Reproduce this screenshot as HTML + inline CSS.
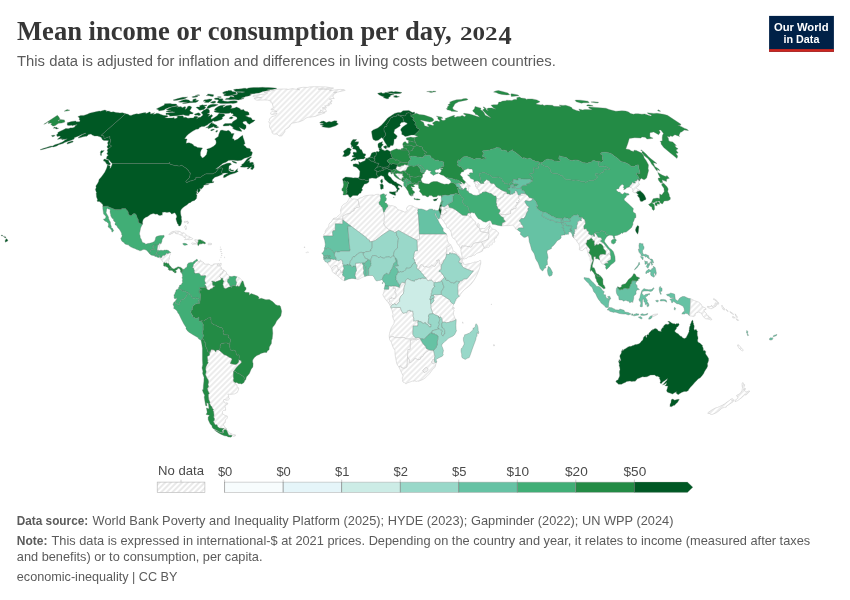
<!DOCTYPE html>
<html><head><meta charset="utf-8"><title>Mean income or consumption per day, 2024</title>
<style>
html,body{margin:0;padding:0;background:#fff}
body{width:850px;height:600px;position:relative;overflow:hidden;font-family:"Liberation Sans",sans-serif;color:#5b5b5b}
</style></head><body>
<svg id="map" width="850" height="600" viewBox="0 0 850 600" style="position:absolute;left:0;top:0"><defs><pattern id="hatch" patternUnits="userSpaceOnUse" width="4" height="4" patternTransform="rotate(-45)"><rect width="4" height="4" fill="#fff"/><rect y="1.4" width="4" height="1.2" fill="#e0e0e0"/></pattern></defs><path d="M157.7,245.1L157.7,244.7L158.4,245.0L159.4,243.3L159.9,243.3L160.3,243.7L160.2,244.4L159.6,245.6L159.8,246.0L159.4,246.9L159.5,247.2L159.1,248.5L158.6,249.2L158.2,249.3L157.6,250.2L156.9,250.2L157.4,247.2L157.7,245.1Z" fill="url(#hatch)" fill-rule="evenodd" stroke="#c4c4c4" stroke-width="0.5"/>
<path d="M160.6,257.8L161.3,257.7L161.6,257.1L162.0,257.1L162.0,255.8L162.6,255.7L163.1,255.8L163.6,255.1L164.3,255.6L164.5,255.3L165.0,255.0L165.8,254.2L165.9,253.7L166.2,253.7L166.5,253.1L166.8,253.0L167.1,253.4L167.6,253.5L168.1,253.2L168.7,253.2L169.5,252.8L169.9,252.5L170.7,252.5L170.5,252.8L170.3,253.4L170.4,254.3L169.8,255.2L169.5,256.3L169.3,257.5L169.4,258.1L169.3,259.3L168.9,259.6L168.6,260.7L168.8,261.4L168.2,262.1L168.3,262.8L168.6,263.2L168.0,263.8L167.3,263.6L167.0,263.1L166.3,262.8L165.7,263.2L164.3,262.5L163.9,262.8L163.1,262.0L162.1,260.9L161.7,260.1L160.8,259.2L159.7,258.0L160.0,257.6L160.4,258.0L160.6,257.8Z" fill="url(#hatch)" fill-rule="evenodd" stroke="#c4c4c4" stroke-width="0.5"/>
<path d="M206.6,288.7L206.0,286.1L205.4,285.2L204.5,284.6L205.8,283.3L205.7,282.7L205.0,281.9L204.6,280.2L204.9,278.3L205.4,277.4L205.9,275.9L205.0,275.5L203.7,275.8L202.0,275.7L201.1,275.9L199.5,273.7L198.2,273.3L195.2,273.6L194.7,272.7L194.1,272.5L194.1,271.9L194.4,270.9L194.2,269.9L193.8,269.3L193.5,268.1L192.3,267.9L193.0,266.4L193.4,264.5L194.2,263.5L195.1,262.8L195.8,261.5L197.3,261.0L199.9,262.1L199.7,260.8L200.6,260.0L201.3,261.8L202.9,261.9L204.3,263.3L204.4,264.2L206.4,264.2L208.9,264.0L210.2,265.2L212.0,265.5L213.3,264.7L213.4,264.0L216.2,263.8L219.0,263.8L217.0,264.6L217.7,265.8L219.6,266.0L221.3,267.3L221.6,269.4L222.8,269.4L223.7,270.0L222.3,273.5L221.7,273.9L220.3,274.4L220.3,275.6L219.6,276.3L221.2,278.3L221.4,279.1L220.6,280.1L217.9,281.1L216.3,281.4L215.6,282.1L213.7,281.4L212.0,281.1L211.6,281.3L212.6,282.0L212.5,283.8L212.8,285.4L214.7,285.7L214.9,286.2L213.2,286.9L212.9,288.1L211.9,288.5L210.2,289.1L209.7,289.9L207.9,290.1L206.6,288.7Z" fill="url(#hatch)" fill-rule="evenodd" stroke="#c4c4c4" stroke-width="0.5"/>
<path d="M209.6,351.8L210.0,352.5L211.3,349.4L214.3,350.1L215.8,352.0L216.5,349.9L219.1,350.0L219.5,350.5L224.2,354.8L226.1,355.2L229.1,357.2L231.5,358.2L232.0,359.4L230.2,363.4L232.6,364.1L235.2,364.5L236.9,364.1L238.7,362.0L238.8,359.7L241.2,360.7L241.4,362.8L239.7,364.3L238.3,365.4L236.1,367.9L233.6,371.5L233.4,373.6L233.3,376.3L233.8,378.9L233.4,379.5L233.5,381.2L233.7,382.6L236.9,384.9L237.0,386.7L238.6,387.8L238.7,389.1L237.3,392.4L234.5,393.9L230.3,394.4L227.8,394.1L228.6,395.7L228.7,397.7L229.5,399.0L228.4,399.9L226.3,400.3L224.0,399.3L223.4,400.0L224.4,402.6L226.1,403.4L227.0,402.5L228.0,403.9L226.3,404.7L225.1,406.3L225.6,408.9L225.6,410.3L223.6,410.3L222.4,411.6L222.4,413.6L225.1,415.5L227.3,416.0L227.3,418.3L225.4,419.7L225.2,422.7L223.7,423.7L223.4,424.9L225.1,427.5L227.0,429.0L226.1,428.9L224.1,428.5L219.2,428.1L217.7,426.7L216.9,424.8L215.7,424.9L214.6,424.0L213.3,421.3L214.4,420.2L214.4,418.6L213.7,417.3L214.0,415.1L213.6,411.7L212.8,410.1L213.5,409.6L213.0,408.7L211.8,408.2L212.2,407.1L210.9,406.1L209.4,403.1L210.1,402.6L208.7,399.4L208.4,396.7L208.3,394.4L209.3,393.4L208.0,390.9L207.3,388.5L208.6,386.7L208.0,384.5L208.6,382.0L208.1,379.5L207.4,379.1L205.4,374.5L206.2,371.8L205.6,369.3L205.9,366.9L207.0,364.4L208.3,362.8L207.5,361.8L207.8,360.9L207.2,356.5L209.5,355.2L209.6,351.8Z" fill="url(#hatch)" fill-rule="evenodd" stroke="#c4c4c4" stroke-width="0.5"/>
<path d="M221.2,278.3L219.6,276.3L220.3,275.6L220.3,274.4L221.7,273.9L222.3,273.5L223.7,270.0L225.2,270.9L226.6,272.7L226.6,274.0L227.4,274.1L228.7,275.4L229.5,276.3L229.1,278.7L227.7,279.3L227.8,279.9L227.3,281.3L228.3,283.2L229.1,283.2L229.4,284.7L230.7,287.0L230.2,287.1L228.9,286.9L228.1,287.6L227.1,288.0L226.3,288.2L226.1,288.7L224.9,288.5L223.5,287.3L223.4,286.1L222.8,284.7L223.2,282.5L223.9,281.6L223.3,280.4L222.6,280.0L222.9,278.8L222.4,278.2L221.2,278.3Z" fill="url(#hatch)" fill-rule="evenodd" stroke="#c4c4c4" stroke-width="0.5"/>
<path d="M235.5,285.9L236.1,284.8L236.3,283.6L236.7,282.5L235.8,280.9L235.7,279.1L236.9,276.8L237.7,277.1L239.4,277.8L241.8,280.0L242.2,281.1L240.8,283.5L240.0,285.4L239.1,286.4L238.0,286.6L237.7,285.9L237.2,285.7L236.5,286.4L235.5,285.9Z" fill="url(#hatch)" fill-rule="evenodd" stroke="#c4c4c4" stroke-width="0.5"/>
<path d="M102.8,206.4L108.3,205.9L107.9,206.4L115.2,209.6L121.4,209.5L121.8,208.5L125.6,208.5L126.2,209.4L127.0,210.2L128.0,211.4L128.4,212.7L128.5,214.2L129.5,215.0L131.1,215.8L133.1,213.7L134.9,213.6L136.2,214.7L136.9,216.5L137.3,218.0L138.3,219.5L138.4,221.4L138.7,222.6L140.3,223.4L141.8,224.0L142.7,223.9L141.4,226.2L140.6,228.1L139.9,231.7L139.5,233.0L139.6,234.4L140.1,235.7L140.3,237.7L141.5,239.7L141.9,241.2L142.6,242.5L144.9,243.2L145.7,244.3L147.8,243.5L149.6,243.3L151.4,242.8L152.9,242.3L154.5,241.3L155.2,239.7L155.7,237.5L156.2,236.7L157.9,236.1L160.4,235.5L162.4,235.5L163.8,235.3L164.3,235.9L164.0,237.1L162.6,238.7L161.8,240.3L162.2,240.8L161.7,241.9L160.9,244.0L160.4,243.3L159.9,243.3L159.4,243.3L158.4,245.0L157.7,244.7L157.7,245.1L155.6,245.1L153.5,245.1L153.3,246.6L152.2,246.6L153.0,247.5L153.7,248.1L153.9,248.7L154.3,248.8L154.1,249.7L151.2,249.7L149.8,251.9L150.1,252.4L149.8,253.0L149.6,253.7L147.3,250.9L146.2,250.1L144.4,249.4L143.1,249.6L141.2,250.6L139.9,250.8L138.4,250.1L136.8,249.6L134.7,248.4L133.1,248.0L130.6,246.8L128.9,245.6L128.4,244.8L127.2,244.7L124.9,243.9L124.2,242.7L121.9,241.2L121.1,239.5L120.7,238.2L121.5,238.0L121.4,237.2L122.0,236.5L122.2,235.6L121.6,234.5L121.6,233.4L121.0,232.1L119.5,229.5L117.6,227.4L116.8,225.8L115.1,224.7L114.9,224.1L115.6,222.4L114.6,221.8L113.5,220.5L113.4,218.7L112.3,218.5L111.4,217.1L110.7,215.8L110.8,215.0L110.2,213.0L110.0,211.0L110.4,210.0L109.1,208.9L108.3,209.1L107.3,208.3L106.6,209.4L106.5,210.7L106.1,212.6L106.6,213.7L107.7,215.5L107.9,216.1L108.2,216.4L108.2,217.2L108.6,217.2L108.6,218.9L109.1,219.6L109.4,220.5L110.4,221.9L110.6,224.3L111.0,225.5L111.4,226.7L111.2,228.1L112.3,228.1L113.0,229.3L113.6,230.5L113.5,231.0L112.3,232.0L111.9,232.0L111.6,230.3L110.4,228.8L109.0,227.6L108.0,226.9L108.5,225.0L108.5,223.6L107.6,222.7L106.4,221.6L106.0,221.9L105.6,221.2L104.3,220.6L103.4,219.1L103.6,218.9L104.5,219.0L105.6,218.0L106.0,216.8L104.8,215.0L103.7,214.2L103.4,212.6L103.2,210.9L102.8,208.7L102.8,206.4Z" fill="#41ae76" fill-rule="evenodd" stroke="#66756c" stroke-width="0.32"/>
<path d="M142.7,223.9L141.8,224.0L140.3,223.4L138.7,222.6L138.4,221.4L138.3,219.5L137.3,218.0L136.9,216.5L136.2,214.7L134.9,213.6L133.1,213.7L131.1,215.8L129.5,215.0L128.5,214.2L128.4,212.7L128.0,211.4L127.0,210.2L126.2,209.4L125.6,208.5L121.8,208.5L121.4,209.5L115.2,209.6L107.9,206.4L108.3,205.9L102.8,206.4L102.9,205.0L102.0,203.5L101.1,203.2L101.2,202.5L100.0,202.3L99.5,201.6L97.5,201.4L97.1,200.9L97.5,199.5L96.5,196.9L96.2,193.2L96.6,192.6L96.1,191.7L95.4,189.5L96.2,187.4L95.8,186.0L97.4,183.8L98.6,181.6L99.0,179.6L101.3,177.1L104.6,172.4L106.3,169.0L107.1,166.8L107.2,165.6L107.8,165.1L110.2,166.0L109.8,168.4L110.7,167.7L111.7,165.6L112.4,163.5L168.7,163.5L169.2,162.5L169.9,162.5L169.6,163.9L171.3,164.5L173.2,164.9L174.8,165.7L176.6,165.4L178.8,166.0L179.5,166.0L181.7,165.3L187.3,168.9L187.2,169.6L187.6,169.8L188.4,169.9L188.5,170.9L189.0,170.9L189.2,171.2L188.8,171.7L190.4,172.9L190.0,175.2L189.5,177.5L188.3,179.0L186.7,180.5L185.9,181.4L185.8,181.6L185.9,182.0L186.5,182.4L187.0,182.4L190.0,181.0L192.3,180.6L195.5,179.3L195.7,179.0L195.8,178.3L195.6,177.7L196.7,177.3L200.7,177.3L201.8,176.3L202.1,176.1L205.0,174.2L206.1,173.8L213.2,173.8L213.6,173.1L214.3,173.0L215.3,172.6L216.4,171.4L217.8,169.4L220.0,167.5L220.5,168.2L222.0,167.7L222.7,168.4L221.5,172.0L222.4,173.4L222.5,174.3L219.8,175.5L217.4,176.4L214.9,177.2L213.3,178.7L212.7,179.3L212.2,180.7L212.5,182.1L213.4,182.1L213.4,181.2L213.9,181.8L213.5,182.5L211.9,182.9L210.9,182.9L209.2,183.3L208.2,183.5L207.0,183.6L204.9,184.4L208.2,183.9L208.7,184.4L205.5,185.1L204.1,185.1L203.4,185.6L204.0,185.7L202.9,187.5L200.8,189.6L200.8,188.9L200.4,188.8L199.9,188.1L199.9,189.5L200.3,190.0L200.0,191.0L199.0,192.0L197.2,194.1L197.1,194.0L198.2,192.2L197.4,191.2L197.8,189.0L197.1,190.1L197.0,191.8L195.7,191.4L197.0,192.2L196.3,194.7L196.9,194.9L196.9,195.8L196.5,198.5L194.6,200.4L192.1,201.2L190.3,202.7L189.1,202.9L187.8,203.9L187.2,204.7L184.4,206.5L182.8,207.7L181.4,209.3L180.6,211.1L180.6,213.0L180.9,215.2L181.5,217.1L181.3,218.2L181.8,221.3L181.4,223.1L181.2,224.1L180.3,225.7L179.6,226.0L178.5,225.7L178.4,224.5L177.6,223.9L176.8,221.7L176.1,219.6L176.0,218.6L176.8,216.9L176.5,215.4L175.2,213.2L174.4,212.8L171.9,214.0L171.5,213.9L170.7,212.7L169.5,212.0L166.9,212.4L164.9,212.1L163.2,212.2L162.2,212.6L162.4,213.4L162.1,214.4L162.5,214.9L162.0,215.3L161.2,214.9L160.3,215.4L158.7,215.3L157.3,213.9L155.3,214.2L153.8,213.6L152.4,213.8L150.3,214.4L147.8,216.4L145.3,217.5L143.8,218.8L143.0,220.0L142.6,221.8L142.5,223.0L142.7,223.9Z" fill="#005824" fill-rule="evenodd" stroke="#66756c" stroke-width="0.32"/>
<path d="M149.6,253.7L149.8,253.0L150.1,252.4L149.8,251.9L151.2,249.7L154.1,249.7L154.3,248.8L153.9,248.7L153.7,248.1L153.0,247.5L152.2,246.6L153.3,246.6L153.5,245.1L155.6,245.1L157.7,245.1L157.4,247.2L156.9,250.2L157.6,250.2L158.3,250.7L158.5,250.3L159.2,250.6L158.0,251.6L156.9,252.3L156.6,252.9L156.7,253.4L156.2,254.1L155.6,254.2L155.8,254.5L155.3,254.8L154.4,255.5L154.3,255.8L153.2,255.4L151.7,255.3L150.7,254.8L149.6,253.7Z" fill="#41ae76" fill-rule="evenodd" stroke="#66756c" stroke-width="0.32"/>
<path d="M156.2,254.1L156.7,253.4L156.6,252.9L156.9,252.3L158.0,251.6L159.2,250.6L159.4,250.7L160.0,250.3L160.6,250.2L160.8,250.4L161.2,250.3L162.2,250.5L163.3,250.5L164.1,250.2L164.4,249.9L165.1,250.0L165.6,250.2L166.2,250.1L166.7,249.9L167.7,250.3L168.1,250.3L168.7,250.8L169.3,251.4L170.1,251.8L170.7,252.5L169.9,252.5L169.5,252.8L168.7,253.2L168.1,253.2L167.6,253.5L167.1,253.4L166.8,253.0L166.5,253.1L166.2,253.7L165.9,253.7L165.8,254.2L165.0,255.0L164.5,255.3L164.3,255.6L163.6,255.1L163.1,255.8L162.6,255.7L162.0,255.8L162.0,257.1L161.6,257.1L161.3,257.7L160.6,257.8L160.2,257.0L159.6,256.8L159.8,255.7L159.5,255.5L159.1,255.3L158.0,255.6L158.0,255.2L157.3,254.8L156.9,254.3L156.2,254.1Z" fill="#41ae76" fill-rule="evenodd" stroke="#66756c" stroke-width="0.32"/>
<path d="M154.3,255.8L154.4,255.5L155.3,254.8L155.8,254.5L155.6,254.2L156.2,254.1L156.9,254.3L157.3,254.8L158.0,255.2L158.0,255.6L159.1,255.3L159.5,255.5L159.8,255.7L159.6,256.8L159.3,257.4L157.9,257.4L157.1,257.1L156.2,256.6L154.9,256.4L154.3,255.8Z" fill="#41ae76" fill-rule="evenodd" stroke="#66756c" stroke-width="0.32"/>
<path d="M163.9,262.8L164.3,262.5L165.7,263.2L166.3,262.8L167.0,263.1L167.3,263.6L168.0,263.8L168.6,263.2L169.1,264.6L169.9,265.7L170.9,266.8L170.0,267.1L170.0,268.1L170.5,268.5L170.1,268.8L170.2,269.3L169.9,269.8L169.8,270.3L168.6,269.8L168.1,269.2L168.4,268.8L168.4,268.2L167.7,267.6L166.9,267.0L166.1,266.7L166.0,265.9L165.4,265.5L165.5,266.2L165.0,266.8L164.5,266.1L163.8,265.9L163.5,265.3L163.6,264.5L163.9,263.7L163.3,263.3L163.9,262.8Z" fill="#238b45" fill-rule="evenodd" stroke="#66756c" stroke-width="0.32"/>
<path d="M169.8,270.3L169.9,269.8L170.2,269.3L170.1,268.8L170.5,268.5L170.0,268.1L170.0,267.1L170.9,266.8L171.7,267.8L171.6,268.3L172.6,268.5L172.8,268.2L173.4,268.9L174.6,268.7L175.6,268.0L177.0,267.5L177.9,266.7L179.1,266.9L179.0,267.1L180.3,267.2L181.3,267.7L182.0,268.5L182.9,269.2L182.6,269.6L183.0,271.1L182.6,271.9L181.8,271.7L181.5,273.0L180.7,272.2L180.3,270.8L180.9,270.1L180.3,269.9L179.9,269.1L178.8,268.3L177.8,268.5L177.3,269.4L176.3,270.1L175.8,270.2L175.5,270.7L176.6,272.1L175.9,272.5L175.6,272.9L174.5,273.0L174.2,271.4L173.8,271.9L173.1,271.7L172.7,270.7L171.7,270.5L171.1,270.2L170.1,270.2L170.0,270.8L169.8,270.3Z" fill="#238b45" fill-rule="evenodd" stroke="#66756c" stroke-width="0.32"/>
<path d="M181.5,273.0L181.8,271.7L182.6,271.9L183.0,271.1L182.6,269.6L182.9,269.2L184.1,269.3L185.9,267.4L186.9,267.2L187.0,266.3L187.5,264.1L188.9,262.8L190.4,262.8L190.6,262.2L192.4,262.5L194.3,261.1L195.2,260.5L196.4,259.3L197.2,259.4L197.8,260.1L197.3,261.0L195.8,261.5L195.1,262.8L194.2,263.5L193.4,264.5L193.0,266.4L192.3,267.9L193.5,268.1L193.8,269.3L194.2,269.9L194.4,270.9L194.1,271.9L194.1,272.5L194.7,272.7L195.2,273.6L198.2,273.3L199.5,273.7L201.1,275.9L202.0,275.7L203.7,275.8L205.0,275.5L205.9,275.9L205.4,277.4L204.9,278.3L204.6,280.2L205.0,281.9L205.7,282.7L205.8,283.3L204.5,284.6L205.4,285.2L206.0,286.1L206.6,288.7L206.2,289.0L205.8,287.5L205.1,286.6L204.4,287.6L199.8,287.5L199.8,289.1L201.2,289.4L201.1,290.4L200.6,290.1L199.3,290.6L199.3,292.5L200.3,293.4L200.7,294.9L200.7,296.1L199.8,303.3L198.6,301.9L197.9,301.8L199.3,299.2L197.5,297.9L196.1,298.2L195.3,297.7L194.0,298.4L192.3,298.1L190.9,295.3L189.8,294.6L189.0,293.4L187.5,292.2L186.9,292.4L185.9,291.8L184.7,290.9L184.0,291.3L182.1,290.9L181.5,289.8L181.1,289.9L178.7,288.4L178.5,287.6L179.3,287.3L179.3,286.0L179.8,285.1L181.0,284.9L182.0,283.2L182.9,281.9L182.1,281.2L182.6,279.7L182.1,277.3L182.6,276.6L182.3,274.4L181.5,273.0Z" fill="#41ae76" fill-rule="evenodd" stroke="#66756c" stroke-width="0.32"/>
<path d="M199.8,303.3L200.7,296.1L200.7,294.9L200.3,293.4L199.3,292.5L199.3,290.6L200.6,290.1L201.1,290.4L201.2,289.4L199.8,289.1L199.8,287.5L204.4,287.6L205.1,286.6L205.8,287.5L206.2,289.0L206.6,288.7L207.9,290.1L209.7,289.9L210.2,289.1L211.9,288.5L212.9,288.1L213.2,286.9L214.9,286.2L214.7,285.7L212.8,285.4L212.5,283.8L212.6,282.0L211.6,281.3L212.0,281.1L213.7,281.4L215.6,282.1L216.3,281.4L217.9,281.1L220.6,280.1L221.4,279.1L221.2,278.3L222.4,278.2L222.9,278.8L222.6,280.0L223.3,280.4L223.9,281.6L223.2,282.5L222.8,284.7L223.4,286.1L223.5,287.3L224.9,288.5L226.1,288.7L226.3,288.2L227.1,288.0L228.1,287.6L228.9,286.9L230.2,287.1L230.7,287.0L232.0,287.2L232.2,286.7L231.8,286.2L232.1,285.4L233.0,285.6L234.1,285.4L235.5,285.9L236.5,286.4L237.2,285.7L237.7,285.9L238.0,286.6L239.1,286.4L240.0,285.4L240.8,283.5L242.2,281.1L243.0,280.9L243.5,282.4L244.8,287.0L246.0,287.4L246.1,289.2L244.3,291.4L245.0,292.2L249.2,292.6L249.3,295.3L251.0,293.5L253.9,294.5L257.8,296.1L259.0,297.6L258.6,299.1L261.3,298.3L265.9,299.7L269.3,299.6L272.8,301.7L275.8,304.7L277.6,305.4L279.6,305.6L280.5,306.4L281.3,309.7L281.7,311.3L280.9,315.7L279.7,317.4L276.6,321.0L275.2,324.0L273.6,326.3L273.0,326.4L272.4,328.3L272.8,333.2L272.4,337.3L272.2,339.0L271.6,340.0L271.4,343.6L269.3,347.0L269.1,349.7L267.3,350.9L266.8,352.4L264.4,352.4L260.9,353.4L259.4,354.6L256.9,355.4L254.4,357.5L252.7,360.1L252.6,362.0L253.1,363.5L253.0,366.2L252.6,367.4L251.3,368.9L249.4,373.5L247.8,375.6L246.4,376.9L245.8,379.4L244.6,380.9L243.8,379.4L244.5,378.1L243.0,376.3L241.0,374.9L238.4,373.2L237.6,373.3L235.0,371.2L233.6,371.5L236.1,367.9L238.3,365.4L239.7,364.3L241.4,362.8L241.2,360.7L238.8,359.7L239.1,358.2L239.2,356.7L239.1,355.2L238.2,354.7L237.4,355.2L236.6,355.0L236.2,354.0L235.8,351.6L235.3,350.8L233.7,350.1L232.8,350.6L230.3,350.1L229.4,345.1L230.0,344.5L229.7,343.0L230.2,341.9L230.4,339.8L229.8,338.2L228.5,337.4L228.1,336.4L228.4,334.9L223.9,334.8L222.8,331.7L223.5,331.7L223.4,330.5L222.9,329.8L222.7,328.3L221.3,327.5L219.8,327.5L218.8,326.7L217.2,326.2L216.3,325.2L213.6,324.8L211.0,322.4L211.1,320.7L210.8,319.7L210.9,317.7L207.9,318.1L206.7,319.1L204.7,320.2L204.3,321.0L203.1,321.0L201.3,320.8L200.1,321.3L199.0,321.0L198.9,317.0L197.1,318.5L195.1,318.4L194.1,317.0L192.5,316.9L193.0,315.8L191.6,314.2L190.5,311.8L191.2,311.3L191.1,310.2L192.5,309.4L192.2,308.0L192.8,307.1L192.9,305.9L195.5,304.1L197.7,303.2L199.8,303.3Z" fill="#238b45" fill-rule="evenodd" stroke="#66756c" stroke-width="0.32"/>
<path d="M186.9,292.4L187.5,292.2L189.0,293.4L189.8,294.6L190.9,295.3L192.3,298.1L194.0,298.4L195.3,297.7L196.1,298.2L197.5,297.9L199.3,299.2L197.9,301.8L198.6,301.9L199.8,303.3L197.7,303.2L195.5,304.1L192.9,305.9L192.8,307.1L192.2,308.0L192.5,309.4L191.1,310.2L191.2,311.3L190.5,311.8L191.6,314.2L193.0,315.8L192.5,316.9L194.1,317.0L195.1,318.4L197.1,318.5L198.9,317.0L199.0,321.0L200.1,321.3L201.3,320.8L203.6,325.0L203.2,325.9L203.2,327.8L203.3,330.0L202.5,331.3L203.0,332.3L202.5,333.2L203.7,335.4L202.6,338.3L202.1,339.6L201.0,340.3L198.5,338.8L198.2,337.7L193.4,335.0L189.0,332.2L187.1,330.5L185.9,328.4L186.2,327.6L184.0,324.2L181.4,319.3L178.9,314.1L177.9,312.9L177.1,310.9L175.2,309.2L173.5,308.2L174.2,307.0L173.0,304.5L173.7,302.6L175.5,300.9L175.8,302.1L175.2,302.7L175.3,303.7L176.2,303.4L177.2,303.7L178.2,305.1L179.5,304.0L179.8,302.2L181.2,299.9L184.0,298.9L186.5,296.1L187.2,294.4L186.9,292.4Z" fill="#41ae76" fill-rule="evenodd" stroke="#66756c" stroke-width="0.32"/>
<path d="M178.7,288.4L181.1,289.9L181.5,289.8L182.1,290.9L184.0,291.3L184.7,290.9L185.9,291.8L186.9,292.4L187.2,294.4L186.5,296.1L184.0,298.9L181.2,299.9L179.8,302.2L179.5,304.0L178.2,305.1L177.2,303.7L176.2,303.4L175.3,303.7L175.2,302.7L175.8,302.1L175.5,300.9L176.7,299.0L176.2,297.8L175.3,299.1L173.9,297.9L174.3,297.2L173.9,294.8L174.7,294.4L175.1,292.7L176.0,291.1L175.9,290.0L177.2,289.4L178.7,288.4Z" fill="#41ae76" fill-rule="evenodd" stroke="#66756c" stroke-width="0.32"/>
<path d="M202.6,338.3L203.7,335.4L202.5,333.2L203.0,332.3L202.5,331.3L203.3,330.0L203.2,327.8L203.2,325.9L203.6,325.0L201.3,320.8L203.1,321.0L204.3,321.0L204.7,320.2L206.7,319.1L207.9,318.1L210.9,317.7L210.8,319.7L211.1,320.7L211.0,322.4L213.6,324.8L216.3,325.2L217.2,326.2L218.8,326.7L219.8,327.5L221.3,327.5L222.7,328.3L222.9,329.8L223.4,330.5L223.5,331.7L222.8,331.7L223.9,334.8L228.4,334.9L228.1,336.4L228.5,337.4L229.8,338.2L230.4,339.8L230.2,341.9L229.7,343.0L230.0,344.5L229.4,345.1L229.3,344.3L227.0,342.9L224.9,342.9L221.0,343.7L220.1,346.0L220.2,347.4L219.5,350.5L219.1,350.0L216.5,349.9L215.8,352.0L214.3,350.1L211.3,349.4L210.0,352.5L209.6,351.8L208.0,352.2L206.7,348.5L205.2,345.6L205.7,343.1L204.3,341.9L203.9,340.0L202.6,338.3Z" fill="#238b45" fill-rule="evenodd" stroke="#66756c" stroke-width="0.32"/>
<path d="M201.0,340.3L202.1,339.6L202.6,338.3L203.9,340.0L204.3,341.9L205.7,343.1L205.2,345.6L206.7,348.5L208.0,352.2L209.6,351.8L209.5,355.2L207.2,356.5L207.8,360.9L207.5,361.8L208.3,362.8L207.0,364.4L205.9,366.9L205.6,369.3L206.2,371.8L205.4,374.5L207.4,379.1L208.1,379.5L208.6,382.0L208.0,384.5L208.6,386.7L207.3,388.5L208.0,390.9L209.3,393.4L208.3,394.4L208.4,396.7L208.7,399.4L210.1,402.6L209.4,403.1L210.9,406.1L212.2,407.1L211.8,408.2L213.0,408.7L213.5,409.6L212.8,410.1L213.6,411.7L214.0,415.1L213.7,417.3L214.4,418.6L214.4,420.2L213.3,421.3L214.6,424.0L215.7,424.9L216.9,424.8L217.7,426.7L219.2,428.1L224.1,428.5L222.2,430.4L223.0,432.7L222.2,432.8L219.6,432.0L216.5,430.2L213.4,428.8L212.1,427.2L212.0,425.7L210.2,424.0L208.2,419.7L208.1,417.2L209.5,415.2L206.1,414.5L207.2,412.2L206.4,407.9L209.0,408.8L208.3,403.4L206.6,402.7L207.1,406.0L205.6,405.6L205.0,401.9L204.2,397.1L204.7,395.3L203.3,392.7L202.3,389.8L203.2,389.7L203.4,385.4L203.9,381.2L204.0,377.3L202.6,373.4L202.9,371.2L202.0,367.9L202.7,364.7L202.4,359.7L202.4,354.2L202.4,348.3L201.8,344.0L201.0,340.3Z" fill="#238b45" fill-rule="evenodd" stroke="#66756c" stroke-width="0.32"/>
<path d="M219.5,350.5L220.2,347.4L220.1,346.0L221.0,343.7L224.9,342.9L227.0,342.9L229.3,344.3L229.4,345.1L230.3,350.1L232.8,350.6L233.7,350.1L235.3,350.8L235.8,351.6L236.2,354.0L236.6,355.0L237.4,355.2L238.2,354.7L239.1,355.2L239.2,356.7L239.1,358.2L238.8,359.7L238.7,362.0L236.9,364.1L235.2,364.5L232.6,364.1L230.2,363.4L232.0,359.4L231.5,358.2L229.1,357.2L226.1,355.2L224.2,354.8L219.5,350.5Z" fill="#238b45" fill-rule="evenodd" stroke="#66756c" stroke-width="0.32"/>
<path d="M233.6,371.5L235.0,371.2L237.6,373.3L238.4,373.2L241.0,374.9L243.0,376.3L244.5,378.1L243.8,379.4L244.6,380.9L244.0,382.5L241.7,384.0L240.0,383.4L238.9,383.7L236.7,382.6L235.2,382.7L233.5,381.2L233.4,379.5L233.8,378.9L233.3,376.3L233.4,373.6L233.6,371.5Z" fill="#238b45" fill-rule="evenodd" stroke="#66756c" stroke-width="0.32"/>
<path d="M230.7,287.0L229.4,284.7L229.1,283.2L228.3,283.2L227.3,281.3L227.8,279.9L227.7,279.3L229.1,278.7L229.5,276.3L232.3,276.8L232.6,276.3L234.5,276.1L236.9,276.8L235.7,279.1L235.8,280.9L236.7,282.5L236.3,283.6L236.1,284.8L235.5,285.9L234.1,285.4L233.0,285.6L232.1,285.4L231.8,286.2L232.2,286.7L232.0,287.2L230.7,287.0Z" fill="#41ae76" fill-rule="evenodd" stroke="#66756c" stroke-width="0.32"/>
<path d="M222.4,173.4L221.5,172.0L222.7,168.4L222.0,167.7L220.5,168.2L220.0,167.5L217.8,169.4L216.4,171.4L215.3,172.6L214.3,173.0L213.6,173.1L213.2,173.8L206.1,173.8L205.0,174.2L202.1,176.1L201.8,176.3L200.7,177.3L196.7,177.3L195.6,177.7L195.8,178.3L195.7,179.0L195.5,179.3L192.3,180.6L190.0,181.0L187.0,182.4L186.5,182.4L185.9,182.0L185.8,181.6L185.9,181.4L186.7,180.5L188.3,179.0L189.5,177.5L190.0,175.2L190.4,172.9L188.8,171.7L189.2,171.2L189.0,170.9L188.5,170.9L188.4,169.9L187.6,169.8L187.2,169.6L187.3,168.9L181.7,165.3L179.5,166.0L178.8,166.0L176.6,165.4L174.8,165.7L173.2,164.9L171.3,164.5L169.6,163.9L169.9,162.5L169.2,162.5L168.7,163.5L112.4,163.5L112.1,163.5L109.9,161.0L109.2,159.9L106.3,158.8L106.9,156.6L108.4,155.0L106.7,154.0L107.9,152.0L107.1,150.1L108.1,148.9L111.5,146.1L109.6,144.5L110.7,140.0L110.0,138.9L109.7,137.9L109.9,136.6L107.3,137.4L104.1,138.8L103.8,136.1L102.7,135.4L100.9,135.4L125.6,113.7L128.1,114.2L129.5,115.2L131.0,115.4L133.5,114.6L136.5,113.8L138.6,114.1L142.3,113.1L145.7,112.6L145.8,113.5L147.5,113.0L149.3,111.9L150.2,112.1L150.6,114.1L154.6,112.7L152.9,114.3L155.3,114.0L156.7,113.3L158.6,113.4L160.3,114.3L163.2,115.2L165.2,115.6L167.1,115.4L168.2,116.6L164.7,117.7L167.3,118.1L172.2,117.9L174.1,117.5L174.6,118.8L177.5,117.7L176.7,116.8L178.4,116.0L180.6,115.9L182.2,115.7L183.2,116.2L183.7,117.5L185.8,117.2L187.9,118.2L190.9,117.9L193.5,117.9L194.3,116.6L196.1,116.2L198.2,116.9L196.5,119.0L199.0,117.2L200.3,117.3L203.0,115.1L202.3,113.7L201.1,112.8L203.4,110.4L206.8,108.8L208.6,109.2L209.4,110.2L209.6,112.6L207.2,113.7L209.9,114.1L208.1,116.4L211.8,114.6L212.7,116.1L210.9,117.7L211.4,119.3L214.4,117.6L217.1,115.7L219.1,113.3L221.3,113.4L223.6,113.8L225.0,114.9L224.4,116.0L222.2,117.2L222.6,118.4L221.6,119.5L217.2,121.1L214.5,121.4L213.1,120.7L211.8,121.9L208.7,123.8L207.6,124.8L204.3,126.4L201.7,126.6L199.6,127.6L198.4,129.1L196.1,129.3L192.5,131.3L188.6,134.0L186.5,135.9L184.6,138.7L187.1,139.1L186.4,141.3L186.1,143.2L189.0,142.7L191.9,143.8L193.3,144.7L194.0,145.9L196.0,146.6L197.5,147.6L200.6,147.8L202.6,148.0L201.1,150.2L200.4,152.7L200.5,155.5L202.3,157.9L204.2,157.1L206.5,154.5L207.4,150.5L206.7,149.2L210.4,148.0L213.5,146.3L215.5,144.6L216.2,142.9L216.0,140.8L214.7,139.0L218.3,136.5L218.8,134.3L220.4,130.6L222.0,130.0L224.7,130.7L226.4,130.9L228.3,130.3L229.5,131.1L231.0,132.5L231.1,133.4L234.2,133.6L233.2,135.6L232.3,138.6L233.8,139.0L234.5,140.5L237.8,139.1L240.9,136.4L242.7,135.3L243.1,137.5L244.2,140.6L245.0,143.5L243.6,145.0L245.6,146.4L246.7,147.9L249.6,148.5L250.6,149.3L250.6,151.4L252.0,151.7L252.4,152.7L251.6,155.5L249.8,156.5L248.1,157.3L244.5,158.3L241.3,160.3L237.7,160.7L233.6,160.2L230.6,160.2L228.4,160.4L226.0,162.2L223.0,163.3L218.8,166.7L215.6,169.1L217.5,168.6L222.0,165.3L227.1,163.2L230.2,162.9L231.6,164.2L229.0,165.9L228.8,168.6L228.8,170.6L231.1,171.9L234.7,171.5L237.6,168.6L237.2,170.5L238.3,171.4L235.2,173.1L230.1,174.6L227.7,175.7L224.8,177.5L223.3,177.4L223.9,175.2L228.1,173.0L224.8,173.1L222.4,173.4Z" fill="#005824" fill-rule="evenodd" stroke="#66756c" stroke-width="0.32"/>
<path d="M125.6,113.7L100.9,135.4L102.7,135.4L103.8,136.1L104.1,138.8L107.3,137.4L109.9,136.6L109.7,137.9L110.0,138.9L110.7,140.0L109.6,144.5L111.5,146.1L108.1,148.9L107.8,147.9L106.8,147.1L108.2,145.0L107.5,143.0L108.6,140.7L107.0,140.5L104.0,140.5L102.5,139.7L101.1,137.2L99.8,136.8L97.4,135.9L94.6,136.1L92.1,135.0L91.1,134.0L88.5,134.5L87.0,136.2L85.8,136.3L83.1,136.8L80.6,137.6L78.0,138.1L79.2,136.7L82.7,134.4L85.5,133.6L85.7,133.0L81.8,134.4L78.8,136.0L74.2,137.7L74.2,138.9L70.6,140.6L67.4,141.6L64.7,142.4L63.0,143.5L58.7,144.7L56.8,145.9L53.5,146.9L52.3,146.8L49.8,147.5L46.9,148.3L44.4,149.1L40.3,149.9L40.5,149.4L43.8,148.3L46.6,147.5L50.1,146.2L52.8,145.9L54.8,144.8L59.1,143.4L60.0,142.9L62.4,142.0L64.8,140.2L67.3,138.7L64.4,139.5L64.2,139.0L62.2,139.9L62.3,138.7L60.8,139.6L61.5,138.4L58.5,139.3L57.4,139.3L58.9,137.9L60.3,137.0L60.1,136.1L57.1,136.6L56.9,135.5L56.3,134.9L58.0,133.6L57.8,132.5L60.2,131.2L63.4,129.8L65.6,128.6L67.3,128.4L68.0,128.8L70.9,127.7L72.0,127.9L74.3,127.2L75.3,126.1L74.8,125.7L77.3,124.8L76.2,124.8L73.6,125.3L72.4,125.8L71.7,125.3L68.8,125.6L67.0,125.0L67.4,124.1L67.1,122.8L71.5,121.5L75.9,120.9L76.1,121.8L79.6,121.8L80.0,120.4L79.2,119.5L79.5,118.4L79.1,117.5L77.8,116.7L80.6,115.4L83.7,115.4L87.3,114.3L89.4,113.2L92.4,112.4L94.6,112.0L99.2,111.0L100.3,111.3L104.6,110.1L106.4,110.5L106.3,111.5L107.6,111.0L110.2,111.2L109.3,111.7L111.5,112.1L113.4,111.8L116.0,112.6L118.8,112.8L119.9,113.0L122.5,112.7L124.1,113.3L125.6,113.7Z" fill="#005824" fill-rule="evenodd" stroke="#66756c" stroke-width="0.32"/>
<path d="M357.6,199.5L358.5,201.1L358.6,202.7L359.3,205.5L359.9,206.1L359.5,207.1L356.6,207.6L355.6,208.5L354.3,208.7L354.2,210.7L351.6,211.7L350.7,213.1L348.8,213.8L346.6,214.2L342.9,216.1L342.9,219.2L332.9,219.2L334.0,218.2L336.1,217.9L337.9,216.1L339.1,215.4L341.0,213.2L340.5,210.0L341.5,207.7L341.8,206.3L343.3,204.5L345.5,203.3L347.2,202.2L348.7,199.5L349.4,197.9L351.0,197.9L352.3,199.0L354.4,198.9L356.7,199.4L357.6,199.5Z" fill="url(#hatch)" fill-rule="evenodd" stroke="#c4c4c4" stroke-width="0.5"/>
<path d="M342.9,219.2L342.9,216.1L346.6,214.2L348.8,213.8L350.7,213.1L351.6,211.7L354.2,210.7L354.3,208.7L355.6,208.5L356.6,207.6L359.5,207.1L359.9,206.1L359.3,205.5L358.6,202.7L358.5,201.1L357.6,199.5L359.8,198.0L362.1,197.6L363.5,196.5L365.6,195.7L369.3,195.2L372.9,195.0L374.0,195.4L376.0,194.4L378.3,194.3L379.3,194.9L380.6,194.8L380.3,196.1L380.8,198.6L380.3,200.8L379.0,202.3L379.2,204.3L381.1,205.8L381.1,206.5L382.5,207.5L383.6,212.2L384.4,214.6L384.5,215.8L384.2,218.0L384.4,219.1L384.1,220.6L384.3,222.2L383.5,223.3L384.8,225.2L385.0,226.4L389.7,230.2L382.0,235.2L375.4,240.4L372.2,241.6L369.6,241.8L369.6,240.2L368.5,239.7L367.1,239.0L366.6,237.8L358.9,232.0L351.2,226.3L342.8,219.9L342.9,219.2Z" fill="url(#hatch)" fill-rule="evenodd" stroke="#c4c4c4" stroke-width="0.5"/>
<path d="M342.9,219.2L342.8,219.9L342.7,223.9L335.3,223.8L335.2,230.5L333.1,230.7L332.5,232.1L332.9,235.9L323.9,235.9L323.5,236.4L323.6,235.6L323.7,234.4L324.6,233.7L325.4,232.3L325.2,231.4L326.1,229.6L327.4,227.9L328.2,227.5L328.8,226.0L328.9,224.5L329.8,222.9L331.3,222.0L332.8,219.3L332.9,219.2L342.9,219.2Z" fill="url(#hatch)" fill-rule="evenodd" stroke="#c4c4c4" stroke-width="0.5"/>
<path d="M389.7,230.2L385.0,226.4L384.8,225.2L383.5,223.3L384.3,222.2L384.1,220.6L384.4,219.1L384.2,218.0L384.5,215.8L384.4,214.6L383.6,212.2L384.7,211.6L384.8,210.5L386.1,208.4L386.7,207.6L387.8,206.8L387.8,204.8L390.4,205.7L391.4,205.5L393.2,205.9L396.2,207.1L397.4,209.4L399.4,210.0L402.6,211.1L405.0,212.4L406.1,211.7L407.1,210.5L406.5,208.5L407.1,207.2L408.6,205.9L410.1,205.6L413.1,206.1L414.0,207.3L414.8,207.3L415.5,207.7L417.8,208.1L418.3,208.8L417.7,210.2L418.1,211.3L417.6,213.0L418.4,215.1L419.0,224.4L419.4,234.1L419.6,239.4L416.9,239.4L417.0,240.5L407.7,235.4L398.5,230.4L396.2,231.8L394.6,232.8L393.3,231.4L389.7,230.2Z" fill="url(#hatch)" fill-rule="evenodd" stroke="#c4c4c4" stroke-width="0.5"/>
<path d="M417.0,240.5L416.9,239.4L419.6,239.4L419.4,234.1L446.5,234.1L447.3,236.7L446.9,237.2L447.3,239.9L448.3,243.0L449.3,243.7L450.6,244.7L449.5,246.1L447.8,246.6L447.1,247.4L447.0,249.1L446.2,253.0L446.5,254.1L446.2,256.3L445.3,258.9L444.0,260.2L443.1,262.2L442.9,263.3L441.8,264.0L441.2,266.8L441.2,269.2L441.2,267.1L440.8,267.1L440.9,265.7L440.6,264.8L439.3,263.8L439.0,261.9L439.2,260.0L438.1,259.8L438.0,260.4L436.6,260.5L437.2,261.3L437.4,262.8L436.2,264.3L435.1,266.2L433.9,266.5L431.9,264.9L431.1,265.5L430.9,266.2L429.7,266.7L429.6,267.3L427.3,267.3L426.9,266.7L425.3,266.6L424.4,267.1L423.8,266.9L422.2,264.6L420.5,265.0L419.3,268.6L417.7,269.2L416.8,268.5L416.7,267.6L417.0,266.5L417.0,265.5L415.6,263.8L415.3,262.7L415.4,262.1L414.5,261.3L414.5,259.7L413.9,258.7L413.1,258.9L413.3,257.9L413.9,256.8L413.6,255.7L414.4,254.9L413.9,254.3L414.4,252.7L415.4,250.7L417.4,250.9L417.0,240.5Z" fill="url(#hatch)" fill-rule="evenodd" stroke="#c4c4c4" stroke-width="0.5"/>
<path d="M330.7,258.9L331.8,258.9L333.5,259.6L334.0,259.5L334.2,259.2L335.4,259.4L335.9,260.2L336.3,260.2L336.9,259.9L337.3,260.0L337.9,260.6L338.9,260.8L339.5,260.3L340.3,259.9L340.8,259.6L341.3,259.6L341.8,260.2L342.1,260.9L343.0,262.0L342.5,262.7L342.4,263.6L342.9,263.3L343.2,263.6L343.1,264.4L343.8,265.1L343.3,265.3L343.1,266.2L343.7,267.3L344.2,269.4L343.4,269.7L343.1,270.1L343.3,270.6L343.2,271.8L342.8,271.8L342.1,271.7L341.7,272.8L341.0,272.8L340.6,272.2L340.7,271.1L339.7,269.5L339.1,269.8L338.7,269.9L338.0,270.0L338.1,269.1L337.7,268.4L337.8,267.6L337.3,266.5L336.6,265.6L334.8,265.6L334.2,266.1L333.6,266.1L333.2,266.7L332.9,267.4L331.5,268.4L330.6,267.0L329.2,265.6L328.4,264.0L327.4,263.0L328.4,261.7L329.1,261.7L329.7,261.3L330.2,261.3L330.6,260.9L330.4,260.1L330.7,259.8L330.7,258.9Z" fill="url(#hatch)" fill-rule="evenodd" stroke="#c4c4c4" stroke-width="0.5"/>
<path d="M342.8,271.8L342.7,272.5L342.9,273.8L342.4,275.0L343.1,275.7L343.8,275.9L344.8,277.0L344.9,278.0L344.6,278.3L344.5,280.5L344.5,280.6L343.9,280.5L341.5,279.3L339.4,277.3L337.4,275.8L335.8,274.1L336.4,273.3L336.5,272.5L337.6,271.1L338.7,269.9L339.1,269.8L339.7,269.5L340.7,271.1L340.6,272.2L341.0,272.8L341.7,272.8L342.1,271.7L342.8,271.8Z" fill="url(#hatch)" fill-rule="evenodd" stroke="#c4c4c4" stroke-width="0.5"/>
<path d="M331.5,268.4L332.9,267.4L333.2,266.7L333.6,266.1L334.2,266.1L334.8,265.6L336.6,265.6L337.3,266.5L337.8,267.6L337.7,268.4L338.1,269.1L338.0,270.0L338.7,269.9L337.6,271.1L336.5,272.5L336.4,273.3L335.8,274.1L335.2,273.9L333.5,272.9L332.3,271.5L331.7,268.6L331.5,268.4Z" fill="url(#hatch)" fill-rule="evenodd" stroke="#c4c4c4" stroke-width="0.5"/>
<path d="M355.8,278.9L355.9,277.8L354.9,275.6L355.5,272.6L356.5,270.4L355.8,266.6L355.5,264.6L355.6,263.2L359.6,263.0L360.6,263.2L361.4,262.8L362.4,263.0L362.3,263.8L363.3,265.2L363.3,267.1L363.5,269.2L364.0,270.1L363.5,272.5L363.7,273.8L364.4,275.5L364.7,276.5L363.1,277.0L361.2,277.9L359.9,278.8L357.8,279.6L355.8,278.9Z" fill="url(#hatch)" fill-rule="evenodd" stroke="#c4c4c4" stroke-width="0.5"/>
<path d="M392.9,286.0L395.8,286.1L397.7,286.8L399.5,287.4L399.7,286.0L400.9,283.6L402.3,282.2L403.8,282.6L405.3,282.8L405.2,284.4L404.5,285.8L404.1,287.4L403.8,289.7L403.9,291.2L403.5,292.2L403.5,293.1L403.2,293.9L401.7,295.2L400.6,296.6L399.6,299.1L399.7,301.3L399.1,302.2L397.7,303.4L396.3,305.1L395.5,304.6L395.3,303.9L394.0,303.8L393.2,304.8L392.6,304.6L391.8,303.7L391.1,304.1L390.1,305.3L388.2,302.5L390.0,301.0L389.1,299.3L389.9,298.6L391.5,298.3L391.7,297.1L392.9,298.4L395.0,298.5L395.7,297.3L396.0,295.5L395.8,293.4L394.6,291.9L395.7,288.8L395.1,288.3L393.3,288.6L392.9,286.0Z" fill="url(#hatch)" fill-rule="evenodd" stroke="#c4c4c4" stroke-width="0.5"/>
<path d="M388.7,286.1L389.8,285.9L391.2,286.2L392.6,285.9L392.9,286.0L393.3,288.6L395.1,288.3L395.7,288.8L394.6,291.9L395.8,293.4L396.0,295.5L395.7,297.3L395.0,298.5L392.9,298.4L391.7,297.1L391.5,298.3L389.9,298.6L389.1,299.3L390.0,301.0L388.2,302.5L385.8,299.8L384.3,297.6L382.9,294.9L383.0,294.1L383.5,293.2L384.0,291.3L384.5,289.3L384.4,289.3L385.3,289.2L388.7,289.2L388.7,286.1Z" fill="url(#hatch)" fill-rule="evenodd" stroke="#c4c4c4" stroke-width="0.5"/>
<path d="M426.1,278.2L425.7,277.4L423.9,276.3L423.3,274.8L422.3,273.6L420.7,272.3L420.7,271.4L419.4,270.3L417.7,269.2L419.3,268.6L420.5,265.0L422.2,264.6L423.8,266.9L424.4,267.1L425.3,266.6L426.9,266.7L427.3,267.3L429.6,267.3L429.7,266.7L430.9,266.2L431.1,265.5L431.9,264.9L433.9,266.5L435.1,266.2L436.2,264.3L437.4,262.8L437.2,261.3L436.6,260.5L438.0,260.4L438.1,259.8L439.2,260.0L439.0,261.9L439.3,263.8L440.6,264.8L440.9,265.7L440.8,267.1L441.2,267.1L441.2,269.2L440.9,269.9L439.7,270.0L438.9,271.5L440.4,271.7L441.6,273.0L442.0,274.0L443.1,274.7L444.5,277.5L442.9,279.2L441.5,280.8L440.1,282.0L438.5,282.0L436.6,282.6L435.1,282.1L434.2,282.8L432.1,281.0L431.5,279.9L430.2,280.4L429.2,280.3L428.5,280.7L427.5,280.4L426.1,278.2Z" fill="url(#hatch)" fill-rule="evenodd" stroke="#c4c4c4" stroke-width="0.5"/>
<path d="M390.1,305.3L391.1,304.1L391.8,303.7L392.6,304.6L391.8,305.2L390.7,307.2L390.1,305.3Z" fill="url(#hatch)" fill-rule="evenodd" stroke="#c4c4c4" stroke-width="0.5"/>
<path d="M391.0,308.1L392.0,307.7L392.7,307.7L393.5,307.4L400.4,307.5L400.9,309.4L401.6,311.0L402.1,311.9L403.0,313.2L404.5,313.0L405.3,312.7L406.6,313.0L406.9,312.4L407.5,310.8L409.0,310.7L409.1,310.3L410.3,310.3L410.0,311.2L412.9,311.2L412.9,312.8L413.4,313.9L413.0,315.4L413.1,317.0L413.9,318.0L413.7,321.2L414.3,320.9L415.3,321.0L416.7,320.6L417.8,320.8L418.0,321.6L417.7,322.8L418.1,324.1L417.7,325.1L417.9,326.0L413.1,325.9L412.8,334.3L414.3,336.5L415.7,338.1L411.5,339.2L405.9,338.8L404.4,337.5L395.1,337.7L394.7,337.8L393.3,336.7L391.9,336.6L390.5,337.0L389.4,337.5L389.2,335.9L389.5,333.5L390.5,330.0L391.3,327.7L393.2,324.8L393.9,323.7L394.2,321.7L394.1,320.2L393.4,319.3L392.4,315.6L393.1,314.5L392.0,310.2L391.0,308.1Z" fill="url(#hatch)" fill-rule="evenodd" stroke="#c4c4c4" stroke-width="0.5"/>
<path d="M432.9,313.7L430.8,307.6L431.0,306.3L430.7,303.8L431.6,303.7L432.5,302.8L433.4,301.4L434.0,300.8L434.0,300.0L433.5,299.4L433.3,298.3L434.0,298.0L434.2,296.5L433.2,295.0L434.1,294.7L436.6,294.7L441.4,294.5L441.7,294.8L450.2,300.2L450.3,301.7L453.6,304.3L452.5,307.6L452.6,309.1L454.0,310.0L454.1,310.7L453.4,312.3L453.5,313.1L453.4,314.3L454.1,316.0L455.0,318.6L455.9,319.2L456.1,319.5L453.9,320.7L451.4,321.7L450.0,321.7L449.1,322.4L447.5,322.5L446.9,322.8L444.2,322.1L442.4,322.3L441.9,318.7L441.1,317.5L440.7,316.8L439.5,317.5L438.4,316.3L437.1,315.5L435.6,315.1L434.7,314.6L433.8,313.9L432.9,313.7Z" fill="url(#hatch)" fill-rule="evenodd" stroke="#c4c4c4" stroke-width="0.5"/>
<path d="M459.3,296.4L457.9,294.3L457.8,284.7L459.8,281.7L460.4,280.9L461.9,280.8L463.9,278.9L467.0,278.8L473.4,270.9L471.4,270.9L463.7,267.8L462.8,266.9L461.9,265.6L461.0,264.2L461.5,263.2L462.3,261.8L463.1,262.3L463.6,263.4L464.6,264.5L465.8,264.5L468.0,263.8L470.5,263.5L472.5,262.7L473.6,262.6L474.4,262.1L475.7,262.0L476.5,261.9L478.7,261.3L479.8,260.4L480.7,260.4L480.8,262.6L480.7,264.0L480.2,265.0L479.7,267.8L478.7,270.7L477.3,274.1L475.4,277.9L473.5,280.9L470.8,284.5L468.5,286.6L465.0,289.2L462.9,291.2L460.3,294.4L459.8,295.8L459.3,296.4Z" fill="url(#hatch)" fill-rule="evenodd" stroke="#c4c4c4" stroke-width="0.5"/>
<path d="M460.3,259.0L459.5,258.1L458.5,256.6L457.4,255.8L456.8,254.8L454.8,253.8L453.2,253.8L452.6,253.2L451.3,253.8L449.8,252.6L449.2,254.6L446.5,254.1L446.2,253.0L447.0,249.1L447.1,247.4L447.8,246.6L449.5,246.1L450.6,244.7L452.3,247.7L452.8,250.1L454.1,251.4L454.7,251.7L457.4,253.9L458.8,255.4L460.8,257.8L462.0,258.6L461.3,259.2L460.3,259.0Z" fill="url(#hatch)" fill-rule="evenodd" stroke="#c4c4c4" stroke-width="0.5"/>
<path d="M461.5,263.2L460.9,262.8L460.4,263.0L459.1,262.9L459.1,262.1L458.8,261.4L459.6,260.2L460.3,259.0L461.3,259.2L462.0,258.6L462.6,259.4L462.6,260.5L461.3,261.1L462.3,261.8L461.5,263.2Z" fill="url(#hatch)" fill-rule="evenodd" stroke="#c4c4c4" stroke-width="0.5"/>
<path d="M420.0,338.5L420.4,338.7L421.2,340.8L421.7,341.2L422.3,342.8L424.8,345.7L425.8,345.9L425.7,346.9L426.3,348.5L429.5,350.1L426.2,352.1L424.0,354.0L423.2,355.8L422.5,356.8L421.2,357.0L420.8,358.2L420.5,359.1L419.0,359.7L417.2,359.5L416.1,358.8L415.2,358.5L414.1,359.1L413.5,360.4L412.4,361.2L411.2,362.3L409.5,362.6L409.1,361.7L409.4,360.1L408.1,357.6L407.5,357.2L407.8,349.5L410.0,349.4L410.4,340.0L412.1,339.9L415.7,339.0L416.5,340.1L418.0,339.1L418.7,339.1L420.0,338.5Z" fill="url(#hatch)" fill-rule="evenodd" stroke="#c4c4c4" stroke-width="0.5"/>
<path d="M415.7,338.1L417.6,337.5L419.1,337.7L420.0,338.3L420.0,338.5L418.7,339.1L418.0,339.1L416.5,340.1L415.7,339.0L412.1,339.9L410.4,340.0L410.0,349.4L407.8,349.5L407.5,357.2L407.1,366.9L405.0,368.2L403.8,368.4L402.4,367.9L401.4,367.7L401.1,366.6L400.2,365.9L399.1,367.2L397.5,365.2L396.7,363.3L395.8,358.8L395.1,354.8L394.9,350.2L394.0,349.1L392.9,346.9L391.3,342.1L389.5,339.5L389.4,337.5L390.5,337.0L391.9,336.6L393.3,336.7L394.7,337.8L395.1,337.7L404.4,337.5L405.9,338.8L411.5,339.2L415.7,338.1Z" fill="url(#hatch)" fill-rule="evenodd" stroke="#c4c4c4" stroke-width="0.5"/>
<path d="M429.5,350.1L430.4,350.2L432.3,350.3L433.5,350.5L434.4,354.3L434.9,356.1L434.3,359.0L434.4,360.0L433.3,359.5L432.6,359.7L432.4,360.5L431.7,361.5L431.7,362.4L432.9,363.8L434.2,363.5L434.8,362.3L436.5,362.4L435.8,364.3L435.3,366.5L434.7,367.6L433.0,369.0L432.6,369.4L430.8,372.0L429.4,373.9L426.6,376.7L424.9,378.2L423.1,379.4L420.7,380.4L419.6,380.6L419.2,381.3L417.9,380.9L416.8,381.4L414.4,380.9L413.1,381.3L412.2,381.1L409.8,382.1L407.9,382.6L406.5,383.6L405.5,383.6L404.6,382.7L403.9,382.6L402.9,381.8L402.6,381.1L402.7,379.6L402.1,377.8L402.9,377.3L402.9,375.3L401.6,372.9L400.6,370.6L399.1,367.2L400.2,365.9L401.1,366.6L401.4,367.7L402.4,367.9L403.8,368.4L405.0,368.2L407.1,366.9L407.5,357.2L408.1,357.6L409.4,360.1L409.1,361.7L409.5,362.6L411.2,362.3L412.4,361.2L413.5,360.4L414.1,359.1L415.2,358.5L416.1,358.8L417.2,359.5L419.0,359.7L420.5,359.1L420.8,358.2L421.2,357.0L422.5,356.8L423.2,355.8L424.0,354.0L426.2,352.1L429.5,350.1ZM427.4,368.2L426.5,367.4L425.4,367.9L424.1,368.9L422.8,370.6L424.3,372.6L425.1,372.4L425.6,371.5L426.9,371.1L427.3,370.3L428.1,369.0L427.4,368.2Z" fill="url(#hatch)" fill-rule="evenodd" stroke="#c4c4c4" stroke-width="0.5"/>
<path d="M434.4,360.0L434.8,362.3L434.2,363.5L432.9,363.8L431.7,362.4L431.7,361.5L432.4,360.5L432.6,359.7L433.3,359.5L434.4,360.0Z" fill="url(#hatch)" fill-rule="evenodd" stroke="#c4c4c4" stroke-width="0.5"/>
<path d="M427.4,368.2L428.1,369.0L427.3,370.3L426.9,371.1L425.6,371.5L425.1,372.4L424.3,372.6L422.8,370.6L424.1,368.9L425.4,367.9L426.5,367.4L427.4,368.2Z" fill="url(#hatch)" fill-rule="evenodd" stroke="#c4c4c4" stroke-width="0.5"/>
<path d="M407.5,165.0L408.7,165.7L409.0,166.4L407.8,166.9L407.0,168.6L405.9,170.4L404.3,170.9L403.0,170.8L401.5,171.4L400.8,171.8L399.0,171.3L397.3,170.2L396.7,169.9L396.2,169.0L395.8,169.0L396.4,167.3L395.9,166.8L397.1,166.8L397.2,165.7L398.3,166.4L399.1,166.7L400.7,166.4L400.9,165.8L401.6,165.8L402.6,165.4L402.9,165.5L403.8,165.2L404.2,164.6L404.8,164.5L407.1,165.2L407.5,165.0Z" fill="url(#hatch)" fill-rule="evenodd" stroke="#c4c4c4" stroke-width="0.5"/>
<path d="M402.1,174.1L402.9,174.1L402.4,175.3L403.5,176.3L403.3,177.5L402.9,177.6L402.5,177.9L401.9,178.4L401.7,179.9L399.7,178.9L398.8,177.8L398.0,177.2L397.0,176.3L396.4,175.5L395.3,174.2L395.7,173.2L396.5,173.8L396.9,173.2L397.8,173.2L399.7,173.6L401.1,173.6L402.1,174.1Z" fill="url(#hatch)" fill-rule="evenodd" stroke="#c4c4c4" stroke-width="0.5"/>
<path d="M441.5,205.9L444.1,207.0L448.1,204.2L449.4,207.4L449.0,207.8L444.7,209.1L447.2,211.7L446.5,212.2L446.2,213.1L444.6,213.4L444.1,214.4L443.3,215.2L440.7,214.7L440.6,214.4L441.3,210.2L441.2,209.1L441.4,208.4L441.2,206.8L441.5,205.9Z" fill="url(#hatch)" fill-rule="evenodd" stroke="#c4c4c4" stroke-width="0.5"/>
<path d="M441.2,206.8L441.4,208.4L441.2,209.1L440.2,209.5L440.2,208.8L440.7,208.5L440.1,208.1L440.4,206.4L441.2,206.8Z" fill="url(#hatch)" fill-rule="evenodd" stroke="#c4c4c4" stroke-width="0.5"/>
<path d="M440.7,214.7L443.3,215.2L444.1,214.4L444.6,213.4L446.2,213.1L446.5,212.2L447.2,211.7L444.7,209.1L449.0,207.8L449.4,207.4L452.2,208.1L455.7,209.9L462.6,215.2L466.8,215.4L468.8,215.7L469.6,216.9L471.1,216.9L472.3,219.1L473.5,219.7L473.9,220.7L475.6,221.8L475.8,222.8L475.7,223.7L476.1,224.6L477.2,226.2L477.6,226.9L478.3,227.4L479.0,227.2L479.5,228.2L479.6,228.8L480.7,231.5L487.7,232.8L488.1,232.2L489.3,234.1L488.2,239.4L481.6,242.0L475.0,243.0L473.0,244.2L471.5,247.0L470.5,247.4L469.8,246.5L469.0,246.7L466.7,246.4L466.3,246.1L463.6,246.2L463.0,246.4L462.0,245.7L461.5,247.0L461.8,248.1L460.5,247.9L459.8,247.1L459.5,246.0L458.3,245.1L456.9,242.9L456.1,240.7L454.5,238.9L453.4,238.5L451.7,236.0L451.3,232.6L449.9,229.7L448.7,228.6L447.5,228.1L446.8,227.8L446.6,226.6L446.0,224.6L445.3,224.0L444.2,222.1L442.7,220.0L441.4,218.2L440.3,218.2L440.5,216.7L440.5,215.8L440.7,214.9L440.7,214.7Z" fill="url(#hatch)" fill-rule="evenodd" stroke="#c4c4c4" stroke-width="0.5"/>
<path d="M466.8,215.4L468.1,212.9L469.7,213.1L470.2,214.9L471.1,216.9L469.6,216.9L468.8,215.7L466.8,215.4Z" fill="url(#hatch)" fill-rule="evenodd" stroke="#c4c4c4" stroke-width="0.5"/>
<path d="M460.5,247.9L461.8,248.1L461.5,247.0L462.0,245.7L463.0,246.4L463.6,246.2L466.3,246.1L466.7,246.4L469.0,246.7L469.8,246.5L470.5,247.4L471.5,247.0L473.0,244.2L475.0,243.0L481.6,242.0L483.7,246.3L484.6,248.2L483.0,248.9L482.6,250.1L482.6,251.0L480.4,252.1L476.7,253.3L474.8,255.2L473.8,255.3L473.1,255.1L471.8,256.2L470.3,256.7L468.4,256.9L467.8,257.0L467.4,257.7L466.7,257.9L466.4,258.6L465.3,258.5L464.6,258.9L462.9,258.7L462.4,258.7L462.4,258.4L462.3,257.2L461.3,253.1L461.1,251.8L460.8,250.6L461.0,250.1L460.9,249.0L460.5,247.9Z" fill="url(#hatch)" fill-rule="evenodd" stroke="#c4c4c4" stroke-width="0.5"/>
<path d="M484.6,248.2L483.7,246.3L481.6,242.0L488.2,239.4L489.3,234.1L488.1,232.2L488.1,231.2L488.6,230.1L488.5,229.0L489.5,228.5L489.1,228.1L489.1,226.4L490.2,226.4L491.5,228.2L492.8,229.2L494.5,229.5L495.9,230.0L497.1,231.5L497.8,232.4L498.6,232.7L498.7,233.3L498.0,234.9L497.7,235.6L496.8,236.5L496.1,238.2L495.0,238.1L494.6,238.7L494.4,240.1L494.8,241.8L494.6,242.2L493.6,242.1L492.2,243.1L492.1,244.4L491.6,245.0L490.2,245.0L489.3,245.6L489.4,246.7L488.4,247.4L487.1,247.1L485.6,248.0L484.6,248.2Z" fill="url(#hatch)" fill-rule="evenodd" stroke="#c4c4c4" stroke-width="0.5"/>
<path d="M488.1,232.2L487.7,232.8L480.7,231.5L479.6,228.8L479.5,228.2L480.0,228.8L481.8,228.4L483.6,228.5L485.0,228.5L486.4,226.7L487.9,225.1L489.2,223.4L489.7,222.5L490.0,222.8L489.7,224.3L490.2,226.4L489.1,226.4L489.1,228.1L489.5,228.5L488.5,229.0L488.6,230.1L488.1,231.2L488.1,232.2Z" fill="url(#hatch)" fill-rule="evenodd" stroke="#c4c4c4" stroke-width="0.5"/>
<path d="M479.0,227.2L478.3,227.4L477.6,226.9L477.3,225.0L477.7,223.6L478.3,223.3L479.1,224.1L479.3,225.6L479.0,227.2Z" fill="url(#hatch)" fill-rule="evenodd" stroke="#c4c4c4" stroke-width="0.5"/>
<path d="M458.3,183.5L458.8,183.1L460.5,183.9L461.7,184.0L461.9,183.7L460.6,182.3L461.0,181.9L461.7,182.0L463.4,183.6L464.4,183.8L464.7,183.1L465.7,182.1L467.1,183.4L468.6,185.3L469.6,185.4L470.4,186.1L468.7,186.3L468.8,188.4L468.5,189.3L467.9,189.9L468.2,191.2L467.7,191.3L466.1,190.0L466.6,188.6L465.8,187.9L465.0,188.1L462.8,190.0L462.4,188.2L461.4,187.8L460.4,187.1L460.8,186.2L459.5,185.3L459.8,184.7L458.9,184.2L458.3,183.5Z" fill="url(#hatch)" fill-rule="evenodd" stroke="#c4c4c4" stroke-width="0.5"/>
<path d="M458.7,187.5L459.1,187.5L459.9,188.2L460.8,188.2L460.9,188.6L460.5,189.4L459.2,188.5L458.7,187.5Z" fill="url(#hatch)" fill-rule="evenodd" stroke="#c4c4c4" stroke-width="0.5"/>
<path d="M496.4,198.2L495.8,196.0L494.1,195.9L491.1,193.6L489.3,193.3L486.6,191.9L485.0,191.7L484.2,192.2L482.7,192.1L481.5,193.6L479.7,194.1L478.9,192.3L478.7,189.5L476.8,188.6L477.0,186.8L475.5,186.7L475.5,184.5L477.6,185.1L479.3,184.3L477.4,182.7L476.4,181.3L474.9,181.9L475.1,183.8L474.0,182.1L474.8,181.3L477.1,180.7L478.7,181.5L480.7,183.5L481.7,183.4L484.1,183.3L483.4,182.0L485.0,181.1L486.4,179.6L489.6,181.0L490.4,183.1L491.4,183.6L493.6,183.5L494.5,184.0L496.2,186.7L499.2,188.5L500.9,189.7L503.5,191.0L506.7,192.1L507.0,193.7L506.3,193.6L505.1,192.9L505.0,193.8L503.3,194.4L503.4,196.5L502.3,197.3L500.7,197.6L500.5,198.9L498.9,199.2L496.4,198.2Z" fill="url(#hatch)" fill-rule="evenodd" stroke="#c4c4c4" stroke-width="0.5"/>
<path d="M498.6,213.5L500.2,211.1L499.7,209.4L498.0,209.0L497.5,207.3L496.4,205.2L497.0,203.8L496.0,203.4L496.2,201.5L496.4,198.2L498.9,199.2L500.5,198.9L500.7,197.6L502.3,197.3L503.4,196.5L503.3,194.4L505.0,193.8L505.1,192.9L506.3,193.6L507.0,193.7L508.2,193.7L510.0,194.3L510.7,194.6L512.1,193.8L513.0,194.3L513.3,193.1L514.7,193.1L514.9,192.7L514.8,191.7L515.5,190.7L516.9,191.3L516.8,192.2L517.5,192.3L517.9,194.5L519.0,195.3L519.6,194.8L520.5,194.5L521.5,193.3L523.1,193.5L525.3,193.5L525.9,194.3L524.8,194.6L523.8,195.1L521.4,195.4L519.2,195.9L518.2,197.1L519.0,198.2L519.5,199.5L518.7,200.6L519.1,201.6L518.7,202.6L516.5,202.5L517.8,204.2L516.6,204.9L515.9,206.5L516.4,208.1L515.7,208.8L514.8,208.6L513.2,208.9L513.1,209.6L511.4,209.6L510.5,211.1L510.8,213.4L508.1,214.5L506.5,214.2L506.1,214.8L504.7,214.5L502.6,214.9L498.6,213.5Z" fill="url(#hatch)" fill-rule="evenodd" stroke="#c4c4c4" stroke-width="0.5"/>
<path d="M501.7,226.0L502.2,223.0L505.3,221.6L504.9,220.4L503.8,220.0L503.4,217.6L501.1,216.5L499.9,214.9L498.6,213.5L502.6,214.9L504.7,214.5L506.1,214.8L506.5,214.2L508.1,214.5L510.8,213.4L510.5,211.1L511.4,209.6L513.1,209.6L513.2,208.9L514.8,208.6L515.7,208.8L516.4,208.1L515.9,206.5L516.6,204.9L517.8,204.2L516.5,202.5L518.7,202.6L519.1,201.6L518.7,200.6L519.5,199.5L519.0,198.2L518.2,197.1L519.2,195.9L521.4,195.4L523.8,195.1L524.8,194.6L525.9,194.3L527.9,195.5L529.1,197.5L533.0,198.6L531.4,200.8L529.1,201.2L525.6,200.6L524.8,201.7L526.1,204.0L527.3,205.8L529.4,207.1L527.8,208.6L528.3,210.5L526.6,213.1L525.7,215.8L523.9,218.6L521.2,218.4L519.2,221.1L520.9,222.3L521.4,224.3L522.9,225.6L523.6,227.9L518.6,227.9L517.3,229.7L515.6,229.0L514.7,227.1L512.7,225.1L508.6,225.6L504.9,225.6L501.7,226.0Z" fill="url(#hatch)" fill-rule="evenodd" stroke="#c4c4c4" stroke-width="0.5"/>
<path d="M573.7,234.0L574.7,233.4L574.3,232.3L574.7,231.4L574.3,228.6L576.2,229.2L576.8,227.1L576.7,225.8L577.5,223.6L577.2,222.1L579.7,220.3L581.4,220.7L580.9,219.1L581.5,218.6L581.2,217.6L582.4,217.4L583.5,219.0L584.7,219.6L585.2,221.6L585.5,223.8L583.8,226.0L584.1,229.1L586.4,228.7L587.4,231.1L588.9,231.6L588.6,233.8L590.4,234.8L591.5,235.3L593.1,234.5L593.3,235.6L591.6,237.3L591.3,238.3L590.0,238.9L588.9,240.0L587.3,240.1L586.7,243.0L585.8,243.5L587.2,245.8L588.9,247.7L590.1,249.4L589.5,251.7L588.8,252.2L589.5,253.5L591.3,255.6L591.7,257.1L591.8,258.3L592.9,260.7L591.8,263.2L590.9,265.9L591.1,261.9L590.2,260.3L590.1,257.5L589.0,256.1L587.9,253.0L587.1,249.6L585.8,247.5L584.5,248.8L582.1,250.7L580.8,250.4L579.3,249.8L579.6,246.5L578.8,244.1L576.6,241.0L576.8,240.1L575.4,239.7L573.5,237.6L573.0,235.5L573.9,235.9L573.7,234.0Z" fill="url(#hatch)" fill-rule="evenodd" stroke="#c4c4c4" stroke-width="0.5"/>
<path d="M591.3,238.3L591.6,237.3L593.3,235.6L593.6,236.2L594.8,236.3L594.0,233.3L595.1,232.9L596.8,235.0L598.2,237.3L601.0,237.4L602.2,239.7L600.9,240.4L600.4,241.3L603.4,242.9L605.8,246.0L607.5,248.3L609.5,250.1L610.4,252.0L610.3,254.6L608.1,253.7L607.3,255.5L605.3,254.5L605.8,253.3L605.7,251.0L603.5,248.7L603.0,246.1L600.9,244.0L599.2,243.8L598.8,244.7L597.5,244.8L596.7,244.3L594.6,245.9L594.2,243.6L594.3,240.8L592.8,240.7L592.4,239.1L591.3,238.3Z" fill="url(#hatch)" fill-rule="evenodd" stroke="#c4c4c4" stroke-width="0.5"/>
<path d="M605.3,254.5L607.3,255.5L608.1,253.7L610.3,254.6L611.0,256.4L611.0,259.5L607.4,261.6L608.5,263.2L606.1,263.3L604.2,264.4L602.2,264.0L601.2,262.7L599.7,259.9L598.9,256.8L600.1,254.6L603.0,254.1L605.3,254.5Z" fill="url(#hatch)" fill-rule="evenodd" stroke="#c4c4c4" stroke-width="0.5"/>
<path d="M629.2,187.0L630.1,185.3L631.7,183.9L632.1,182.0L633.6,182.9L635.5,183.0L634.4,181.6L637.0,180.5L637.0,179.0L639.3,180.5L639.8,181.0L638.9,180.8L638.4,182.6L639.6,184.5L638.8,185.1L638.2,186.3L637.1,186.7L636.4,187.4L636.9,188.9L638.0,189.3L639.8,190.4L639.8,191.1L639.0,191.2L637.5,191.3L637.2,192.6L636.2,192.4L636.2,192.7L634.3,192.9L634.0,192.4L632.6,191.7L632.9,190.3L632.5,189.8L632.4,188.4L632.0,188.0L629.2,187.0Z" fill="url(#hatch)" fill-rule="evenodd" stroke="#c4c4c4" stroke-width="0.5"/>
<path d="M323.5,236.4L323.9,235.9L332.9,235.9L332.5,232.1L333.1,230.7L335.2,230.5L335.3,223.8L342.7,223.9L342.8,219.9L351.2,226.3L347.8,226.3L348.8,237.7L349.8,249.0L350.2,249.4L349.6,251.2L340.4,251.2L340.0,251.8L339.1,251.7L337.8,252.2L336.2,251.5L335.5,251.5L335.1,253.1L334.3,253.5L332.8,251.7L331.5,249.8L329.9,249.1L328.9,248.3L327.6,248.3L326.5,248.9L325.3,248.7L324.5,249.2L324.3,248.1L325.0,246.8L325.3,244.3L324.7,240.5L323.4,236.7L323.5,236.4Z" fill="#66c2a4" fill-rule="evenodd" stroke="#66756c" stroke-width="0.32"/>
<path d="M351.2,226.3L358.9,232.0L366.6,237.8L367.1,239.0L368.5,239.7L369.6,240.2L369.6,241.8L372.2,241.6L372.2,247.7L371.0,249.4L370.8,251.0L368.7,251.5L365.6,251.7L364.8,252.6L363.3,252.7L361.8,252.7L361.2,252.2L359.9,252.6L357.8,253.7L357.3,254.5L355.5,255.7L355.2,256.4L354.3,256.9L353.1,256.6L352.5,257.2L352.2,259.0L350.3,261.2L350.4,262.1L349.7,263.2L349.9,264.7L348.9,265.1L348.4,265.4L348.0,264.3L347.4,264.6L346.9,264.6L346.5,265.3L344.7,265.3L344.1,264.9L343.8,265.1L343.1,264.4L343.2,263.6L342.9,263.3L342.4,263.6L342.5,262.7L343.0,262.0L342.1,260.9L341.8,260.2L341.3,259.6L340.8,259.6L340.3,259.9L339.5,260.3L338.9,260.8L337.9,260.6L337.3,260.0L336.9,259.9L336.3,260.2L335.9,260.2L335.4,259.4L335.8,259.3L335.9,258.5L335.7,257.4L334.8,256.7L334.4,255.2L334.3,253.5L335.1,253.1L335.5,251.5L336.2,251.5L337.8,252.2L339.1,251.7L340.0,251.8L340.4,251.2L349.6,251.2L350.2,249.4L349.8,249.0L348.8,237.7L347.8,226.3L351.2,226.3Z" fill="#99d8c9" fill-rule="evenodd" stroke="#66756c" stroke-width="0.32"/>
<path d="M372.2,241.6L375.4,240.4L382.0,235.2L389.7,230.2L393.3,231.4L394.6,232.8L396.2,231.8L396.9,235.9L397.7,236.6L397.8,237.5L398.7,238.3L398.3,239.5L397.5,244.8L397.5,248.2L394.6,250.7L393.6,254.2L393.8,256.0L392.6,256.2L390.8,257.7L389.0,256.9L387.8,256.8L387.1,257.1L385.8,257.1L384.4,258.2L383.2,258.2L380.4,256.9L379.3,257.5L378.2,257.5L377.3,256.5L375.0,255.5L372.5,255.8L371.9,256.4L371.6,257.9L370.9,259.0L370.8,261.3L369.0,259.8L368.2,259.8L367.4,260.6L367.4,258.8L364.8,258.2L364.7,256.9L363.4,255.2L363.1,254.0L363.3,252.7L364.8,252.6L365.6,251.7L368.7,251.5L370.8,251.0L371.0,249.4L372.2,247.7L372.2,241.6Z" fill="#99d8c9" fill-rule="evenodd" stroke="#66756c" stroke-width="0.32"/>
<path d="M383.6,212.2L382.5,207.5L381.1,206.5L381.1,205.8L379.2,204.3L379.0,202.3L380.3,200.8L380.8,198.6L380.3,196.1L380.6,194.8L380.7,194.8L383.1,193.7L384.6,194.0L384.6,195.4L386.4,194.4L386.6,194.9L385.5,196.2L385.6,197.4L386.4,198.1L386.2,200.4L384.7,201.7L385.2,203.1L386.4,203.1L387.0,204.4L387.8,204.8L387.8,206.8L386.7,207.6L386.1,208.4L384.8,210.5L384.7,211.6L383.6,212.2Z" fill="#41ae76" fill-rule="evenodd" stroke="#66756c" stroke-width="0.32"/>
<path d="M396.2,231.8L398.5,230.4L407.7,235.4L417.0,240.5L417.4,250.9L415.4,250.7L414.4,252.7L413.9,254.3L414.4,254.9L413.6,255.7L413.9,256.8L413.3,257.9L413.1,258.9L413.9,258.7L414.5,259.7L414.5,261.3L415.4,262.1L415.3,262.7L413.9,263.1L412.7,264.2L411.1,267.1L408.9,268.3L406.7,268.1L406.0,268.4L406.3,269.3L405.1,270.2L404.1,271.2L401.2,272.2L400.6,271.7L400.2,271.6L399.8,272.3L397.9,272.5L398.3,271.8L397.5,269.9L397.2,268.8L396.1,268.4L394.8,266.9L395.3,265.6L396.3,265.9L397.0,265.7L398.3,265.7L397.0,263.3L397.0,261.6L396.8,259.8L395.9,258.2L395.3,258.3L393.8,256.0L393.6,254.2L394.6,250.7L397.5,248.2L397.5,244.8L398.3,239.5L398.7,238.3L397.8,237.5L397.7,236.6L396.9,235.9L396.2,231.8Z" fill="#99d8c9" fill-rule="evenodd" stroke="#66756c" stroke-width="0.32"/>
<path d="M419.4,234.1L419.0,224.4L418.4,215.1L417.6,213.0L418.1,211.3L417.7,210.2L418.3,208.8L418.4,208.9L421.3,208.9L423.5,209.6L425.8,210.4L426.9,210.8L429.4,209.2L431.3,209.0L432.9,209.3L433.6,210.6L434.1,209.7L435.9,210.4L437.7,210.5L438.7,209.9L440.6,214.4L440.1,215.4L439.8,217.4L439.2,218.8L438.8,219.2L436.9,217.2L435.3,213.3L434.7,213.7L435.9,216.5L437.5,219.1L439.5,223.2L440.4,224.6L441.2,226.1L443.5,229.0L443.0,229.5L443.2,231.2L446.5,234.1L419.4,234.1Z" fill="#66c2a4" fill-rule="evenodd" stroke="#66756c" stroke-width="0.32"/>
<path d="M324.5,249.2L325.3,248.7L326.5,248.9L327.6,248.3L328.9,248.3L329.9,249.1L331.5,249.8L332.8,251.7L334.3,253.5L334.4,255.2L334.8,256.7L335.7,257.4L335.9,258.5L335.8,259.3L335.4,259.4L334.2,259.2L334.0,259.5L333.5,259.6L331.8,258.9L330.7,258.9L326.4,258.8L325.8,259.1L325.1,259.0L323.8,259.3L323.5,257.4L325.6,257.5L326.1,257.1L326.6,257.1L327.4,256.5L328.4,257.0L329.4,257.1L330.4,256.5L330.0,255.7L329.2,256.1L328.5,256.1L327.6,255.5L326.8,255.5L326.3,256.2L323.8,256.2L322.9,254.2L321.7,253.2L322.8,252.7L323.9,250.9L324.5,249.5L324.5,249.2Z" fill="#66c2a4" fill-rule="evenodd" stroke="#66756c" stroke-width="0.32"/>
<path d="M323.8,259.3L325.1,259.0L325.8,259.1L326.4,258.8L330.7,258.9L330.7,259.8L330.4,260.1L330.6,260.9L330.2,261.3L329.7,261.3L329.1,261.7L328.4,261.7L327.4,263.0L326.1,261.8L325.1,261.7L324.7,260.5L324.0,260.0L323.8,259.4L323.8,259.3Z" fill="#99d8c9" fill-rule="evenodd" stroke="#66756c" stroke-width="0.32"/>
<path d="M323.8,256.2L326.3,256.2L326.8,255.5L327.6,255.5L328.5,256.1L329.2,256.1L330.0,255.7L330.4,256.5L329.4,257.1L328.4,257.0L327.4,256.5L326.6,257.1L326.1,257.1L325.6,257.5L323.5,257.4L323.8,256.2Z" fill="#66c2a4" fill-rule="evenodd" stroke="#66756c" stroke-width="0.32"/>
<path d="M342.8,271.8L343.2,271.8L343.3,270.6L343.1,270.1L343.4,269.7L344.2,269.4L343.7,267.3L343.1,266.2L343.3,265.3L343.8,265.1L344.1,264.9L344.7,265.3L346.5,265.3L346.9,264.6L347.4,264.6L348.0,264.3L348.4,265.4L348.9,265.1L349.9,264.7L350.9,265.3L351.3,266.2L352.4,266.7L353.2,266.1L354.3,266.0L355.8,266.6L356.5,270.4L355.5,272.6L354.9,275.6L355.9,277.8L355.8,278.9L355.7,278.9L353.1,278.4L351.6,278.4L348.8,278.9L347.2,279.6L344.9,280.6L344.5,280.6L344.5,280.5L344.6,278.3L344.9,278.0L344.8,277.0L343.8,275.9L343.1,275.7L342.4,275.0L342.9,273.8L342.7,272.5L342.8,271.8Z" fill="#66c2a4" fill-rule="evenodd" stroke="#66756c" stroke-width="0.32"/>
<path d="M349.9,264.7L349.7,263.2L350.4,262.1L350.3,261.2L352.2,259.0L352.5,257.2L353.1,256.6L354.3,256.9L355.2,256.4L355.5,255.7L357.3,254.5L357.8,253.7L359.9,252.6L361.2,252.2L361.8,252.7L363.3,252.7L363.1,254.0L363.4,255.2L364.7,256.9L364.8,258.2L367.4,258.8L367.4,260.6L366.9,261.4L365.8,261.6L365.3,262.8L364.5,263.1L362.4,263.0L361.4,262.8L360.6,263.2L359.6,263.0L355.6,263.2L355.5,264.6L355.8,266.6L354.3,266.0L353.2,266.1L352.4,266.7L351.3,266.2L350.9,265.3L349.9,264.7Z" fill="#99d8c9" fill-rule="evenodd" stroke="#66756c" stroke-width="0.32"/>
<path d="M364.7,276.5L364.4,275.5L363.7,273.8L363.5,272.5L364.0,270.1L363.5,269.2L363.3,267.1L363.3,265.2L362.3,263.8L362.4,263.0L364.5,263.1L364.2,264.5L364.9,265.2L365.7,266.1L365.8,267.5L366.3,268.0L366.2,274.0L366.6,275.9L364.9,276.4L364.7,276.5Z" fill="#66c2a4" fill-rule="evenodd" stroke="#66756c" stroke-width="0.32"/>
<path d="M366.6,275.9L366.2,274.0L366.3,268.0L365.8,267.5L365.7,266.1L364.9,265.2L364.2,264.5L364.5,263.1L365.3,262.8L365.8,261.6L366.9,261.4L367.4,260.6L368.2,259.8L369.0,259.8L370.8,261.3L370.7,262.2L371.2,263.8L370.7,264.8L371.0,265.5L369.9,267.2L369.2,268.0L368.7,269.6L368.8,271.3L368.7,275.5L366.7,275.8L366.6,275.9Z" fill="#66c2a4" fill-rule="evenodd" stroke="#66756c" stroke-width="0.32"/>
<path d="M368.7,275.5L368.8,271.3L368.7,269.6L369.2,268.0L369.9,267.2L371.0,265.5L370.7,264.8L371.2,263.8L370.7,262.2L370.8,261.3L370.9,259.0L371.6,257.9L371.9,256.4L372.5,255.8L375.0,255.5L377.3,256.5L378.2,257.5L379.3,257.5L380.4,256.9L383.2,258.2L384.4,258.2L385.8,257.1L387.1,257.1L387.8,256.8L389.0,256.9L390.8,257.7L392.6,256.2L393.8,256.0L395.3,258.3L395.2,259.2L396.1,260.2L395.9,260.7L395.8,261.6L393.8,263.6L393.3,265.3L392.9,266.6L392.5,267.2L392.0,269.1L390.8,270.1L390.4,271.5L389.9,272.5L389.7,273.6L388.1,274.5L386.8,273.4L385.9,273.5L384.5,275.0L383.9,275.1L382.8,277.6L382.2,279.6L382.2,279.4L379.8,280.4L378.9,280.3L378.0,280.8L376.1,280.8L374.9,279.1L374.1,277.2L372.5,275.5L368.7,275.5Z" fill="#99d8c9" fill-rule="evenodd" stroke="#66756c" stroke-width="0.32"/>
<path d="M382.2,279.6L382.8,277.6L383.9,275.1L384.5,275.0L385.9,273.5L386.8,273.4L388.1,274.5L389.7,273.6L389.9,272.5L390.4,271.5L390.8,270.1L392.0,269.1L392.5,267.2L392.9,266.6L393.3,265.3L393.8,263.6L395.8,261.6L395.9,260.7L396.1,260.2L395.2,259.2L395.3,258.3L395.9,258.2L396.8,259.8L397.0,261.6L397.0,263.3L398.3,265.7L397.0,265.7L396.3,265.9L395.3,265.6L394.8,266.9L396.1,268.4L397.2,268.8L397.5,269.9L398.3,271.8L397.9,272.5L396.8,275.1L396.2,275.6L396.0,277.7L396.3,278.8L396.1,279.6L397.2,280.9L397.4,281.9L398.3,283.2L399.3,284.1L399.4,285.3L399.7,286.0L399.5,287.4L397.7,286.8L395.8,286.1L392.9,286.0L392.6,285.9L391.2,286.2L389.8,285.9L388.7,286.1L384.9,286.0L385.2,283.9L384.3,282.2L383.2,281.7L382.7,280.6L382.2,279.6Z" fill="#66c2a4" fill-rule="evenodd" stroke="#66756c" stroke-width="0.32"/>
<path d="M399.7,286.0L399.4,285.3L399.3,284.1L398.3,283.2L397.4,281.9L397.2,280.9L396.1,279.6L396.3,278.8L396.0,277.7L396.2,275.6L396.8,275.1L397.9,272.5L399.8,272.3L400.2,271.6L400.6,271.7L401.2,272.2L404.1,271.2L405.1,270.2L406.3,269.3L406.0,268.4L406.7,268.1L408.9,268.3L411.1,267.1L412.7,264.2L413.9,263.1L415.3,262.7L415.6,263.8L417.0,265.5L417.0,266.5L416.7,267.6L416.8,268.5L417.7,269.2L419.4,270.3L420.7,271.4L420.7,272.3L422.3,273.6L423.3,274.8L423.9,276.3L425.7,277.4L426.1,278.2L425.3,278.5L423.8,278.4L422.1,278.2L421.2,278.4L420.9,279.0L420.1,279.1L419.2,278.6L416.6,279.9L415.5,279.6L415.2,279.8L414.5,281.4L412.8,280.9L411.1,280.6L409.6,279.7L407.7,278.8L406.4,279.6L405.5,280.9L405.3,282.8L403.8,282.6L402.3,282.2L400.9,283.6L399.7,286.0Z" fill="#99d8c9" fill-rule="evenodd" stroke="#66756c" stroke-width="0.32"/>
<path d="M384.9,286.0L388.7,286.1L388.7,289.2L385.3,289.2L384.4,289.3L384.1,288.9L384.9,286.0Z" fill="#66c2a4" fill-rule="evenodd" stroke="#66756c" stroke-width="0.32"/>
<path d="M405.3,282.8L405.5,280.9L406.4,279.6L407.7,278.8L409.6,279.7L411.1,280.6L412.8,280.9L414.5,281.4L415.2,279.8L415.5,279.6L416.6,279.9L419.2,278.6L420.1,279.1L420.9,279.0L421.2,278.4L422.1,278.2L423.8,278.4L425.3,278.5L426.1,278.2L427.5,280.4L428.5,280.7L429.2,280.3L430.2,280.4L431.5,279.9L432.1,281.0L434.2,282.8L434.0,285.8L435.0,286.2L434.2,287.1L433.4,287.8L432.5,289.2L432.0,290.4L431.9,292.6L431.3,293.6L431.3,295.5L430.6,296.3L430.5,297.8L430.2,298.0L430.0,299.5L430.6,300.7L430.7,303.8L431.0,306.3L430.8,307.6L432.9,313.7L429.7,314.1L429.1,314.4L428.4,316.1L428.9,317.3L428.4,320.4L428.1,323.0L428.7,323.5L430.3,324.5L430.9,324.0L431.0,326.9L429.3,326.9L428.3,325.4L427.5,324.3L425.8,323.9L425.3,322.5L423.8,323.4L422.0,323.0L421.3,321.8L419.8,321.6L418.7,321.6L418.6,320.8L417.8,320.8L416.7,320.6L415.3,321.0L414.3,320.9L413.7,321.2L413.9,318.0L413.1,317.0L413.0,315.4L413.4,313.9L412.9,312.8L412.9,311.2L410.0,311.2L410.3,310.3L409.1,310.3L409.0,310.7L407.5,310.8L406.9,312.4L406.6,313.0L405.3,312.7L404.5,313.0L403.0,313.2L402.1,311.9L401.6,311.0L400.9,309.4L400.4,307.5L393.5,307.4L392.7,307.7L392.0,307.7L391.0,308.1L390.7,307.2L391.8,305.2L392.6,304.6L393.2,304.8L394.0,303.8L395.3,303.9L395.5,304.6L396.3,305.1L397.7,303.4L399.1,302.2L399.7,301.3L399.6,299.1L400.6,296.6L401.7,295.2L403.2,293.9L403.5,293.1L403.5,292.2L403.9,291.2L403.8,289.7L404.1,287.4L404.5,285.8L405.2,284.4L405.3,282.8Z" fill="#ccece6" fill-rule="evenodd" stroke="#66756c" stroke-width="0.32"/>
<path d="M415.7,338.1L414.3,336.5L412.8,334.3L413.1,325.9L417.9,326.0L417.7,325.1L418.1,324.1L417.7,322.8L418.0,321.6L417.8,320.8L418.6,320.8L418.7,321.6L419.8,321.6L421.3,321.8L422.0,323.0L423.8,323.4L425.3,322.5L425.8,323.9L427.5,324.3L428.3,325.4L429.3,326.9L431.0,326.9L430.9,324.0L430.3,324.5L428.7,323.5L428.1,323.0L428.4,320.4L428.9,317.3L428.4,316.1L429.1,314.4L429.7,314.1L432.9,313.7L433.8,313.9L434.7,314.6L435.6,315.1L437.1,315.5L438.4,316.3L440.0,319.7L439.6,320.4L439.0,322.5L439.4,324.7L438.7,325.6L437.9,328.1L439.1,328.8L432.0,330.9L432.1,332.8L430.4,333.2L429.1,334.2L428.7,335.1L427.9,335.3L425.8,337.5L424.5,339.2L423.7,339.3L423.0,339.0L420.4,338.7L420.0,338.5L420.0,338.3L419.1,337.7L417.6,337.5L415.7,338.1Z" fill="#99d8c9" fill-rule="evenodd" stroke="#66756c" stroke-width="0.32"/>
<path d="M430.7,303.8L430.6,300.7L430.0,299.5L431.4,299.7L432.1,298.2L433.3,298.3L433.5,299.4L434.0,300.0L434.0,300.8L433.4,301.4L432.5,302.8L431.6,303.7L430.7,303.8Z" fill="#99d8c9" fill-rule="evenodd" stroke="#66756c" stroke-width="0.32"/>
<path d="M430.0,299.5L430.2,298.0L430.5,297.8L430.6,296.3L431.3,295.5L431.8,295.8L433.2,295.0L434.2,296.5L434.0,298.0L433.3,298.3L432.1,298.2L431.4,299.7L430.0,299.5Z" fill="#99d8c9" fill-rule="evenodd" stroke="#66756c" stroke-width="0.32"/>
<path d="M431.3,295.5L431.3,293.6L431.9,292.6L432.0,290.4L432.5,289.2L433.4,287.8L434.2,287.1L435.0,286.2L434.0,285.8L434.2,282.8L435.1,282.1L436.6,282.6L438.5,282.0L440.1,282.0L441.5,280.8L442.6,282.6L442.9,284.0L444.0,287.0L443.1,288.9L442.0,290.6L441.3,291.7L441.4,294.5L436.6,294.7L434.1,294.7L433.2,295.0L431.8,295.8L431.3,295.5Z" fill="#99d8c9" fill-rule="evenodd" stroke="#66756c" stroke-width="0.32"/>
<path d="M441.5,280.8L442.9,279.2L444.5,277.5L445.7,277.9L445.7,279.4L446.5,280.3L448.2,280.3L451.1,282.5L451.9,282.6L452.4,282.5L452.9,282.8L454.5,283.0L455.1,281.9L457.3,280.8L458.2,281.7L459.8,281.7L457.8,284.7L457.9,294.3L459.3,296.4L457.6,297.5L457.0,298.6L456.1,298.8L455.8,300.6L455.0,301.7L454.5,303.4L453.6,304.3L450.3,301.7L450.2,300.2L441.7,294.8L441.4,294.5L441.3,291.7L442.0,290.6L443.1,288.9L444.0,287.0L442.9,284.0L442.6,282.6L441.5,280.8Z" fill="#99d8c9" fill-rule="evenodd" stroke="#66756c" stroke-width="0.32"/>
<path d="M459.8,281.7L458.2,281.7L457.3,280.8L455.1,281.9L454.5,283.0L452.9,282.8L452.4,282.5L451.9,282.6L451.1,282.5L448.2,280.3L446.5,280.3L445.7,279.4L445.7,277.9L444.5,277.5L443.1,274.7L442.0,274.0L441.6,273.0L440.4,271.7L438.9,271.5L439.7,270.0L440.9,269.9L441.2,269.2L441.2,266.8L441.8,264.0L442.9,263.3L443.1,262.2L444.0,260.2L445.3,258.9L446.2,256.3L446.5,254.1L449.2,254.6L449.8,252.6L451.3,253.8L452.6,253.2L453.2,253.8L454.8,253.8L456.8,254.8L457.4,255.8L458.5,256.6L459.5,258.1L460.3,259.0L459.6,260.2L458.8,261.4L459.1,262.1L459.1,262.9L460.4,263.0L460.9,262.8L461.5,263.2L461.0,264.2L461.9,265.6L462.8,266.9L463.7,267.8L471.4,270.9L473.4,270.9L467.0,278.8L463.9,278.9L461.9,280.8L460.4,280.9L459.8,281.7Z" fill="#99d8c9" fill-rule="evenodd" stroke="#66756c" stroke-width="0.32"/>
<path d="M438.4,316.3L439.5,317.5L440.7,316.8L441.1,317.5L441.9,318.7L442.4,322.3L441.7,324.3L442.2,327.7L443.0,327.7L443.8,328.5L444.7,330.4L444.8,333.8L443.8,334.4L443.0,336.2L441.5,334.6L441.5,332.7L442.0,331.5L441.9,330.4L441.0,329.8L440.4,330.0L439.1,328.8L437.9,328.1L438.7,325.6L439.4,324.7L439.0,322.5L439.6,320.4L440.0,319.7L438.4,316.3Z" fill="#99d8c9" fill-rule="evenodd" stroke="#66756c" stroke-width="0.32"/>
<path d="M442.4,322.3L444.2,322.1L446.9,322.8L447.5,322.5L449.1,322.4L450.0,321.7L451.4,321.7L453.9,320.7L456.1,319.5L456.2,320.3L455.9,325.3L456.1,329.4L456.5,330.7L454.7,334.4L453.1,336.0L451.0,337.0L448.3,338.3L445.6,341.1L444.7,341.6L443.0,343.4L442.0,344.0L441.7,345.9L442.7,347.9L443.1,349.5L443.5,350.1L442.8,353.9L443.3,354.4L442.9,355.5L441.9,356.4L440.0,357.3L437.1,358.7L436.1,359.7L436.2,360.8L436.8,361.0L436.5,362.4L434.8,362.3L434.4,360.0L434.3,359.0L434.9,356.1L434.4,354.3L433.5,350.5L436.0,347.6L436.7,345.7L437.1,345.4L437.4,343.9L437.1,343.1L437.3,341.1L437.8,339.3L438.0,336.0L436.8,335.1L435.7,334.9L435.2,334.3L434.2,333.7L432.3,333.8L432.1,332.8L432.0,330.9L439.1,328.8L440.4,330.0L441.0,329.8L441.9,330.4L442.0,331.5L441.5,332.7L441.5,334.6L443.0,336.2L443.8,334.4L444.8,333.8L444.7,330.4L443.8,328.5L443.0,327.7L442.2,327.7L441.7,324.3L442.4,322.3Z" fill="#99d8c9" fill-rule="evenodd" stroke="#66756c" stroke-width="0.32"/>
<path d="M420.4,338.7L423.0,339.0L423.7,339.3L424.5,339.2L425.8,337.5L427.9,335.3L428.7,335.1L429.1,334.2L430.4,333.2L432.1,332.8L432.3,333.8L434.2,333.7L435.2,334.3L435.7,334.9L436.8,335.1L438.0,336.0L437.8,339.3L437.3,341.1L437.1,343.1L437.4,343.9L437.1,345.4L436.7,345.7L436.0,347.6L433.5,350.5L432.3,350.3L430.4,350.2L429.5,350.1L426.3,348.5L425.7,346.9L425.8,345.9L424.8,345.7L422.3,342.8L421.7,341.2L421.2,340.8L420.4,338.7Z" fill="#66c2a4" fill-rule="evenodd" stroke="#66756c" stroke-width="0.32"/>
<path d="M414.7,114.0L412.1,114.9L410.8,115.1L411.1,113.5L408.7,112.7L406.3,113.4L405.9,115.0L404.5,116.0L402.5,115.5L400.3,115.6L398.2,114.4L397.3,115.0L396.3,115.1L396.3,116.5L393.0,116.2L392.8,117.4L391.1,117.4L390.2,119.0L388.8,121.6L386.4,124.8L387.2,125.6L386.7,126.5L384.9,126.5L383.9,128.7L384.3,131.8L385.6,133.0L385.3,135.8L383.8,137.5L383.1,138.9L381.8,137.4L378.2,140.2L375.7,140.8L373.1,139.5L372.3,136.9L371.5,131.4L373.1,129.9L377.8,127.9L381.1,125.5L384.1,122.3L387.7,117.9L390.4,116.2L394.6,113.4L398.1,112.4L400.8,112.6L403.0,110.8L408.9,110.4L412.5,112.6L414.5,112.0L414.7,114.0Z" fill="#005824" fill-rule="evenodd" stroke="#66756c" stroke-width="0.32"/>
<path d="M410.8,115.1L412.1,114.9L414.7,114.0L416.2,113.2L419.4,114.6L424.2,115.1L431.5,117.6L433.2,118.7L433.8,120.2L432.3,121.4L429.6,122.0L421.3,120.3L420.1,120.6L423.4,122.2L423.8,123.3L424.6,125.7L427.1,126.4L428.7,127.0L428.6,125.9L427.2,124.9L428.1,124.0L432.8,125.4L434.1,124.9L432.4,123.1L435.7,120.9L437.4,121.0L439.3,121.8L439.7,120.3L437.8,118.9L438.1,117.6L436.4,116.2L441.4,116.9L442.9,118.2L440.8,118.4L441.3,119.7L443.0,120.5L445.5,120.0L445.3,118.5L453.5,115.5L454.9,115.6L453.8,117.0L456.0,117.2L456.9,116.5L460.1,116.4L462.1,115.5L464.8,116.8L465.9,115.3L463.5,114.1L463.9,113.3L469.3,114.0L472.0,114.7L479.6,117.2L477.6,114.9L475.2,114.2L475.1,113.2L473.1,111.5L472.6,110.8L474.4,108.8L475.1,106.4L481.0,108.2L480.6,109.9L482.1,110.6L483.7,112.2L485.3,115.2L488.0,116.5L491.1,118.0L487.4,115.1L486.1,113.8L482.6,109.9L484.5,108.4L483.0,106.9L483.8,106.9L485.5,108.0L486.4,110.1L488.4,110.5L486.5,108.9L488.6,108.1L491.9,108.0L495.9,109.2L493.0,107.4L491.0,105.2L493.5,104.7L497.4,104.8L498.3,103.5L498.8,102.1L500.6,102.1L502.6,101.1L506.4,100.8L506.3,100.2L511.9,100.5L514.1,99.4L517.0,99.5L516.7,97.8L519.3,96.9L521.3,98.1L525.1,98.4L526.8,99.4L527.6,98.9L532.1,98.9L536.9,99.9L540.1,101.7L539.2,102.3L536.4,103.4L535.9,104.1L538.2,104.4L541.2,104.9L542.2,104.5L544.6,105.8L544.7,105.3L546.8,105.0L552.4,105.3L553.9,106.3L561.1,106.6L559.1,105.0L563.0,105.4L565.5,105.3L569.6,106.4L572.0,107.8L572.2,108.7L576.4,110.4L580.0,111.3L578.8,109.0L582.7,110.0L584.7,109.4L592.3,109.8L588.4,107.8L589.3,106.9L605.9,108.2L609.1,109.5L615.8,111.2L621.9,110.8L625.7,111.1L628.5,112.0L630.6,113.6L633.6,114.2L635.2,113.8L638.1,113.7L641.9,114.2L644.7,113.9L650.6,115.9L651.7,115.2L648.1,113.8L647.3,112.8L653.7,113.4L656.9,113.3L663.5,114.3L667.4,115.3L681.0,124.3L680.2,125.4L677.6,125.2L681.0,126.4L684.7,128.4L686.5,129.0L688.0,130.0L688.4,130.6L684.3,130.1L681.6,131.9L680.4,132.2L679.7,133.8L678.9,135.3L679.6,136.4L674.9,134.7L672.3,136.6L670.4,135.7L669.9,136.8L667.0,136.4L668.3,138.0L668.7,140.4L669.9,141.4L672.7,141.9L676.4,145.5L674.7,145.6L676.1,147.6L678.1,148.7L676.0,150.0L678.2,152.9L675.8,153.5L677.7,156.0L677.0,158.4L674.7,156.6L670.3,153.0L663.7,147.4L661.1,144.0L661.1,142.5L660.0,141.4L662.3,140.8L662.2,137.8L662.5,135.3L663.5,133.4L660.8,130.0L658.9,130.2L660.2,132.2L658.7,134.8L653.7,131.9L649.9,132.7L649.9,136.7L653.1,138.2L649.6,138.8L647.0,139.1L645.2,137.3L641.9,136.9L640.9,138.1L634.7,137.7L629.3,138.4L627.9,143.2L625.8,149.0L629.1,149.4L631.5,150.9L633.8,151.5L634.0,150.2L636.3,150.4L641.6,153.1L643.5,155.3L644.1,157.8L646.3,160.8L648.5,164.9L648.1,168.6L648.6,170.4L647.8,173.4L647.0,176.4L646.6,177.9L644.7,179.5L643.4,179.5L641.3,178.2L639.7,180.1L639.8,181.0L639.3,180.5L638.4,179.2L639.5,179.2L637.9,176.1L636.0,173.9L637.2,173.0L640.0,173.4L639.7,170.9L638.6,168.1L638.7,167.1L638.2,164.8L635.3,165.6L634.3,166.6L631.2,166.6L628.7,164.2L625.0,162.4L620.9,161.6L618.4,159.1L616.5,157.5L614.9,156.4L611.8,153.9L609.3,153.0L605.8,152.2L603.2,152.3L601.1,152.7L600.4,154.0L601.9,154.6L603.0,156.0L602.4,156.8L602.5,159.5L603.3,160.6L601.5,162.2L598.4,161.2L596.2,161.4L594.6,160.6L593.2,160.3L591.4,162.1L588.9,162.5L587.4,163.2L584.6,162.8L582.8,162.8L580.8,161.5L578.1,160.3L575.8,159.9L573.5,160.2L571.9,160.7L568.4,159.6L566.9,157.7L564.1,157.1L562.1,156.8L559.3,155.8L558.7,158.4L560.4,159.9L559.4,161.6L556.1,161.0L554.1,160.9L552.1,159.7L549.9,159.7L547.8,158.9L545.3,160.1L542.6,162.3L540.6,162.7L540.0,163.0L538.1,161.4L535.7,161.7L534.3,160.6L532.7,160.2L531.0,158.7L529.7,158.2L527.1,158.9L523.6,157.4L523.2,158.8L515.7,152.4L512.2,150.4L512.6,149.6L508.8,152.0L507.0,152.1L506.5,150.8L503.6,149.9L501.8,150.5L500.0,147.9L496.3,147.4L495.0,148.4L490.5,149.4L489.8,150.0L482.9,150.8L482.3,151.7L484.4,153.4L482.7,154.1L483.4,154.7L481.9,156.0L485.8,157.7L485.7,158.9L482.8,158.8L482.5,159.5L479.5,158.3L476.3,158.3L474.5,159.4L471.8,158.3L466.9,156.6L463.8,156.7L460.4,159.4L460.7,161.3L458.2,159.8L457.3,162.6L458.1,163.1L457.4,165.1L459.5,166.8L461.0,166.7L462.7,168.4L462.9,169.8L464.0,170.2L463.5,171.7L461.5,172.1L460.1,174.8L462.5,177.3L462.7,179.0L465.7,182.1L464.7,183.1L464.4,183.8L463.4,183.6L461.7,182.0L461.0,181.9L459.6,181.3L458.7,180.3L456.6,179.7L455.4,180.1L455.0,179.6L451.8,178.4L448.6,178.0L446.8,177.5L446.6,177.9L443.5,175.6L440.9,174.7L439.3,173.8L438.9,173.2L440.3,172.7L441.6,170.6L440.3,169.6L443.1,168.5L442.9,168.0L441.2,168.4L441.0,167.2L441.9,166.5L443.9,166.3L444.0,165.5L443.3,164.1L443.8,162.7L443.6,162.0L440.4,161.1L439.3,161.1L437.8,160.0L436.3,160.4L433.6,159.5L433.5,159.0L432.6,157.9L430.9,157.7L430.6,157.0L431.0,156.5L429.5,155.0L427.5,155.3L426.8,155.1L426.4,155.7L425.7,155.6L424.9,154.0L424.3,153.2L424.6,152.9L426.2,153.0L426.8,152.5L426.1,151.8L424.7,151.4L424.8,150.9L423.9,150.5L422.3,148.8L422.6,148.2L422.2,147.0L420.2,146.4L419.2,146.7L418.8,146.1L416.7,145.5L415.4,142.2L415.0,141.5L414.0,139.2L414.7,137.4L418.2,136.3L416.5,136.0L414.4,134.9L417.6,131.9L419.0,130.5L419.4,129.3L416.4,127.7L416.7,126.2L414.7,124.4L415.4,122.4L412.7,119.8L413.9,118.1L410.9,116.6L410.8,115.1Z" fill="#238b45" fill-rule="evenodd" stroke="#66756c" stroke-width="0.32"/>
<path d="M397.3,115.0L398.2,114.4L400.3,115.6L402.5,115.5L404.5,116.0L405.9,115.0L406.3,113.4L408.7,112.7L411.1,113.5L410.8,115.1L410.9,116.6L413.9,118.1L412.7,119.8L415.4,122.4L414.7,124.4L416.7,126.2L416.4,127.7L419.4,129.3L419.0,130.5L417.6,131.9L414.4,134.9L411.1,135.1L407.9,136.0L405.0,136.5L403.7,135.2L401.8,134.4L401.8,132.0L400.6,129.9L401.2,128.5L402.6,127.0L406.2,124.5L407.3,124.0L406.9,123.1L404.2,122.0L403.5,121.1L402.8,117.6L399.8,116.1L397.3,115.0Z" fill="#005824" fill-rule="evenodd" stroke="#66756c" stroke-width="0.32"/>
<path d="M383.1,138.9L383.8,137.5L385.3,135.8L385.6,133.0L384.3,131.8L383.9,128.7L384.9,126.5L386.7,126.5L387.2,125.6L386.4,124.8L388.8,121.6L390.2,119.0L391.1,117.4L392.8,117.4L393.0,116.2L396.3,116.5L396.3,115.1L397.3,115.0L399.8,116.1L402.8,117.6L403.5,121.1L404.2,122.0L401.3,122.6L399.9,124.2L400.4,125.7L397.9,127.5L394.7,129.6L393.8,132.9L397.3,135.9L396.0,138.7L394.1,139.2L393.8,143.3L393.0,145.6L390.6,145.4L389.7,147.3L387.5,147.5L386.7,145.1L384.9,142.3L384.1,140.7L383.1,138.9Z" fill="#005824" fill-rule="evenodd" stroke="#66756c" stroke-width="0.32"/>
<path d="M414.7,137.4L414.0,139.2L415.0,141.5L414.4,142.3L411.0,141.3L410.1,141.0L408.5,141.5L408.5,140.0L407.9,140.3L406.4,139.5L406.3,138.0L408.4,137.4L410.7,137.1L412.8,137.4L414.7,137.4Z" fill="#238b45" fill-rule="evenodd" stroke="#66756c" stroke-width="0.32"/>
<path d="M408.5,141.5L410.1,141.0L411.0,141.3L414.4,142.3L415.0,141.5L415.4,142.2L416.7,145.5L414.8,146.4L413.7,146.8L411.6,145.6L410.5,145.5L410.2,145.0L408.3,145.2L405.1,145.0L403.0,145.8L402.7,144.0L403.5,142.4L405.2,141.6L407.0,143.4L408.5,143.3L408.5,141.5Z" fill="#238b45" fill-rule="evenodd" stroke="#66756c" stroke-width="0.32"/>
<path d="M413.7,146.8L414.8,146.4L416.7,145.5L418.8,146.1L419.2,146.7L420.2,146.4L422.2,147.0L422.6,148.2L422.3,148.8L423.9,150.5L424.8,150.9L424.7,151.4L426.1,151.8L426.8,152.5L426.2,153.0L424.6,152.9L424.3,153.2L424.9,154.0L425.7,155.6L424.0,155.8L423.5,156.3L423.6,157.6L422.7,157.3L420.9,157.5L420.3,156.9L419.7,157.3L418.8,157.0L417.2,156.9L414.9,156.3L412.9,156.1L411.3,156.2L410.4,156.8L409.4,156.9L409.2,155.8L408.4,154.6L409.6,154.1L409.4,153.1L408.7,152.2L408.5,151.1L410.4,151.1L412.4,150.2L412.6,148.7L414.0,147.9L413.7,146.8Z" fill="#238b45" fill-rule="evenodd" stroke="#66756c" stroke-width="0.32"/>
<path d="M403.0,145.8L405.1,145.0L408.3,145.2L410.2,145.0L410.5,145.5L411.6,145.6L413.7,146.8L414.0,147.9L412.6,148.7L412.4,150.2L410.4,151.1L408.5,151.1L407.9,150.3L406.9,150.0L406.6,149.4L406.7,148.7L405.8,148.3L403.7,147.9L403.0,145.8Z" fill="#238b45" fill-rule="evenodd" stroke="#66756c" stroke-width="0.32"/>
<path d="M406.9,150.0L407.9,150.3L408.5,151.1L408.7,152.2L409.4,153.1L409.6,154.1L408.4,154.6L409.2,155.8L409.4,156.9L410.7,159.1L410.6,159.9L409.7,160.2L408.1,162.3L408.8,163.4L408.3,163.3L406.2,162.3L404.8,162.7L403.8,162.4L402.7,162.9L401.6,162.0L400.8,162.4L400.6,162.2L399.6,161.0L398.1,160.8L397.8,160.0L396.4,159.8L396.1,160.4L395.0,159.9L395.1,159.2L393.5,159.0L392.5,158.1L391.6,156.5L391.6,155.7L391.0,154.3L390.2,153.4L390.7,152.7L390.1,151.5L391.4,150.7L394.3,149.6L396.7,148.7L398.9,149.8L398.7,149.2L400.8,149.8L403.3,150.1L406.9,150.0Z" fill="#238b45" fill-rule="evenodd" stroke="#66756c" stroke-width="0.32"/>
<path d="M403.7,147.9L405.8,148.3L406.7,148.7L406.6,149.4L406.9,150.0L403.3,150.1L400.8,149.8L401.1,148.7L403.7,147.9Z" fill="#238b45" fill-rule="evenodd" stroke="#66756c" stroke-width="0.32"/>
<path d="M409.4,156.9L410.4,156.8L411.3,156.2L412.9,156.1L414.9,156.3L417.2,156.9L418.8,157.0L419.7,157.3L420.3,156.9L420.9,157.5L422.7,157.3L423.6,157.6L423.5,156.3L424.0,155.8L425.7,155.6L426.4,155.7L426.8,155.1L427.5,155.3L429.5,155.0L431.0,156.5L430.6,157.0L430.9,157.7L432.6,157.9L433.5,159.0L433.6,159.5L436.3,160.4L437.8,160.0L439.3,161.1L440.4,161.1L443.6,162.0L443.8,162.7L443.3,164.1L444.0,165.5L443.9,166.3L441.9,166.5L441.0,167.2L441.2,168.4L439.6,168.6L438.3,169.4L436.4,169.5L434.8,170.5L435.2,172.1L436.3,172.7L438.4,172.6L438.2,173.5L436.0,173.9L433.4,175.4L432.6,174.8L430.1,172.9L431.4,170.9L428.7,170.7L428.0,169.7L426.0,169.7L425.5,171.2L424.1,173.0L423.1,172.6L422.2,173.0L421.2,172.5L421.7,172.2L421.9,171.4L422.4,171.2L422.1,170.1L422.5,169.9L422.8,170.2L424.0,170.3L424.5,170.1L424.1,169.8L424.2,169.5L423.4,168.8L422.9,167.7L422.1,167.3L422.1,166.4L421.1,165.7L420.2,165.6L418.6,164.8L417.3,165.1L416.9,165.5L416.0,165.5L415.6,166.1L414.1,166.3L413.4,166.7L412.4,166.1L411.1,166.1L409.8,165.8L409.0,166.4L408.7,165.7L407.5,165.0L407.8,163.9L408.3,163.3L408.8,163.4L408.1,162.3L409.7,160.2L410.6,159.9L410.7,159.1L409.4,156.9Z" fill="#41ae76" fill-rule="evenodd" stroke="#66756c" stroke-width="0.32"/>
<path d="M408.3,163.3L407.8,163.9L407.5,165.0L407.1,165.2L404.8,164.5L404.2,164.6L403.8,165.2L402.9,165.5L402.6,165.4L401.6,165.8L400.9,165.8L400.7,166.4L399.1,166.7L398.3,166.4L397.2,165.7L396.9,164.8L397.0,164.5L397.2,164.0L398.2,164.0L398.8,163.7L398.9,163.5L399.2,163.4L399.3,162.8L399.8,162.7L400.0,162.2L400.6,162.2L400.8,162.4L401.6,162.0L402.7,162.9L403.8,162.4L404.8,162.7L406.2,162.3L408.3,163.3Z" fill="#238b45" fill-rule="evenodd" stroke="#66756c" stroke-width="0.32"/>
<path d="M409.0,166.4L409.8,165.8L411.1,166.1L412.4,166.1L413.4,166.7L414.1,166.3L415.6,166.1L416.0,165.5L416.9,165.5L417.5,165.7L418.3,166.5L419.1,167.6L420.5,169.1L420.7,170.2L420.6,171.4L421.2,172.5L422.2,173.0L423.1,172.6L424.1,173.0L424.2,173.7L422.6,174.0L422.5,177.1L421.2,176.9L419.5,175.9L417.2,176.5L416.2,177.2L413.1,177.0L411.4,176.6L410.6,176.8L409.9,175.8L409.5,175.3L409.9,174.9L409.4,174.6L408.8,175.1L407.5,174.4L407.2,173.3L405.9,172.7L405.5,171.9L404.3,170.9L405.9,170.4L407.0,168.6L407.8,166.9L409.0,166.4Z" fill="#238b45" fill-rule="evenodd" stroke="#66756c" stroke-width="0.32"/>
<path d="M416.9,165.5L417.3,165.1L418.6,164.8L420.2,165.6L421.1,165.7L422.1,166.4L422.1,167.3L422.9,167.7L423.4,168.8L424.2,169.5L424.1,169.8L424.5,170.1L424.0,170.3L422.8,170.2L422.5,169.9L422.1,170.1L422.4,171.2L421.9,171.4L421.7,172.2L421.2,172.5L420.6,171.4L420.7,170.2L420.5,169.1L419.1,167.6L418.3,166.5L417.5,165.7L416.9,165.5Z" fill="#41ae76" fill-rule="evenodd" stroke="#66756c" stroke-width="0.32"/>
<path d="M390.1,151.5L390.7,152.7L390.2,153.4L391.0,154.3L391.6,155.7L391.6,156.5L392.5,158.1L391.6,158.4L391.1,158.1L390.6,158.6L389.2,159.1L388.5,159.7L387.1,160.3L387.5,161.0L387.8,162.1L388.9,162.7L390.1,163.8L389.5,165.0L388.7,165.3L389.2,167.0L389.0,167.4L388.3,166.9L387.3,166.8L385.9,167.3L384.1,167.2L383.8,167.9L382.7,167.1L382.1,167.3L379.9,166.5L379.5,167.1L377.7,167.0L377.9,165.2L378.9,163.4L375.9,163.0L375.0,162.3L375.0,161.2L374.6,160.6L374.8,158.9L374.3,156.3L375.5,156.3L376.0,155.3L376.4,153.0L376.0,152.2L376.4,151.6L378.0,151.5L378.4,152.0L379.7,150.8L379.1,149.9L379.0,148.5L381.7,148.4L381.8,149.4L383.8,150.0L383.8,150.8L385.8,150.4L386.9,149.7L389.1,150.7L390.1,151.5Z" fill="#005824" fill-rule="evenodd" stroke="#66756c" stroke-width="0.32"/>
<path d="M391.6,158.4L392.5,158.1L393.5,159.0L395.1,159.2L395.0,159.9L396.1,160.4L396.4,159.8L397.8,160.0L398.1,160.8L399.6,161.0L400.6,162.2L400.0,162.2L399.8,162.7L399.3,162.8L399.2,163.4L398.9,163.5L398.8,163.7L398.2,164.0L397.2,164.0L397.0,164.5L396.0,164.0L395.1,164.2L393.4,163.4L392.7,163.6L391.7,164.6L390.1,163.8L388.9,162.7L387.8,162.1L387.5,161.0L387.1,160.3L388.5,159.7L389.2,159.1L390.6,158.6L391.1,158.1L391.6,158.4Z" fill="#238b45" fill-rule="evenodd" stroke="#66756c" stroke-width="0.32"/>
<path d="M389.5,165.0L390.1,163.8L391.7,164.6L392.7,163.6L393.4,163.4L395.1,164.2L396.0,164.0L397.0,164.5L396.9,164.8L397.2,165.7L397.1,166.8L395.9,166.8L396.4,167.3L395.8,169.0L395.5,169.4L393.7,169.5L392.7,170.1L391.0,169.9L388.0,169.2L387.4,168.3L385.4,168.8L385.2,169.3L383.9,168.9L382.9,168.8L381.9,168.4L382.2,167.7L382.1,167.3L382.7,167.1L383.8,167.9L384.1,167.2L385.9,167.3L387.3,166.8L388.3,166.9L389.0,167.4L389.2,167.0L388.7,165.3L389.5,165.0Z" fill="#005824" fill-rule="evenodd" stroke="#66756c" stroke-width="0.32"/>
<path d="M395.8,169.0L396.2,169.0L396.7,169.9L395.1,170.6L394.9,171.6L394.2,171.9L394.3,172.6L393.5,172.6L392.8,172.2L392.4,172.6L391.0,172.5L391.4,172.3L390.8,171.1L391.0,169.9L392.7,170.1L393.7,169.5L395.5,169.4L395.8,169.0Z" fill="#238b45" fill-rule="evenodd" stroke="#66756c" stroke-width="0.32"/>
<path d="M396.7,169.9L397.3,170.2L399.0,171.3L400.8,171.8L401.5,171.4L402.1,172.4L402.8,173.2L402.1,174.1L401.1,173.6L399.7,173.6L397.8,173.2L396.9,173.2L396.5,173.8L395.7,173.2L395.3,174.2L396.4,175.5L397.0,176.3L398.0,177.2L398.8,177.8L399.7,178.9L401.7,179.9L401.9,178.4L402.5,177.9L402.9,177.6L403.5,178.1L403.8,178.4L404.5,178.7L405.4,179.2L405.2,179.5L404.9,180.0L404.2,179.8L403.3,181.1L403.6,181.9L403.1,181.7L401.5,180.3L399.4,179.4L396.1,177.6L394.2,175.8L393.5,173.6L392.1,173.2L391.6,174.3L390.9,173.4L391.0,172.5L392.4,172.6L392.8,172.2L393.5,172.6L394.3,172.6L394.2,171.9L394.9,171.6L395.1,170.6L396.7,169.9Z" fill="#238b45" fill-rule="evenodd" stroke="#66756c" stroke-width="0.32"/>
<path d="M401.5,171.4L403.0,170.8L404.3,170.9L405.5,171.9L405.9,172.7L407.2,173.3L407.5,174.4L408.8,175.1L409.4,174.6L409.9,174.9L409.5,175.3L409.9,175.8L409.5,176.3L409.7,177.3L410.9,178.4L410.2,179.2L409.9,180.1L410.2,180.4L409.8,180.7L408.9,180.8L408.2,180.9L408.1,180.7L408.3,180.4L408.5,179.8L408.2,179.8L407.7,179.3L407.3,179.2L407.0,178.8L406.6,178.6L406.3,178.3L405.9,178.4L405.7,179.3L405.2,179.5L405.4,179.2L404.5,178.7L403.8,178.4L403.5,178.1L402.9,177.6L403.3,177.5L403.5,176.3L402.4,175.3L402.9,174.1L402.1,174.1L402.8,173.2L402.1,172.4L401.5,171.4Z" fill="#238b45" fill-rule="evenodd" stroke="#66756c" stroke-width="0.32"/>
<path d="M409.9,175.8L410.6,176.8L411.4,176.6L413.1,177.0L416.2,177.2L417.2,176.5L419.5,175.9L421.2,176.9L422.5,177.1L421.4,178.2L421.0,180.0L421.9,181.5L420.0,181.2L417.9,182.0L418.1,183.3L416.1,183.6L414.5,182.7L412.9,183.4L411.3,183.3L411.0,181.6L409.8,180.7L410.2,180.4L409.9,180.1L410.2,179.2L410.9,178.4L409.7,177.3L409.5,176.3L409.9,175.8Z" fill="#238b45" fill-rule="evenodd" stroke="#66756c" stroke-width="0.32"/>
<path d="M409.8,180.7L411.0,181.6L411.3,183.3L410.9,183.4L410.6,183.8L409.5,183.8L408.7,184.4L407.3,184.6L406.4,183.9L406.0,182.8L406.2,181.9L405.9,181.0L406.5,181.4L407.7,181.0L408.2,180.9L408.9,180.8L409.8,180.7Z" fill="#41ae76" fill-rule="evenodd" stroke="#66756c" stroke-width="0.32"/>
<path d="M411.3,183.3L412.9,183.4L414.5,182.7L416.1,183.6L418.1,183.3L417.9,182.0L419.0,182.7L418.6,184.3L418.1,184.6L416.8,184.6L415.7,184.3L413.1,185.0L414.8,186.5L413.7,186.9L412.5,186.9L410.9,186.1L411.5,187.7L412.7,188.9L412.0,189.5L413.3,190.7L414.4,191.5L414.6,192.9L413.3,193.6L412.9,196.2L411.9,193.8L411.5,196.2L409.6,195.1L408.6,193.0L408.1,191.2L407.2,190.0L405.7,187.8L406.6,186.5L406.7,185.6L407.3,185.3L407.3,184.6L408.7,184.4L409.5,183.8L410.6,183.8L410.9,183.4L411.3,183.3Z" fill="#238b45" fill-rule="evenodd" stroke="#66756c" stroke-width="0.32"/>
<path d="M417.9,182.0L420.0,181.2L421.9,181.5L421.9,181.6L422.2,182.6L424.8,183.6L426.4,183.8L428.9,183.9L431.2,182.2L433.6,181.5L437.1,181.5L441.1,183.3L444.3,184.3L446.7,183.9L448.6,184.2L450.9,182.8L453.1,182.7L455.4,183.9L456.0,184.9L456.0,186.1L457.7,186.8L458.7,187.5L457.4,188.3L458.5,191.3L458.3,192.1L459.8,194.2L458.8,194.7L458.0,194.0L455.4,193.6L454.5,194.0L452.1,194.5L450.9,194.4L448.5,195.4L446.8,195.4L445.5,194.9L443.2,195.6L442.5,195.1L442.5,196.6L442.0,197.2L441.5,197.8L441.2,195.6L439.9,195.8L438.0,195.2L436.7,196.7L433.5,197.0L431.5,195.6L429.2,195.5L428.8,196.6L427.3,196.9L425.0,195.5L422.7,195.5L421.1,192.9L419.4,191.5L420.2,189.4L418.7,188.2L418.6,186.0L418.1,184.6L418.6,184.3L419.0,182.7L417.9,182.0Z" fill="#238b45" fill-rule="evenodd" stroke="#66756c" stroke-width="0.32"/>
<path d="M407.3,184.6L407.3,185.3L406.7,185.6L406.6,186.5L405.7,187.8L405.3,187.0L404.0,186.1L403.7,184.9L403.7,183.1L404.0,182.3L403.6,181.9L403.3,181.1L404.2,179.8L404.9,180.0L405.9,181.0L406.2,181.9L406.0,182.8L406.4,183.9L407.3,184.6Z" fill="#41ae76" fill-rule="evenodd" stroke="#66756c" stroke-width="0.32"/>
<path d="M404.9,180.0L405.2,179.5L405.7,179.3L405.9,178.4L406.3,178.3L406.6,178.6L407.0,178.8L407.3,179.2L407.7,179.3L408.2,179.8L408.5,179.8L408.3,180.4L408.1,180.7L408.2,180.9L407.7,181.0L406.5,181.4L405.9,181.0L404.9,180.0Z" fill="#41ae76" fill-rule="evenodd" stroke="#66756c" stroke-width="0.32"/>
<path d="M381.7,148.4L379.0,148.5L378.1,147.1L377.9,144.6L378.2,143.9L378.7,143.1L381.0,142.3L382.5,141.6L382.0,143.7L383.4,144.7L382.4,145.4L381.1,147.2L381.7,148.4Z" fill="#005824" fill-rule="evenodd" stroke="#66756c" stroke-width="0.32"/>
<path d="M376.0,152.2L376.4,153.0L376.0,155.3L375.5,156.3L374.3,156.3L374.8,158.9L373.7,158.3L372.3,157.2L370.5,157.7L369.0,157.5L370.1,156.8L371.7,153.1L374.3,152.1L376.0,152.2Z" fill="#005824" fill-rule="evenodd" stroke="#66756c" stroke-width="0.32"/>
<path d="M369.0,157.5L370.5,157.7L372.3,157.2L373.7,158.3L374.8,158.9L374.6,160.6L374.1,160.7L373.9,162.1L372.1,161.0L371.1,161.2L369.6,160.0L368.7,159.0L367.7,158.9L367.4,158.0L369.0,157.5Z" fill="#005824" fill-rule="evenodd" stroke="#66756c" stroke-width="0.32"/>
<path d="M374.6,160.6L375.0,161.2L375.0,162.3L374.4,162.4L373.9,162.1L374.1,160.7L374.6,160.6Z" fill="#005824" fill-rule="evenodd" stroke="#66756c" stroke-width="0.32"/>
<path d="M367.4,158.0L367.7,158.9L368.7,159.0L369.6,160.0L371.1,161.2L372.1,161.0L373.9,162.1L374.4,162.4L375.0,162.3L375.9,163.0L378.9,163.4L377.9,165.2L377.7,167.0L377.2,167.5L376.3,167.2L376.3,167.9L374.9,169.3L374.9,170.5L375.9,170.1L376.6,171.2L376.5,171.9L377.2,172.9L376.5,173.7L377.1,175.7L378.2,176.0L378.1,177.2L376.2,178.6L372.0,177.9L368.9,178.8L369.0,180.4L368.7,180.3L366.3,180.7L363.9,179.5L363.1,180.1L359.2,178.9L358.4,177.9L359.5,176.3L359.9,171.2L357.8,168.5L356.3,167.2L353.2,166.2L353.0,164.3L355.7,163.7L359.1,164.4L358.5,161.5L360.4,162.6L365.1,160.6L365.7,158.5L367.4,158.0Z" fill="#005824" fill-rule="evenodd" stroke="#66756c" stroke-width="0.32"/>
<path d="M376.6,171.2L375.9,170.1L374.9,170.5L374.9,169.3L376.3,167.9L376.3,167.2L377.2,167.5L377.7,167.0L379.5,167.1L379.9,166.5L382.1,167.3L382.2,167.7L381.9,168.4L382.9,168.8L383.9,168.9L383.8,170.0L382.9,170.4L381.4,170.1L381.0,171.1L380.0,171.2L379.6,170.8L378.5,171.7L377.5,171.8L376.6,171.2Z" fill="#005824" fill-rule="evenodd" stroke="#66756c" stroke-width="0.32"/>
<path d="M378.1,177.2L378.2,176.0L377.1,175.7L376.5,173.7L377.2,172.9L376.5,171.9L376.6,171.2L377.5,171.8L378.5,171.7L379.6,170.8L380.0,171.2L381.0,171.1L381.4,170.1L382.9,170.4L383.8,170.0L383.9,168.9L385.2,169.3L385.4,168.8L387.4,168.3L388.0,169.2L391.0,169.9L390.8,171.1L391.4,172.3L391.0,172.5L389.7,171.9L388.2,172.8L388.1,174.8L388.8,176.1L390.9,177.4L392.1,179.6L394.6,181.7L396.8,182.2L396.2,182.8L398.2,183.7L399.8,184.5L401.8,185.9L402.0,186.3L401.7,187.3L400.4,186.1L398.5,185.6L397.7,187.3L399.4,188.3L399.2,189.7L398.3,189.8L397.3,192.1L396.4,192.3L396.7,190.1L397.2,189.5L396.2,188.0L395.5,186.7L393.9,185.2L392.5,184.7L391.5,183.7L389.9,183.5L388.2,182.4L386.1,180.6L384.6,179.2L383.8,176.6L381.0,175.4L378.9,177.0L378.1,177.2Z" fill="#005824" fill-rule="evenodd" stroke="#66756c" stroke-width="0.32"/>
<path d="M358.4,177.9L359.2,178.9L363.1,180.1L363.9,179.5L366.3,180.7L368.7,180.3L369.0,180.4L369.0,180.5L368.9,181.9L366.9,183.6L364.1,184.2L363.9,185.0L361.8,188.6L362.6,190.1L361.4,191.3L360.9,193.0L359.3,193.5L357.7,195.5L354.9,195.5L352.9,195.5L350.6,197.4L349.6,197.2L348.8,196.3L348.2,194.8L346.2,194.4L346.0,193.5L346.8,192.6L347.2,191.8L346.5,191.1L347.1,189.3L346.3,187.8L347.2,187.5L347.3,186.3L347.7,185.9L347.8,183.9L348.8,183.2L348.2,181.9L347.0,181.8L346.6,182.1L345.4,182.1L344.9,180.8L344.0,181.2L343.1,181.7L342.6,178.9L345.6,177.0L351.0,177.5L353.2,177.9L355.0,177.8L358.4,177.9Z" fill="#005824" fill-rule="evenodd" stroke="#66756c" stroke-width="0.32"/>
<path d="M343.1,181.7L344.0,181.2L344.9,180.8L345.4,182.1L346.6,182.1L347.0,181.8L348.2,181.9L348.8,183.2L347.8,183.9L347.7,185.9L347.3,186.3L347.2,187.5L346.3,187.8L347.1,189.3L346.5,191.1L347.2,191.8L346.8,192.6L346.0,193.5L346.2,194.4L345.3,195.1L343.0,195.0L343.4,192.9L343.3,191.3L342.3,191.1L341.8,190.1L342.1,188.4L343.0,187.4L343.6,184.8L343.3,182.8L343.1,181.7Z" fill="#238b45" fill-rule="evenodd" stroke="#66756c" stroke-width="0.32"/>
<path d="M455.4,183.9L453.1,182.7L450.9,182.8L451.0,181.7L450.1,179.9L446.6,177.9L446.8,177.5L448.6,178.0L451.8,178.4L455.0,179.6L455.4,180.1L456.6,179.7L458.7,180.3L459.6,181.3L461.0,181.9L460.6,182.3L461.9,183.7L461.7,184.0L460.5,183.9L458.8,183.1L458.3,183.5L455.4,183.9Z" fill="#41ae76" fill-rule="evenodd" stroke="#66756c" stroke-width="0.32"/>
<path d="M458.7,187.5L457.7,186.8L456.0,186.1L456.0,184.9L455.4,183.9L458.3,183.5L458.9,184.2L459.8,184.7L459.5,185.3L460.8,186.2L460.4,187.1L461.4,187.8L462.4,188.2L462.8,190.0L462.1,190.1L460.9,188.6L460.8,188.2L459.9,188.2L459.1,187.5L458.7,187.5Z" fill="#66c2a4" fill-rule="evenodd" stroke="#66756c" stroke-width="0.32"/>
<path d="M459.8,194.2L458.3,192.1L458.5,191.3L457.4,188.3L458.7,187.5L459.2,188.5L460.5,189.4L460.9,188.6L462.1,190.1L462.8,190.0L465.0,188.1L465.8,187.9L466.6,188.6L466.1,190.0L467.7,191.3L468.2,191.2L469.2,193.1L471.4,193.7L473.1,195.0L476.3,195.4L479.6,194.7L479.7,194.1L481.5,193.6L482.7,192.1L484.2,192.2L485.0,191.7L486.6,191.9L489.3,193.3L491.1,193.6L494.1,195.9L495.8,196.0L496.4,198.2L496.2,201.5L496.0,203.4L497.0,203.8L496.4,205.2L497.5,207.3L498.0,209.0L499.7,209.4L500.2,211.1L498.6,213.5L499.9,214.9L501.1,216.5L503.4,217.6L503.8,220.0L504.9,220.4L505.3,221.6L502.2,223.0L501.7,226.0L497.4,225.2L494.9,224.6L492.3,224.3L490.9,221.0L489.8,220.6L488.1,221.1L486.0,222.3L483.1,221.5L480.6,219.4L478.3,218.7L476.5,216.2L474.4,212.7L473.3,213.1L471.7,212.2L471.0,213.2L469.6,211.9L469.4,210.5L468.7,210.5L468.8,208.6L467.3,206.6L464.4,205.1L462.5,202.6L462.7,200.6L463.7,199.7L463.3,198.1L461.7,197.3L459.8,194.2Z" fill="#41ae76" fill-rule="evenodd" stroke="#66756c" stroke-width="0.32"/>
<path d="M454.5,194.0L455.4,193.6L458.0,194.0L458.8,194.7L459.8,194.2L461.7,197.3L463.3,198.1L463.7,199.7L462.7,200.6L462.5,202.6L464.4,205.1L467.3,206.6L468.8,208.6L468.7,210.5L469.4,210.5L469.6,211.9L471.0,213.2L469.7,213.1L468.1,212.9L466.8,215.4L462.6,215.2L455.7,209.9L452.2,208.1L449.4,207.4L448.1,204.2L452.7,201.4L453.0,198.3L452.5,196.3L453.6,195.7L454.5,194.0Z" fill="#41ae76" fill-rule="evenodd" stroke="#66756c" stroke-width="0.32"/>
<path d="M441.5,197.8L442.0,197.2L442.5,196.6L442.5,195.1L443.2,195.6L445.5,194.9L446.8,195.4L448.5,195.4L450.9,194.4L452.1,194.5L454.5,194.0L453.6,195.7L452.5,196.3L453.0,198.3L452.7,201.4L448.1,204.2L444.1,207.0L441.5,205.9L441.7,205.5L441.6,204.4L442.0,203.0L443.0,202.0L442.6,201.0L441.6,200.9L441.1,198.8L441.5,197.8Z" fill="#66c2a4" fill-rule="evenodd" stroke="#66756c" stroke-width="0.32"/>
<path d="M441.6,200.9L442.6,201.0L443.0,202.0L442.0,203.0L441.6,204.4L441.0,204.5L440.8,204.9L440.1,204.9L440.6,202.8L441.6,200.9Z" fill="#41ae76" fill-rule="evenodd" stroke="#66756c" stroke-width="0.32"/>
<path d="M441.6,204.4L441.7,205.5L441.5,205.9L441.2,206.8L440.4,206.4L440.1,208.1L440.7,208.5L440.2,208.8L440.2,209.5L441.2,209.1L441.3,210.2L440.6,214.4L438.7,209.9L439.1,208.8L439.6,207.6L439.8,205.6L440.1,204.9L440.8,204.9L441.0,204.5L441.6,204.4Z" fill="#005824" fill-rule="evenodd" stroke="#66756c" stroke-width="0.32"/>
<path d="M481.7,183.4L480.7,183.5L478.7,181.5L477.1,180.7L474.8,181.3L474.0,182.1L473.8,181.5L474.0,180.4L473.4,179.5L470.7,178.6L469.2,176.3L467.9,175.6L467.7,174.8L469.8,175.1L469.4,173.1L471.0,172.7L472.9,173.1L472.7,170.6L471.9,169.0L469.8,169.1L467.9,168.5L465.8,169.6L464.0,170.2L462.9,169.8L462.7,168.4L461.0,166.7L459.5,166.8L457.4,165.1L458.1,163.1L457.3,162.6L458.2,159.8L460.7,161.3L460.4,159.4L463.8,156.7L466.9,156.6L471.8,158.3L474.5,159.4L476.3,158.3L479.5,158.3L482.5,159.5L482.8,158.8L485.7,158.9L485.8,157.7L481.9,156.0L483.4,154.7L482.7,154.1L484.4,153.4L482.3,151.7L482.9,150.8L489.8,150.0L490.5,149.4L495.0,148.4L496.3,147.4L500.0,147.9L501.8,150.5L503.6,149.9L506.5,150.8L507.0,152.1L508.8,152.0L512.6,149.6L512.2,150.4L515.7,152.4L523.2,158.8L523.6,157.4L527.1,158.9L529.7,158.2L531.0,158.7L532.7,160.2L534.3,160.6L535.7,161.7L538.1,161.4L540.0,163.0L539.2,164.6L537.6,164.9L538.7,167.5L538.0,168.6L533.6,167.8L534.0,172.4L533.1,173.0L529.4,174.0L533.0,178.5L531.8,179.2L532.5,180.7L531.1,180.3L529.7,179.3L526.5,179.1L522.9,179.0L522.3,179.3L518.9,178.2L517.9,178.7L518.1,180.3L514.3,179.4L513.0,179.7L512.9,180.9L511.8,181.4L509.6,183.2L509.2,185.0L508.4,185.1L507.5,183.8L504.7,183.7L503.7,181.6L502.6,181.6L502.0,179.0L498.9,177.1L495.4,177.3L493.0,177.7L490.3,175.3L488.3,174.4L484.5,172.5L484.1,172.3L479.2,173.8L481.7,183.4Z" fill="#41ae76" fill-rule="evenodd" stroke="#66756c" stroke-width="0.32"/>
<path d="M507.0,193.7L506.7,192.1L503.5,191.0L500.9,189.7L499.2,188.5L496.2,186.7L494.5,184.0L493.6,183.5L491.4,183.6L490.4,183.1L489.6,181.0L486.4,179.6L485.0,181.1L483.4,182.0L484.1,183.3L481.7,183.4L479.2,173.8L484.1,172.3L484.5,172.5L488.3,174.4L490.3,175.3L493.0,177.7L495.4,177.3L498.9,177.1L502.0,179.0L502.6,181.6L503.7,181.6L504.7,183.7L507.5,183.8L508.4,185.1L509.2,185.0L509.6,183.2L511.8,181.4L512.9,180.9L513.6,181.1L512.4,182.8L514.2,183.8L515.6,183.2L518.5,184.5L516.3,186.4L514.6,186.2L513.8,186.2L513.3,185.5L513.3,184.3L510.7,184.9L510.5,186.6L509.9,188.0L508.0,187.9L507.8,189.0L509.5,189.7L510.5,191.6L510.0,194.3L508.2,193.7L507.0,193.7Z" fill="#41ae76" fill-rule="evenodd" stroke="#66756c" stroke-width="0.32"/>
<path d="M514.6,186.2L516.3,186.4L518.5,184.5L515.6,183.2L514.2,183.8L512.4,182.8L513.6,181.1L512.9,180.9L513.0,179.7L514.3,179.4L518.1,180.3L517.9,178.7L518.9,178.2L522.3,179.3L522.9,179.0L526.5,179.1L529.7,179.3L531.1,180.3L532.5,180.7L532.5,181.3L529.6,182.7L529.2,183.7L526.6,184.0L526.3,185.7L523.9,185.3L522.6,185.8L520.9,187.1L521.4,187.7L521.0,188.3L517.0,188.7L514.1,187.8L511.8,188.0L511.6,186.5L514.1,186.9L514.6,186.2Z" fill="#66c2a4" fill-rule="evenodd" stroke="#66756c" stroke-width="0.32"/>
<path d="M532.5,180.7L531.8,179.2L533.0,178.5L529.4,174.0L533.1,173.0L534.0,172.4L533.6,167.8L538.0,168.6L538.7,167.5L537.6,164.9L539.2,164.6L540.0,163.0L540.6,162.7L542.0,164.5L544.4,165.9L547.7,166.8L550.1,168.9L550.7,171.9L551.9,173.0L554.6,173.5L557.6,173.8L560.8,175.5L562.2,175.8L564.3,178.1L566.2,179.7L568.5,179.6L573.2,180.2L575.8,179.9L578.1,180.2L581.9,181.8L584.5,181.8L585.8,182.6L587.6,181.2L590.6,180.3L593.7,180.2L595.8,179.3L596.6,177.9L597.6,177.0L596.8,176.2L595.6,175.2L595.8,173.5L597.1,173.8L599.5,174.3L600.8,172.9L603.5,171.9L604.0,170.2L605.0,169.5L607.8,169.1L609.6,169.4L609.3,168.5L606.3,166.7L604.2,165.9L603.2,166.8L600.9,166.4L600.0,166.7L598.8,165.7L598.7,163.2L598.4,161.2L601.5,162.2L603.3,160.6L602.5,159.5L602.4,156.8L603.0,156.0L601.9,154.6L600.4,154.0L601.1,152.7L603.2,152.3L605.8,152.2L609.3,153.0L611.8,153.9L614.9,156.4L616.5,157.5L618.4,159.1L620.9,161.6L625.0,162.4L628.7,164.2L631.2,166.6L634.3,166.6L635.3,165.6L638.2,164.8L638.7,167.1L638.6,168.1L639.7,170.9L640.0,173.4L637.2,173.0L636.0,173.9L637.9,176.1L639.5,179.2L638.4,179.2L639.3,180.5L637.0,179.0L637.0,180.5L634.4,181.6L635.5,183.0L633.6,182.9L632.1,182.0L631.7,183.9L630.1,185.3L629.2,187.0L626.6,187.7L625.6,189.0L623.6,189.7L624.2,188.5L623.3,187.4L624.1,185.7L622.2,184.3L620.9,185.3L619.3,187.1L618.8,188.8L616.8,188.9L616.2,190.1L618.2,191.9L620.2,192.3L620.8,193.5L622.8,194.2L624.4,192.4L626.8,193.4L628.3,193.5L629.2,194.8L626.5,195.6L626.1,197.0L624.5,198.3L624.1,200.1L628.9,204.2L631.2,206.6L633.4,208.6L632.9,211.3L634.0,212.7L635.5,213.5L635.9,215.6L635.9,217.7L634.7,218.0L633.9,220.8L632.8,222.8L633.0,224.3L631.6,227.4L629.0,229.8L626.2,232.1L623.7,232.3L622.5,233.5L621.6,232.7L620.5,234.0L617.6,235.3L615.2,235.7L614.4,236.0L615.1,238.6L613.7,238.6L613.0,235.7L611.1,235.2L608.9,235.3L606.5,234.6L605.3,233.5L605.4,232.0L603.2,231.5L601.9,230.6L600.2,232.0L598.0,232.3L596.3,232.2L595.1,232.9L594.0,233.3L594.8,236.3L593.6,236.2L593.3,235.6L593.1,234.5L591.5,235.3L590.4,234.8L588.6,233.8L588.9,231.6L587.4,231.1L586.4,228.7L584.1,229.1L583.8,226.0L585.5,223.8L585.2,221.6L584.7,219.6L583.5,219.0L582.4,217.4L581.2,217.6L578.6,217.2L579.1,216.1L577.7,214.5L576.3,215.6L574.3,215.0L572.1,216.6L570.5,218.6L568.8,218.9L567.6,218.2L566.4,218.2L564.7,217.5L563.6,218.2L562.5,220.2L561.9,218.1L560.7,218.6L558.0,218.4L555.3,217.8L553.3,216.6L551.4,216.1L550.4,214.9L549.1,214.5L546.4,212.7L544.5,212.0L543.7,212.6L540.1,210.7L537.6,209.1L536.3,206.2L538.0,206.5L537.7,205.2L536.5,203.8L536.1,201.7L533.0,198.6L529.1,197.5L527.9,195.5L525.9,194.3L525.3,193.5L524.6,192.1L524.4,191.0L522.9,190.4L522.3,190.7L521.0,188.3L521.4,187.7L520.9,187.1L522.6,185.8L523.9,185.3L526.3,185.7L526.6,184.0L529.2,183.7L529.6,182.7L532.5,181.3L532.5,180.7Z" fill="#41ae76" fill-rule="evenodd" stroke="#66756c" stroke-width="0.32"/>
<path d="M514.6,186.2L514.1,186.9L511.6,186.5L511.8,188.0L514.1,187.8L517.0,188.7L521.0,188.3L522.3,190.7L522.9,190.4L524.4,191.0L524.6,192.1L525.3,193.5L523.1,193.5L521.5,193.3L520.5,194.5L519.6,194.8L519.0,195.3L517.9,194.5L517.5,192.3L516.8,192.2L516.9,191.3L515.5,190.7L514.8,191.7L514.9,192.7L514.7,193.1L513.3,193.1L513.0,194.3L512.1,193.8L510.7,194.6L510.0,194.3L510.5,191.6L509.5,189.7L507.8,189.0L508.0,187.9L509.9,188.0L510.5,186.6L510.7,184.9L513.3,184.3L513.3,185.5L513.8,186.2L514.6,186.2Z" fill="#66c2a4" fill-rule="evenodd" stroke="#66756c" stroke-width="0.32"/>
<path d="M517.3,229.7L518.6,227.9L523.6,227.9L522.9,225.6L521.4,224.3L520.9,222.3L519.2,221.1L521.2,218.4L523.9,218.6L525.7,215.8L526.6,213.1L528.3,210.5L527.8,208.6L529.4,207.1L527.3,205.8L526.1,204.0L524.8,201.7L525.6,200.6L529.1,201.2L531.4,200.8L533.0,198.6L536.1,201.7L536.5,203.8L537.7,205.2L538.0,206.5L536.3,206.2L537.6,209.1L540.1,210.7L543.7,212.6L542.5,213.8L542.1,216.2L544.5,217.2L546.9,218.5L550.1,220.0L553.3,220.4L554.8,221.7L556.6,221.9L559.4,222.5L561.3,222.5L561.3,221.5L560.7,219.8L560.7,218.6L561.9,218.1L562.5,220.2L562.7,220.7L564.9,221.7L566.3,221.3L568.2,221.5L570.0,221.4L569.9,219.8L568.8,218.9L570.5,218.6L572.1,216.6L574.3,215.0L576.3,215.6L577.7,214.5L579.1,216.1L578.6,217.2L581.2,217.6L581.5,218.6L580.9,219.1L581.4,220.7L579.7,220.3L577.2,222.1L577.5,223.6L576.7,225.8L576.8,227.1L576.2,229.2L574.3,228.6L574.7,231.4L574.3,232.3L574.7,233.4L573.7,234.0L571.2,229.8L571.1,231.5L569.6,230.2L570.1,228.7L571.1,228.5L571.8,226.3L570.4,225.8L568.3,225.9L566.1,225.5L565.5,223.7L564.4,223.6L562.4,222.4L561.9,224.2L563.8,225.6L562.6,226.6L562.2,227.5L563.8,228.2L563.6,229.8L564.7,231.8L565.3,234.0L565.2,234.9L563.6,234.9L560.9,235.4L561.2,237.4L560.2,239.0L557.2,240.7L555.0,243.8L553.5,245.5L551.4,247.2L551.5,248.4L550.4,249.1L548.4,250.0L547.4,250.2L546.9,252.2L547.7,255.6L548.0,257.8L547.2,260.3L547.5,264.7L546.3,264.9L545.4,266.9L546.1,267.7L544.0,268.5L543.3,270.3L542.4,271.0L540.1,268.6L538.9,264.9L537.8,262.2L536.9,261.0L535.5,258.5L534.7,255.2L534.1,253.5L531.7,249.9L530.3,244.8L529.2,241.5L528.9,238.3L528.2,235.8L525.0,237.4L523.4,237.1L520.0,233.9L521.0,232.9L520.3,231.9L517.3,229.7Z" fill="#66c2a4" fill-rule="evenodd" stroke="#66756c" stroke-width="0.32"/>
<path d="M543.7,212.6L544.5,212.0L546.4,212.7L549.1,214.5L550.4,214.9L551.4,216.1L553.3,216.6L555.3,217.8L558.0,218.4L560.7,218.6L560.7,219.8L561.3,221.5L561.3,222.5L559.4,222.5L556.6,221.9L554.8,221.7L553.3,220.4L550.1,220.0L546.9,218.5L544.5,217.2L542.1,216.2L542.5,213.8L543.7,212.6Z" fill="#66c2a4" fill-rule="evenodd" stroke="#66756c" stroke-width="0.32"/>
<path d="M562.5,220.2L563.6,218.2L564.7,217.5L566.4,218.2L567.6,218.2L568.8,218.9L569.9,219.8L570.0,221.4L568.2,221.5L566.3,221.3L564.9,221.7L562.7,220.7L562.5,220.2Z" fill="#66c2a4" fill-rule="evenodd" stroke="#66756c" stroke-width="0.32"/>
<path d="M573.7,234.0L573.9,235.9L573.0,235.5L573.5,237.6L572.6,236.2L572.3,234.9L571.7,233.6L570.5,232.1L568.4,232.0L568.8,233.1L568.3,234.5L567.2,234.0L566.9,234.5L566.3,234.2L565.3,234.0L564.7,231.8L563.6,229.8L563.8,228.2L562.2,227.5L562.6,226.6L563.8,225.6L561.9,224.2L562.4,222.4L564.4,223.6L565.5,223.7L566.1,225.5L568.3,225.9L570.4,225.8L571.8,226.3L571.1,228.5L570.1,228.7L569.6,230.2L571.1,231.5L571.2,229.8L573.7,234.0Z" fill="#66c2a4" fill-rule="evenodd" stroke="#66756c" stroke-width="0.32"/>
<path d="M590.9,265.9L591.8,263.2L592.9,260.7L591.8,258.3L591.7,257.1L591.3,255.6L589.5,253.5L588.8,252.2L589.5,251.7L590.1,249.4L588.9,247.7L587.2,245.8L585.8,243.5L586.7,243.0L587.3,240.1L588.9,240.0L590.0,238.9L591.3,238.3L592.4,239.1L592.8,240.7L594.3,240.8L594.2,243.6L594.6,245.9L596.7,244.3L597.5,244.8L598.8,244.7L599.2,243.8L600.9,244.0L603.0,246.1L603.5,248.7L605.7,251.0L605.8,253.3L605.3,254.5L603.0,254.1L600.1,254.6L598.9,256.8L599.7,259.9L597.6,258.7L595.6,258.8L595.7,256.7L593.7,256.7L593.8,259.6L592.9,263.5L592.3,265.8L592.6,267.7L594.1,267.8L595.2,270.2L595.8,272.4L597.1,273.9L598.5,274.3L599.8,275.6L599.1,276.7L597.6,277.0L597.4,275.7L595.4,274.5L595.0,275.0L593.6,272.7L592.3,271.2L591.1,269.9L590.6,271.5L590.2,270.0L590.9,265.9Z" fill="#238b45" fill-rule="evenodd" stroke="#66756c" stroke-width="0.32"/>
<path d="M595.1,232.9L596.3,232.2L598.0,232.3L600.2,232.0L601.9,230.6L603.2,231.5L605.4,232.0L605.3,233.5L606.5,234.6L608.9,235.3L607.4,236.2L606.2,237.5L604.7,240.0L604.5,241.8L606.7,244.6L609.4,248.1L611.7,249.7L613.4,251.8L615.0,256.7L615.2,261.3L613.4,263.0L610.9,264.7L609.2,266.9L606.5,269.4L605.5,267.7L606.0,265.9L604.2,264.4L606.1,263.3L608.5,263.2L607.4,261.6L611.0,259.5L611.0,256.4L610.3,254.6L610.4,252.0L609.5,250.1L607.5,248.3L605.8,246.0L603.4,242.9L600.4,241.3L600.9,240.4L602.2,239.7L601.0,237.4L598.2,237.3L596.8,235.0L595.1,232.9Z" fill="#41ae76" fill-rule="evenodd" stroke="#66756c" stroke-width="0.32"/>
<path d="M595.0,275.0L595.4,274.5L597.4,275.7L597.6,277.0L599.1,276.7L599.8,275.6L600.4,275.9L601.8,277.5L602.9,279.2L602.9,282.2L603.2,284.7L604.2,285.4L605.2,287.7L605.1,288.6L603.5,288.8L601.2,286.8L598.4,284.7L598.1,283.4L596.7,281.6L596.3,279.4L595.4,278.0L595.0,275.0Z" fill="#238b45" fill-rule="evenodd" stroke="#66756c" stroke-width="0.32"/>
<path d="M598.4,161.2L598.7,163.2L598.8,165.7L600.0,166.7L600.9,166.4L603.2,166.8L604.2,165.9L606.3,166.7L609.3,168.5L609.6,169.4L607.8,169.1L605.0,169.5L604.0,170.2L603.5,171.9L600.8,172.9L599.5,174.3L597.1,173.8L595.8,173.5L595.6,175.2L596.8,176.2L597.6,177.0L596.6,177.9L595.8,179.3L593.7,180.2L590.6,180.3L587.6,181.2L585.8,182.6L584.5,181.8L581.9,181.8L578.1,180.2L575.8,179.9L573.2,180.2L568.5,179.6L566.2,179.7L564.3,178.1L562.2,175.8L560.8,175.5L557.6,173.8L554.6,173.5L551.9,173.0L550.7,171.9L550.1,168.9L547.7,166.8L544.4,165.9L542.0,164.5L540.6,162.7L542.6,162.3L545.3,160.1L547.8,158.9L549.9,159.7L552.1,159.7L554.1,160.9L556.1,161.0L559.4,161.6L560.4,159.9L558.7,158.4L559.3,155.8L562.1,156.8L564.1,157.1L566.9,157.7L568.4,159.6L571.9,160.7L573.5,160.2L575.8,159.9L578.1,160.3L580.8,161.5L582.8,162.8L584.6,162.8L587.4,163.2L588.9,162.5L591.4,162.1L593.2,160.3L594.6,160.6L596.2,161.4L598.4,161.2Z" fill="#41ae76" fill-rule="evenodd" stroke="#66756c" stroke-width="0.32"/>
<path d="M636.2,192.7L636.2,192.4L637.2,192.6L637.5,191.3L639.0,191.2L639.8,191.1L639.8,190.4L643.2,193.5L644.5,195.2L645.9,198.3L645.7,199.7L644.0,200.2L642.7,201.3L640.8,201.5L639.9,200.1L639.5,198.1L637.3,195.4L638.7,194.9L636.2,192.7Z" fill="#005824" fill-rule="evenodd" stroke="#66756c" stroke-width="0.32"/>
<path d="M617.7,286.7L618.2,288.5L619.8,290.0L621.3,289.4L622.8,289.6L624.1,288.3L625.2,288.1L627.5,288.8L629.3,288.2L630.4,284.6L631.3,283.7L632.0,280.7L634.7,280.7L636.7,281.1L635.5,283.5L637.3,286.0L636.9,287.2L639.5,289.6L636.8,289.9L636.0,291.7L636.1,294.1L633.8,295.9L633.7,298.5L632.7,302.6L632.4,301.6L629.7,302.8L628.8,301.2L627.2,301.1L626.0,300.2L623.2,301.2L622.4,299.9L620.9,300.0L619.0,299.7L618.7,296.2L617.6,295.4L616.5,293.2L616.2,290.9L616.4,288.5L617.7,286.7Z" fill="#66c2a4" fill-rule="evenodd" stroke="#66756c" stroke-width="0.32"/>
<path d="M636.7,281.1L634.7,280.7L632.0,280.7L631.3,283.7L630.4,284.6L629.3,288.2L627.5,288.8L625.2,288.1L624.1,288.3L622.8,289.6L621.3,289.4L619.8,290.0L618.2,288.5L617.7,286.7L619.5,287.6L621.3,287.1L621.7,284.9L622.7,284.4L625.4,283.8L627.0,281.8L628.1,280.1L629.0,279.1L630.9,277.7L632.6,275.8L633.6,273.8L634.6,273.8L635.8,275.1L636.0,276.2L637.6,277.0L639.5,277.8L639.4,278.8L637.9,278.9L638.4,280.2L636.7,281.1Z" fill="#238b45" fill-rule="evenodd" stroke="#66756c" stroke-width="0.32"/>
<path d="M223.2,106.2L223.3,107.5L226.3,105.8L231.0,105.0L232.0,107.1L230.6,108.5L234.4,107.9L236.6,107.1L239.3,108.2L240.8,109.2L240.4,110.1L243.8,109.6L244.6,111.0L248.0,111.8L248.9,112.7L249.2,114.8L245.5,115.8L248.7,117.3L251.1,117.8L252.5,119.9L255.1,120.0L253.8,121.6L249.3,124.3L247.6,123.3L246.1,121.1L243.6,121.4L242.7,122.7L243.8,124.0L245.7,125.1L246.1,125.7L246.0,128.1L244.6,129.7L242.6,129.1L239.1,127.2L240.6,129.3L241.7,130.7L241.6,131.5L237.1,130.6L234.0,129.2L232.4,128.0L233.4,127.4L231.5,126.2L229.5,125.0L229.2,125.7L223.8,126.1L222.8,125.3L225.0,123.6L228.4,123.5L232.2,123.3L232.1,122.4L233.4,121.3L237.0,119.1L237.1,118.1L236.9,117.3L235.0,116.2L232.0,115.5L233.5,114.9L232.7,113.5L231.3,113.4L230.5,112.6L229.1,113.3L225.9,113.6L220.2,113.1L217.1,112.4L214.7,112.1L214.0,111.3L216.5,110.3L214.2,110.3L215.5,108.2L218.5,106.3L220.9,105.4L225.5,104.9Z" fill="#005824" stroke="#66756c" stroke-width="0.32"/>
<path d="M177.5,105.9L178.7,106.3L176.7,107.3L181.1,106.6L182.1,107.7L185.1,106.6L185.8,107.3L185.0,109.4L186.7,108.5L187.9,106.3L189.6,106.0L190.9,106.4L191.8,107.2L190.7,109.3L189.7,110.8L191.4,111.9L193.4,113.0L192.4,113.9L189.4,114.1L189.7,115.0L188.4,115.8L185.7,115.4L183.3,114.8L181.2,115.0L177.3,115.7L172.7,116.0L169.5,116.2L169.6,115.2L167.9,114.6L166.1,114.8L165.9,113.1L167.3,112.9L170.3,112.5L172.5,112.6L175.1,112.2L172.4,111.7L168.7,111.9L166.4,111.8L166.4,111.0L171.2,110.2L168.6,110.2L166.3,109.6L169.6,108.0L171.7,107.1Z" fill="#005824" stroke="#66756c" stroke-width="0.32"/>
<path d="M156.4,108.9L158.2,108.0L161.3,106.5L164.4,105.1L164.5,103.8L170.3,103.5L172.0,103.9L175.9,104.0L176.8,104.6L177.4,105.5L174.7,106.1L169.0,107.6L165.3,109.1L164.2,110.0L158.6,111.0L158.9,110.1Z" fill="#005824" stroke="#66756c" stroke-width="0.32"/>
<path d="M198.8,100.4L197.8,101.4L195.7,102.4L190.0,102.7L185.0,103.6L182.5,103.6L183.1,102.9L187.5,102.1L180.1,102.3L178.4,101.9L183.2,99.9L185.5,99.4L188.9,100.1L190.1,101.3L192.6,101.4L192.9,99.5L195.2,98.8L196.5,99.0L195.8,99.9L195.5,100.6L197.3,100.3Z" fill="#005824" stroke="#66756c" stroke-width="0.32"/>
<path d="M202.5,104.8L203.9,105.2L207.0,104.9L206.8,105.5L204.3,106.6L205.9,107.5L203.8,109.4L200.3,110.2L198.9,110.0L198.6,109.2L196.1,107.6L196.8,106.9L199.9,107.1L199.5,105.8Z" fill="#005824" stroke="#66756c" stroke-width="0.32"/>
<path d="M211.7,107.0L208.5,108.6L206.7,108.5L207.5,106.7L208.5,105.6L210.2,104.7L212.4,104.2L215.6,104.2L218.2,104.7L214.1,106.6Z" fill="#005824" stroke="#66756c" stroke-width="0.32"/>
<path d="M194.2,114.3L196.3,113.6L198.3,112.7L199.5,113.3L200.2,113.7L200.3,114.1L200.6,115.0L198.9,115.8L197.2,115.1L195.6,115.3Z" fill="#005824" stroke="#66756c" stroke-width="0.32"/>
<path d="M212.8,122.8L212.4,123.8L213.5,123.4L214.2,124.0L215.6,124.8L217.1,125.5L216.6,126.7L218.0,126.5L218.8,127.3L216.7,128.0L214.3,127.4L214.0,126.4L211.4,127.6L208.0,128.8L208.3,127.5L205.7,127.7L208.1,126.5L209.5,124.7L211.6,122.6Z" fill="#005824" stroke="#66756c" stroke-width="0.32"/>
<path d="M215.6,102.4L213.9,103.2L211.8,103.1L210.4,102.5L212.3,101.6L215.1,101.1L215.7,101.8Z" fill="#005824" stroke="#66756c" stroke-width="0.32"/>
<path d="M217.2,102.7L217.8,101.6L218.7,100.6L218.1,99.7L215.2,99.5L214.1,98.8L215.7,98.0L218.7,98.1L219.6,98.8L222.6,98.8L223.2,99.4L222.0,100.2L223.3,100.6L223.8,101.1L225.8,101.2L227.9,101.4L230.8,101.0L234.1,100.8L236.5,100.9L237.5,101.7L237.1,102.5L235.6,103.1L232.9,103.5L231.1,103.3L226.3,103.6L223.0,103.6L220.7,103.4Z" fill="#005824" stroke="#66756c" stroke-width="0.32"/>
<path d="M268.3,87.5L271.8,87.7L274.6,87.9L276.7,88.3L276.3,88.7L272.2,89.4L268.5,89.7L266.9,90.1L270.0,90.1L265.7,91.1L262.9,91.6L259.1,93.0L255.8,93.3L254.5,93.7L249.9,93.9L251.7,94.1L250.3,94.4L250.6,95.3L248.6,96.0L245.7,96.6L244.2,97.3L241.5,97.9L241.3,98.4L244.0,98.3L243.6,98.8L238.3,100.0L234.8,99.4L230.0,99.7L228.0,99.5L225.2,99.4L226.0,98.4L229.3,98.0L230.2,96.6L231.2,96.4L234.3,97.3L233.6,96.0L231.6,95.7L233.7,94.9L236.8,94.5L237.9,93.8L236.7,93.1L237.1,92.2L241.0,92.3L241.9,92.5L244.8,91.9L241.9,91.7L236.7,91.8L234.9,91.2L234.6,90.5L233.5,90.0L233.9,89.5L236.5,89.1L238.2,89.1L241.2,88.8L244.0,88.2L245.6,88.3L246.6,88.8L248.7,87.9L250.8,87.7L253.5,87.5L257.7,87.4L258.3,87.6L262.5,87.3L265.4,87.4Z" fill="#005824" stroke="#66756c" stroke-width="0.32"/>
<path d="M224.8,91.6L226.5,91.1L228.1,91.0L228.0,90.6L231.4,90.5L232.1,91.4L234.0,91.8L236.0,92.1L235.8,93.3L236.9,93.8L234.2,94.4L229.9,95.8L227.1,95.9L224.3,95.7L223.6,94.9L224.5,94.3L226.2,93.8L223.5,93.8L222.7,93.2L222.8,92.4Z" fill="#005824" stroke="#66756c" stroke-width="0.32"/>
<path d="M187.6,97.0L185.2,98.6L183.0,99.3L181.4,99.4L177.3,100.2L174.4,100.5L173.0,100.1L177.8,98.6L182.8,97.3L185.1,97.3Z" fill="#005824" stroke="#66756c" stroke-width="0.32"/>
<path d="M212.0,98.9L212.0,99.8L210.9,100.9L208.5,102.4L205.7,102.6L204.4,102.3L205.7,101.1L203.0,101.2L204.8,99.7L206.4,99.7L209.5,99.0L211.5,99.2Z" fill="#005824" stroke="#66756c" stroke-width="0.32"/>
<path d="M213.5,95.7L213.1,96.5L210.9,96.3L209.3,95.7L206.1,95.6L208.3,95.1L207.1,94.6L208.0,93.9L210.5,94.2L213.6,94.8Z" fill="#005824" stroke="#66756c" stroke-width="0.32"/>
<path d="M220.9,97.3L220.2,97.4L217.5,97.2L217.7,96.7L220.8,96.7L221.4,97.1Z" fill="#005824" stroke="#66756c" stroke-width="0.32"/>
<path d="M196.8,96.9L193.2,97.5L191.8,96.9L193.9,96.3L196.4,96.1L198.1,96.4Z" fill="#005824" stroke="#66756c" stroke-width="0.32"/>
<path d="M200.0,95.2L197.7,95.6L195.2,95.6L195.6,95.3L198.0,94.7L198.6,94.8Z" fill="#005824" stroke="#66756c" stroke-width="0.32"/>
<path d="M251.1,157.6L249.5,159.2L247.4,161.4L249.0,160.6L250.2,161.1L249.2,162.0L250.8,162.7L252.0,162.1L253.7,162.9L252.6,164.7L254.1,164.3L254.0,165.6L254.2,167.2L252.7,169.5L251.8,169.6L250.5,169.1L251.6,167.0L251.1,166.7L248.1,168.9L246.9,168.8L248.7,167.6L246.9,167.0L244.6,167.2L240.6,167.1L240.6,166.3L242.1,165.4L241.5,164.7L243.7,163.2L247.0,159.1L248.8,157.7L250.8,156.8L251.7,156.9Z" fill="#005824" stroke="#66756c" stroke-width="0.32"/>
<path d="M104.4,159.0L106.1,159.5L107.0,159.9L108.7,160.2L109.0,162.3L110.3,163.3L110.2,164.7L108.9,165.1L106.3,163.9L106.3,163.0L105.1,162.1L105.3,161.4L103.5,161.0L103.8,159.6Z" fill="#005824" stroke="#66756c" stroke-width="0.32"/>
<path d="M101.6,150.4L102.3,150.8L104.3,150.6L101.4,153.4L101.5,155.4L100.7,155.4L100.4,154.3L100.6,153.1L100.3,152.3L100.8,151.2Z" fill="#005824" stroke="#66756c" stroke-width="0.32"/>
<path d="M72.0,141.0L73.1,141.2L73.1,142.0L70.2,143.1L67.3,144.1L67.0,143.4L67.9,142.3L70.6,141.4Z" fill="#005824" stroke="#66756c" stroke-width="0.32"/>
<path d="M54.7,127.1L55.2,127.6L56.6,127.3L57.2,128.0L58.6,128.3L58.1,128.5L56.1,129.0L55.4,128.5L55.3,128.1L53.5,128.2L53.4,128.0Z" fill="#005824" stroke="#66756c" stroke-width="0.32"/>
<path d="M53.9,135.2L55.1,135.4L54.2,136.3L52.5,136.7L51.9,136.3L51.5,135.6Z" fill="#005824" stroke="#66756c" stroke-width="0.32"/>
<path d="M231.9,161.3L232.6,161.0L235.1,161.7L236.8,162.8L236.7,163.2L235.7,163.3L233.3,162.5Z" fill="#005824" stroke="#66756c" stroke-width="0.32"/>
<path d="M230.4,168.5L230.8,169.8L232.1,170.1L234.1,170.1L232.7,171.1L231.9,171.3L229.6,170.2L229.4,169.3Z" fill="#005824" stroke="#66756c" stroke-width="0.32"/>
<path d="M297.6,88.3L302.9,87.3L307.6,87.4L309.7,86.9L314.6,86.7L325.4,86.9L333.6,88.1L330.8,88.7L325.5,88.8L317.9,89.0L318.5,89.2L323.5,89.1L327.5,89.6L330.4,89.1L331.4,89.7L329.5,90.7L333.3,90.1L340.3,89.4L344.4,89.7L345.1,90.4L339.0,91.7L338.2,92.0L333.5,92.3L336.8,92.4L334.8,93.7L333.3,94.9L332.8,97.1L334.3,98.4L331.9,98.5L329.2,99.1L331.8,100.1L331.8,101.9L330.1,102.1L331.7,103.8L328.2,104.0L329.8,104.8L329.1,105.6L326.8,105.9L324.6,105.9L326.3,107.3L326.1,108.3L323.1,107.4L322.1,108.0L324.2,108.5L326.0,109.8L326.3,111.6L323.2,112.0L322.1,111.1L320.4,109.9L320.6,111.4L318.4,112.5L322.8,112.6L325.1,112.7L320.1,114.6L315.1,116.4L309.9,117.2L308.0,117.2L306.0,118.0L303.0,120.4L298.7,122.0L297.5,122.1L295.0,122.7L292.3,123.2L290.3,124.7L289.8,126.3L288.4,127.8L284.8,129.7L284.9,131.6L283.5,133.6L281.8,135.9L279.1,136.0L277.0,134.1L273.4,134.1L272.1,132.7L271.7,130.4L269.7,127.5L269.4,126.0L270.1,123.9L268.6,121.8L269.9,120.1L269.1,119.3L272.0,116.6L274.9,115.8L276.0,114.9L277.2,113.2L274.9,114.0L273.8,114.3L272.2,114.6L270.5,113.9L271.1,112.4L272.3,111.2L273.9,111.2L277.0,111.8L274.8,110.4L273.7,109.6L271.9,109.9L270.8,109.4L273.7,107.4L273.2,106.6L272.7,105.2L272.1,103.0L270.6,102.2L271.2,101.3L267.9,100.1L264.8,100.0L260.6,100.1L256.7,100.2L255.4,99.6L253.9,98.3L258.4,97.7L261.5,97.6L255.5,97.1L252.8,96.3L253.8,95.5L260.2,94.6L266.4,93.7L267.5,93.1L264.2,92.4L266.1,91.8L272.1,90.6L274.3,90.4L274.4,89.6L278.1,89.2L282.6,89.0L286.9,89.0L288.0,89.5L292.4,88.6L295.3,89.2L297.2,89.3L299.7,89.8L297.0,89.0Z" fill="url(#hatch)" stroke="#c4c4c4" stroke-width="0.5"/>
<path d="M175.3,231.0L177.2,231.2L179.0,231.2L181.0,232.1L181.8,233.1L183.9,232.8L184.7,233.4L186.4,235.0L187.7,236.2L188.5,236.2L189.8,236.7L189.5,237.4L191.2,237.6L192.8,238.6L192.4,239.2L190.9,239.6L189.3,239.7L187.8,239.5L184.5,239.7L186.2,238.3L185.3,237.6L183.9,237.4L183.2,236.7L182.8,235.2L181.5,235.3L179.5,234.6L178.8,234.0L175.9,233.6L175.2,233.1L176.1,232.4L173.9,232.3L172.1,233.7L171.2,233.7L170.8,234.3L169.6,234.6L168.7,234.4L169.9,233.6L170.6,232.6L171.7,232.0L172.9,231.5L174.7,231.3Z" fill="url(#hatch)" stroke="#c4c4c4" stroke-width="0.5"/>
<path d="M194.9,239.6L196.3,239.7L198.3,240.1L198.3,241.6L198.0,242.6L197.4,243.0L197.9,243.8L197.8,244.5L196.3,244.1L195.2,244.2L193.9,244.1L192.7,244.6L191.6,243.7L191.9,242.9L193.9,243.2L195.7,243.5L196.6,242.9L195.6,241.7L195.8,240.7L194.3,240.3Z" fill="url(#hatch)" stroke="#c4c4c4" stroke-width="0.5"/>
<path d="M198.3,240.1L198.6,239.7L200.4,239.7L201.7,240.4L202.3,240.3L202.6,241.2L203.9,241.2L203.7,242.0L204.7,242.1L205.7,243.0L204.8,244.1L203.8,243.5L202.7,243.6L201.9,243.5L201.5,244.0L200.6,244.2L200.3,243.5L199.5,243.9L198.4,245.7L197.8,245.3L197.8,244.5L197.9,243.8L197.4,243.0L198.0,242.6L198.3,241.6Z" fill="#238b45" stroke="#66756c" stroke-width="0.32"/>
<path d="M184.5,243.3L186.0,243.6L187.1,244.2L187.5,244.9L185.8,245.0L185.1,245.4L183.8,245.0L182.6,244.0L183.0,243.5L184.0,243.3Z" fill="#41ae76" stroke="#66756c" stroke-width="0.32"/>
<path d="M210.4,243.3L211.5,243.5L211.9,244.0L211.2,244.7L209.5,244.7L208.2,244.8L208.1,243.7L208.5,243.3Z" fill="url(#hatch)" stroke="#c4c4c4" stroke-width="0.5"/>
<path d="M186.2,229.5L185.6,229.6L185.3,228.1L184.5,227.3L185.3,225.7L186.0,225.8L186.4,228.0Z" fill="url(#hatch)" stroke="#c4c4c4" stroke-width="0.5"/>
<path d="M186.7,222.1L184.2,222.5L184.2,221.5L185.3,221.3L186.8,221.4Z" fill="url(#hatch)" stroke="#c4c4c4" stroke-width="0.5"/>
<path d="M188.6,222.0L187.9,223.9L187.5,223.6L187.8,222.2L186.9,221.1L187.0,220.9Z" fill="url(#hatch)" stroke="#c4c4c4" stroke-width="0.5"/>
<path d="M219.5,263.7L220.9,263.3L221.3,263.4L221.1,265.4L219.2,265.7L218.8,265.5L219.5,264.7Z" fill="url(#hatch)" stroke="#c4c4c4" stroke-width="0.5"/>
<path d="M226.4,429.7L227.6,430.9L229.4,432.8L232.6,434.3L235.6,434.9L235.2,436.1L233.4,436.3L232.1,435.4L230.9,435.3L228.8,435.3Z" fill="url(#hatch)" stroke="#c4c4c4" stroke-width="0.5"/>
<path d="M226.4,429.7L228.8,435.3L230.9,435.3L232.1,435.4L231.9,436.4L230.5,437.2L229.6,437.1L228.3,436.9L226.6,436.1L224.4,435.8L221.3,434.4L218.6,433.0L214.6,430.2L216.5,430.8L220.1,432.4L223.0,433.3L223.6,432.2L223.4,430.5L224.8,429.4Z" fill="#238b45" stroke="#66756c" stroke-width="0.32"/>
<path d="M6.0,241.8L5.6,242.2L5.1,241.8L5.3,241.1L5.2,240.2L5.4,239.9L5.9,239.4L5.8,238.9L6.0,238.7L6.2,238.7L6.9,239.2L7.3,239.4L7.6,239.7L7.9,240.7L7.9,240.8L6.8,241.4Z" fill="#005824" stroke="#66756c" stroke-width="0.32"/>
<path d="M6.0,237.4L4.9,237.9L4.4,237.1L4.9,236.6L5.6,236.9Z" fill="#005824" stroke="#66756c" stroke-width="0.32"/>
<path d="M4.5,236.3L3.2,236.5L3.4,236.2L4.4,236.2Z" fill="#005824" stroke="#66756c" stroke-width="0.32"/>
<path d="M2.6,236.0L1.5,236.0L1.3,235.3L2.1,234.9L2.5,235.6Z" fill="#005824" stroke="#66756c" stroke-width="0.32"/>
<path d="M-0.9,234.4L-1.8,234.1L-1.3,233.5L-0.7,233.7Z" fill="#005824" stroke="#66756c" stroke-width="0.32"/>
<path d="M220.2,246.9L220.6,247.1L220.2,247.3Z" fill="url(#hatch)" stroke="#c4c4c4" stroke-width="0.5"/>
<path d="M220.4,249.0L221.5,249.1L220.7,250.0L220.1,249.6Z" fill="url(#hatch)" stroke="#c4c4c4" stroke-width="0.5"/>
<path d="M220.8,251.0L221.2,251.5L221.0,252.0Z" fill="url(#hatch)" stroke="#c4c4c4" stroke-width="0.5"/>
<path d="M221.3,252.9L222.0,253.6L221.5,254.1Z" fill="url(#hatch)" stroke="#c4c4c4" stroke-width="0.5"/>
<path d="M221.5,255.0L221.8,255.4L221.4,255.8Z" fill="url(#hatch)" stroke="#c4c4c4" stroke-width="0.5"/>
<path d="M220.9,256.9L221.2,257.3L220.8,257.5Z" fill="url(#hatch)" stroke="#c4c4c4" stroke-width="0.5"/>
<path d="M224.6,257.0L225.0,257.4L224.6,257.7Z" fill="url(#hatch)" stroke="#c4c4c4" stroke-width="0.5"/>
<path d="M219.5,259.9L219.9,260.2L219.5,260.4Z" fill="url(#hatch)" stroke="#c4c4c4" stroke-width="0.5"/>
<path d="M229.1,118.4L231.2,119.0L233.3,117.7L231.8,116.8L230.0,117.2Z" fill="#005824" stroke="#66756c" stroke-width="0.32"/>
<path d="M212.3,129.2L214.4,129.1L213.7,129.9L211.1,130.9L210.6,130.1Z" fill="#005824" stroke="#66756c" stroke-width="0.32"/>
<path d="M216.5,130.4L217.7,130.4L217.4,131.6L216.0,132.3L215.7,131.6Z" fill="#005824" stroke="#66756c" stroke-width="0.32"/>
<path d="M356.7,139.4L354.7,142.1L356.6,141.7L358.7,141.8L358.2,143.7L356.4,146.0L358.4,146.1L360.2,149.3L361.6,149.7L362.8,152.5L363.3,153.5L365.7,154.0L365.5,155.6L364.5,156.4L365.3,157.7L363.5,159.0L360.8,159.0L357.4,159.7L356.4,159.2L355.1,160.4L353.2,160.1L351.8,161.0L350.7,160.5L353.8,157.9L355.6,157.3L352.4,156.9L351.9,155.9L354.0,155.1L353.0,153.8L353.4,152.1L356.3,152.4L356.6,150.9L355.3,149.3L353.0,148.9L352.5,148.2L353.3,147.1L352.6,146.4L351.6,147.6L351.5,145.2L350.6,143.9L351.4,141.4L353.0,139.4L354.5,139.6Z" fill="#005824" stroke="#66756c" stroke-width="0.32"/>
<path d="M350.2,151.2L350.5,153.0L348.9,155.2L345.3,156.7L342.5,156.3L344.3,153.7L343.4,151.2L346.2,149.2L347.7,148.0L349.3,147.9L351.4,149.5Z" fill="#005824" stroke="#66756c" stroke-width="0.32"/>
<path d="M337.1,120.9L336.5,122.4L338.4,124.0L335.8,125.8L330.5,127.4L328.9,127.8L326.6,127.5L321.7,126.7L323.6,125.7L320.0,124.6L323.2,124.1L323.2,123.4L319.6,122.9L321.1,121.4L323.8,121.1L326.3,122.6L329.1,121.4L331.2,122.0L334.3,120.8Z" fill="#005824" stroke="#66756c" stroke-width="0.32"/>
<path d="M384.4,93.2L384.9,92.6L387.0,92.6L388.9,93.2L394.1,94.5L390.6,95.3L390.1,96.7L388.9,97.1L388.5,98.7L386.7,98.8L383.2,97.6L384.4,96.9L382.1,96.3L378.9,94.7L377.6,93.3L381.5,92.6L382.4,93.3Z" fill="#005824" stroke="#66756c" stroke-width="0.32"/>
<path d="M402.0,92.6L400.2,93.5L396.0,93.7L391.7,93.4L391.3,92.9L389.2,92.9L387.4,92.1L391.7,91.6L393.9,92.0L395.2,91.5L399.0,91.9Z" fill="#005824" stroke="#66756c" stroke-width="0.32"/>
<path d="M399.5,96.7L396.3,97.5L393.6,97.0L394.5,96.5L393.4,95.9L396.4,95.5L397.2,96.2Z" fill="#005824" stroke="#66756c" stroke-width="0.32"/>
<path d="M446.4,108.6L447.8,108.2L447.2,107.0L449.4,105.2L447.8,105.0L450.5,103.1L449.5,102.2L452.3,101.1L456.5,99.8L461.3,99.5L463.4,98.7L466.1,98.5L467.9,99.3L467.3,99.9L462.6,100.9L458.6,101.8L455.0,103.8L453.9,105.8L452.5,107.9L453.7,109.7L457.9,111.4L457.0,111.6L451.4,111.3L450.5,110.4L447.2,109.8Z" fill="#238b45" stroke="#66756c" stroke-width="0.32"/>
<path d="M509.7,94.7L506.8,94.9L502.0,94.4L498.7,93.7L496.0,92.4L493.6,92.1L495.8,90.9L498.4,90.5L502.3,91.4L507.9,93.0Z" fill="#238b45" stroke="#66756c" stroke-width="0.32"/>
<path d="M513.0,93.9L518.2,95.0L518.8,95.8L511.3,96.5L510.8,94.0L511.7,93.8Z" fill="#238b45" stroke="#66756c" stroke-width="0.32"/>
<path d="M576.4,100.1L580.6,100.2L588.0,101.2L589.2,102.7L583.4,102.7L581.5,103.2L576.4,101.8L575.0,100.4Z" fill="#238b45" stroke="#66756c" stroke-width="0.32"/>
<path d="M590.9,102.0L593.6,101.7L598.5,102.2L598.0,103.0L595.2,102.8Z" fill="#238b45" stroke="#66756c" stroke-width="0.32"/>
<path d="M588.7,104.7L592.2,105.5L593.2,106.1L590.8,106.1L587.2,105.9L586.7,105.8L587.0,104.9Z" fill="#238b45" stroke="#66756c" stroke-width="0.32"/>
<path d="M658.1,109.7L660.6,111.2L659.0,111.3L657.6,110.6Z" fill="#238b45" stroke="#66756c" stroke-width="0.32"/>
<path d="M66.7,109.7L67.1,109.6L69.8,110.2L69.1,110.5L66.5,111.1L64.2,111.2Z" fill="#238b45" stroke="#66756c" stroke-width="0.32"/>
<path d="M43.8,124.3L46.2,123.4L47.0,122.3L49.9,121.7L48.3,122.6L48.1,123.4L50.5,123.1L51.8,123.5L50.8,124.5L52.2,125.2L52.4,126.0L53.9,126.0L55.3,125.5L58.5,123.3L61.7,123.1L64.9,122.0L64.4,119.9L60.2,119.6L58.3,121.2L57.9,120.7L60.1,119.2L58.9,117.0L57.4,115.3Z" fill="#238b45" stroke="#66756c" stroke-width="0.32"/>
<path d="M651.2,159.0L656.9,163.5L653.2,162.7L654.8,166.4L658.7,169.0L659.9,170.8L657.2,169.3L657.3,171.3L655.4,169.1L653.8,166.6L651.5,163.9L650.5,161.9L647.9,158.5L644.6,156.0L641.8,152.6L642.6,151.5L640.7,150.3L641.3,149.9L643.3,151.6L646.1,154.0L648.3,156.5Z" fill="#238b45" stroke="#66756c" stroke-width="0.32"/>
<path d="M664.3,175.9L666.1,176.5L666.9,175.4L669.3,178.3L666.7,179.0L666.5,181.6L662.0,179.8L662.7,182.7L660.4,182.7L658.4,180.1L658.2,178.1L660.3,178.0L658.5,174.4L657.8,172.4L662.1,175.1Z" fill="#238b45" stroke="#66756c" stroke-width="0.32"/>
<path d="M668.2,188.9L667.7,191.6L669.1,194.3L669.4,196.4L670.4,197.7L670.2,199.5L668.0,200.8L664.2,200.9L662.4,204.0L660.4,202.9L659.5,201.0L655.9,201.5L653.9,202.8L651.3,202.8L652.3,200.6L653.1,198.8L657.1,198.0L659.7,198.5L659.7,193.9L661.7,195.1L663.6,192.5L664.3,191.5L663.9,188.3L661.8,185.3L661.7,183.7L663.7,183.2L667.0,186.8Z" fill="#238b45" stroke="#66756c" stroke-width="0.32"/>
<path d="M654.3,204.8L654.6,209.2L653.6,210.4L652.2,209.3L651.8,207.0L650.1,206.2L648.5,204.4L650.2,203.6L651.0,202.8L652.6,203.3Z" fill="#238b45" stroke="#66756c" stroke-width="0.32"/>
<path d="M659.0,202.1L659.7,203.0L659.2,204.6L657.9,203.8L657.0,204.4L657.1,206.0L655.3,205.2L654.8,204.0L655.3,202.4L656.7,202.7L657.2,201.6Z" fill="#238b45" stroke="#66756c" stroke-width="0.32"/>
<path d="M638.8,227.8L638.3,232.0L637.7,234.2L636.1,232.0L635.4,230.0L636.2,227.4L637.6,225.4L638.8,226.2Z" fill="#005824" stroke="#66756c" stroke-width="0.32"/>
<path d="M615.4,242.8L613.6,244.1L611.6,243.3L611.2,241.0L612.1,239.8L614.5,239.1L615.8,239.2L616.5,240.2L615.7,241.3Z" fill="#41ae76" stroke="#66756c" stroke-width="0.32"/>
<path d="M552.4,272.2L552.1,274.9L551.2,275.7L549.2,276.3L548.0,274.2L547.4,270.4L548.3,266.2L549.9,267.6L551.1,269.5Z" fill="#66c2a4" stroke="#66756c" stroke-width="0.32"/>
<path d="M640.7,243.3L642.2,244.1L642.8,243.4L643.1,244.1L642.9,245.1L644.1,247.0L643.8,249.2L642.6,250.1L642.5,252.2L643.3,254.3L644.6,254.6L645.6,254.3L648.7,255.7L648.6,257.2L649.4,257.8L649.4,259.0L647.4,257.7L646.4,256.3L645.9,257.3L644.2,255.7L642.2,256.1L641.0,255.5L640.9,254.5L641.6,253.8L640.8,253.2L640.6,254.1L639.3,252.6L638.8,251.5L638.3,249.0L639.4,249.8L638.9,245.7L639.3,243.3Z" fill="#66c2a4" stroke="#66756c" stroke-width="0.32"/>
<path d="M655.8,269.9L656.1,271.6L656.4,273.1L655.7,275.5L654.7,272.8L653.7,274.1L654.6,276.1L654.0,277.3L651.2,275.8L650.4,273.9L651.0,272.6L649.5,271.4L648.8,272.5L647.7,272.4L646.1,273.8L645.6,273.1L646.4,270.9L647.8,270.1L649.0,269.1L649.9,270.3L651.6,269.6L651.9,268.4L653.5,268.3L653.2,266.3L655.2,267.6L655.5,268.9Z" fill="#66c2a4" stroke="#66756c" stroke-width="0.32"/>
<path d="M652.0,259.0L652.8,260.0L653.7,262.9L651.9,262.2L652.0,263.1L652.8,264.7L651.7,265.3L651.4,263.5L650.7,263.3L650.2,261.7L651.6,262.0L651.4,261.0L649.8,259.0Z" fill="#66c2a4" stroke="#66756c" stroke-width="0.32"/>
<path d="M647.4,261.5L647.5,262.6L646.5,263.7L645.1,264.5L644.9,263.3L645.0,262.0L644.5,260.7L645.9,261.5Z" fill="#66c2a4" stroke="#66756c" stroke-width="0.32"/>
<path d="M649.8,265.0L649.0,265.8L648.4,267.5L647.8,268.3L646.2,266.5L646.6,265.7L647.1,265.0L647.2,263.4L648.5,263.2L648.3,265.0L649.7,262.5Z" fill="#66c2a4" stroke="#66756c" stroke-width="0.32"/>
<path d="M639.1,262.1L639.8,264.2L638.4,265.7L637.3,267.5L634.4,270.0L635.4,268.1L637.0,266.5L638.2,264.7Z" fill="#66c2a4" stroke="#66756c" stroke-width="0.32"/>
<path d="M643.3,257.6L642.9,259.9L641.8,258.6L640.4,256.6L642.4,256.7Z" fill="#66c2a4" stroke="#66756c" stroke-width="0.32"/>
<path d="M584.0,277.6L589.1,278.2L591.3,280.8L593.1,282.6L594.4,283.7L596.7,286.5L599.1,286.5L601.1,288.3L602.5,290.5L604.3,291.7L603.3,293.9L604.6,294.8L605.5,294.8L605.8,296.7L606.6,298.2L608.3,298.4L609.4,300.1L608.7,303.3L608.4,307.4L605.8,307.4L604.0,305.3L601.1,303.1L600.2,301.5L598.5,299.4L597.3,297.4L595.6,293.7L593.6,291.5L592.9,289.3L592.0,287.2L589.9,285.6L588.6,283.3L586.8,281.8L584.2,278.9Z" fill="#66c2a4" stroke="#66756c" stroke-width="0.32"/>
<path d="M609.0,307.5L611.8,307.7L613.6,308.7L614.6,308.9L614.8,309.8L619.3,310.1L619.8,309.0L624.1,310.3L624.8,312.0L628.3,312.5L631.0,314.0L628.3,315.0L625.8,314.0L623.7,314.1L621.3,313.8L619.2,313.4L616.5,312.4L614.8,312.1L613.9,312.4L609.7,311.3L609.3,310.2L607.2,310.0Z" fill="#66c2a4" stroke="#66756c" stroke-width="0.32"/>
<path d="M654.1,288.3L652.2,290.9L650.5,291.4L648.2,290.9L644.4,291.0L642.3,291.4L642.0,293.4L644.0,295.7L645.3,294.5L649.7,293.6L649.5,294.8L648.4,294.4L647.4,296.0L645.3,297.0L647.4,300.4L647.0,301.3L648.9,304.3L648.8,306.1L647.5,306.8L646.7,305.9L647.9,303.7L645.6,304.8L645.0,304.0L645.4,303.0L643.8,301.5L644.0,298.9L642.5,299.7L642.4,306.6L641.0,306.9L640.0,306.2L640.8,303.7L640.5,301.2L639.5,301.2L638.9,299.4L639.9,297.7L640.3,295.6L641.5,291.6L642.0,290.5L643.9,288.6L645.8,289.3L648.7,289.7L651.4,289.6L653.7,287.7Z" fill="#66c2a4" stroke="#66756c" stroke-width="0.32"/>
<path d="M636.1,313.3L636.9,314.0L638.4,313.8L638.9,314.9L636.1,315.4L634.5,315.8L633.3,315.8L634.2,314.3L635.4,314.2Z" fill="#66c2a4" stroke="#66756c" stroke-width="0.32"/>
<path d="M631.7,313.8L633.2,314.0L632.9,315.3L631.6,315.3Z" fill="#66c2a4" stroke="#66756c" stroke-width="0.32"/>
<path d="M647.8,313.3L647.3,314.8L643.8,315.5L640.7,315.2L640.8,314.2L642.7,313.7L644.0,314.5L645.6,314.3Z" fill="#66c2a4" stroke="#66756c" stroke-width="0.32"/>
<path d="M642.4,318.2L641.2,319.0L638.3,317.2L640.5,316.6L641.7,317.4Z" fill="#66c2a4" stroke="#66756c" stroke-width="0.32"/>
<path d="M662.1,289.0L662.0,291.3L660.8,291.1L660.5,292.7L661.4,294.1L660.7,294.4L659.8,292.7L659.1,289.3L659.5,287.2L660.3,286.3L660.5,287.7L661.9,287.9Z" fill="#66c2a4" stroke="#66756c" stroke-width="0.32"/>
<path d="M666.1,300.1L666.8,302.2L664.9,301.1L663.0,300.8L661.7,301.0L660.1,300.9L660.7,299.5L663.6,299.4Z" fill="#66c2a4" stroke="#66756c" stroke-width="0.32"/>
<path d="M658.0,300.2L658.6,301.1L657.6,302.0L656.1,301.5L655.7,300.4Z" fill="#66c2a4" stroke="#66756c" stroke-width="0.32"/>
<path d="M607.6,296.5L609.7,296.2L610.8,298.8L609.4,299.9L608.3,297.5Z" fill="#66c2a4" stroke="#66756c" stroke-width="0.32"/>
<path d="M674.6,307.3L675.6,308.3L674.9,310.2L674.1,309.1Z" fill="#66c2a4" stroke="#66756c" stroke-width="0.32"/>
<path d="M690.7,298.8L690.3,307.4L689.6,316.0L687.7,313.8L685.4,313.3L684.8,314.1L681.8,314.1L683.0,312.0L684.5,311.3L684.1,308.4L683.1,306.2L678.8,304.0L676.8,303.7L673.5,301.3L672.7,302.6L671.8,302.8L671.4,301.9L671.4,300.7L669.7,299.4L672.2,298.5L673.9,298.5L673.7,297.8L670.3,297.8L669.4,296.3L667.3,295.8L666.4,294.5L669.5,293.8L670.7,293.0L674.5,294.1L674.8,295.0L675.3,299.3L677.7,300.9L679.7,298.1L682.5,296.5L684.5,296.5L686.5,297.4L688.2,298.3Z" fill="#66c2a4" stroke="#66756c" stroke-width="0.32"/>
<path d="M690.7,298.8L694.6,300.7L698.8,302.2L700.4,303.5L701.6,304.8L701.9,306.4L705.6,308.0L706.1,309.4L703.9,309.7L704.3,311.4L706.2,313.2L707.5,315.9L708.8,315.9L708.6,317.0L710.4,317.5L709.6,318.0L711.9,319.1L711.6,319.8L710.0,320.0L709.5,319.3L707.6,319.0L705.3,318.7L703.7,317.0L702.5,315.5L701.5,313.2L698.6,312.1L696.6,312.8L695.1,313.7L695.2,315.6L693.3,316.5L692.0,316.1L689.6,316.0L690.3,307.4Z" fill="url(#hatch)" stroke="#c4c4c4" stroke-width="0.5"/>
<path d="M715.8,306.4L714.6,306.6L714.2,307.4L712.8,308.0L711.6,308.6L710.4,308.6L708.5,307.9L707.2,307.1L707.5,306.3L709.6,306.7L710.8,306.5L711.6,305.2L711.8,306.6L713.1,306.4L713.8,305.4L715.2,304.5L715.0,303.0L716.4,302.9L716.8,303.3L716.7,304.8Z" fill="url(#hatch)" stroke="#c4c4c4" stroke-width="0.5"/>
<path d="M718.7,303.8L717.9,304.6L717.6,303.0L717.1,302.0L716.0,301.1L714.8,300.0L713.1,299.2L713.8,298.6L715.0,299.3L715.8,299.9L716.8,300.5L717.6,301.6L718.5,302.5Z" fill="url(#hatch)" stroke="#c4c4c4" stroke-width="0.5"/>
<path d="M722.3,306.1L723.0,306.7L724.0,308.3L725.0,309.2L724.6,309.9L723.9,310.2L723.0,309.2L722.1,307.5L721.7,305.5L722.1,305.3Z" fill="url(#hatch)" stroke="#c4c4c4" stroke-width="0.5"/>
<path d="M726.1,309.4L728.3,311.3L727.8,311.5L726.1,309.9Z" fill="url(#hatch)" stroke="#c4c4c4" stroke-width="0.5"/>
<path d="M729.9,311.5L733.6,314.0L733.4,314.5L730.7,312.8L730.1,312.1Z" fill="url(#hatch)" stroke="#c4c4c4" stroke-width="0.5"/>
<path d="M732.7,316.3L735.4,317.9L734.3,318.0L732.7,317.8Z" fill="url(#hatch)" stroke="#c4c4c4" stroke-width="0.5"/>
<path d="M735.2,313.8L736.6,315.9L737.4,317.3L736.9,317.7L735.5,315.4Z" fill="url(#hatch)" stroke="#c4c4c4" stroke-width="0.5"/>
<path d="M736.3,318.8L738.1,319.6L738.6,320.4L737.0,320.4Z" fill="url(#hatch)" stroke="#c4c4c4" stroke-width="0.5"/>
<path d="M746.8,330.4L747.7,331.3L747.7,333.4L746.7,333.2L746.5,332.5Z" fill="#66c2a4" stroke="#66756c" stroke-width="0.32"/>
<path d="M747.5,333.8L748.6,335.3L747.7,335.7L747.3,334.5Z" fill="#66c2a4" stroke="#66756c" stroke-width="0.32"/>
<path d="M740.9,347.5L742.4,349.1L743.3,350.3L742.3,350.9L741.2,350.2L739.8,349.0L738.7,347.7L737.7,345.8L737.6,344.9L738.6,344.9L739.6,345.8L740.4,346.7Z" fill="url(#hatch)" stroke="#c4c4c4" stroke-width="0.5"/>
<path d="M772.3,337.6L772.9,338.4L772.2,339.8L770.6,340.1L769.5,339.8L769.5,338.6L770.6,337.7L771.6,338.0Z" fill="#66c2a4" stroke="#66756c" stroke-width="0.32"/>
<path d="M774.9,336.2L773.3,336.8L773.3,335.8L774.5,335.2L775.3,335.1L776.8,334.3L776.5,335.6Z" fill="#66c2a4" stroke="#66756c" stroke-width="0.32"/>
<path d="M652.5,315.4L652.3,316.8L650.9,318.7L648.8,319.3L648.6,318.9L648.9,318.0L650.0,316.4L652.4,315.4Z" fill="#66c2a4" stroke="#66756c" stroke-width="0.32"/>
<path d="M652.5,315.4L652.7,314.8L654.8,314.2L656.4,314.1L657.1,313.8L658.0,314.1L657.1,314.8L654.6,316.0L652.6,316.7L652.3,316.8Z" fill="url(#hatch)" stroke="#c4c4c4" stroke-width="0.5"/>
<path d="M742.0,397.4L740.1,398.8L737.7,400.6L735.2,401.6L735.4,400.9L734.8,400.6L737.7,398.4L738.0,397.0L736.4,395.9L737.1,395.0L739.3,394.1L741.1,392.1L742.1,390.3L742.3,388.6L742.7,388.1L742.3,387.0L742.0,384.7L742.2,382.9L743.1,382.6L743.4,384.1L744.8,384.8L743.9,387.1L743.8,389.9L745.0,388.1L745.5,388.8L744.5,390.8L745.7,391.7L747.0,391.9L748.9,390.9L749.8,391.2L747.7,393.5L746.0,395.0L744.4,395.0L743.3,395.8L742.6,396.9Z" fill="url(#hatch)" stroke="#c4c4c4" stroke-width="0.5"/>
<path d="M719.6,406.5L722.5,405.1L724.8,403.8L727.3,401.8L728.6,401.2L730.0,399.7L732.4,398.5L732.0,399.6L731.7,400.7L734.0,399.6L733.8,400.7L733.0,401.8L731.2,403.0L728.3,405.0L726.4,406.0L726.2,407.2L724.5,407.3L721.9,408.2L720.0,410.0L716.6,412.6L714.0,413.7L712.3,414.4L710.5,414.4L709.9,413.5L707.8,413.4L708.2,412.4L710.9,410.5L715.5,407.9L717.3,407.5Z" fill="url(#hatch)" stroke="#c4c4c4" stroke-width="0.5"/>
<path d="M673.2,399.3L674.7,400.2L676.1,399.8L678.1,399.3L679.3,399.5L677.4,402.6L676.1,403.5L674.4,405.6L674.2,404.9L671.5,406.7L671.1,406.5L669.9,406.5L670.1,404.2L671.0,402.5L671.2,400.2L672.0,399.0Z" fill="#005824" stroke="#66756c" stroke-width="0.32"/>
<path d="M396.0,191.4L395.3,193.5L395.7,194.3L395.3,195.6L393.6,194.7L392.5,194.4L389.4,193.1L389.6,191.7L392.2,191.9L394.4,191.7Z" fill="#005824" stroke="#66756c" stroke-width="0.32"/>
<path d="M382.0,183.6L383.4,185.5L383.2,188.9L382.2,188.8L381.4,189.6L380.6,189.0L380.4,185.8L379.8,184.3L381.0,184.4Z" fill="#005824" stroke="#66756c" stroke-width="0.32"/>
<path d="M382.7,181.2L382.1,183.2L381.1,182.7L380.5,180.9L380.9,179.9L382.2,178.9Z" fill="#005824" stroke="#66756c" stroke-width="0.32"/>
<path d="M414.3,198.0L415.6,198.9L417.3,198.8L418.9,199.0L418.9,199.4L420.1,199.1L419.8,199.9L416.7,200.1L416.7,199.7L414.0,199.2Z" fill="#238b45" stroke="#66756c" stroke-width="0.32"/>
<path d="M434.2,199.5L434.4,199.5L434.6,198.9L436.2,198.9L438.1,198.1L436.8,199.2L437.0,199.7L437.1,200.0L435.0,201.0L433.8,200.7L433.2,199.6Z" fill="#005824" stroke="#66756c" stroke-width="0.32"/>
<path d="M386.2,145.6L387.0,146.8L386.0,148.9L383.8,147.5L383.5,146.4Z" fill="#005824" stroke="#66756c" stroke-width="0.32"/>
<path d="M477.0,324.8L477.6,325.9L478.0,327.7L478.2,330.8L478.8,332.1L478.5,333.3L478.0,334.1L477.3,332.5L476.8,333.3L477.1,335.3L476.8,336.4L476.2,337.0L475.9,339.2L474.8,342.3L473.4,345.9L471.6,350.9L470.4,354.6L469.2,357.6L467.2,358.3L465.2,359.4L463.9,358.7L462.2,357.8L461.7,356.4L461.7,354.0L461.1,351.9L461.0,350.0L461.5,348.2L462.6,347.7L462.7,346.8L463.9,344.8L464.2,343.2L463.8,341.9L463.4,340.2L463.4,337.8L464.3,336.3L464.7,334.7L465.9,334.6L467.2,334.0L468.1,333.5L469.1,333.5L470.5,332.0L472.5,330.4L473.2,329.1L473.0,327.9L473.9,328.3L475.3,326.4L475.4,324.9L476.2,323.7Z" fill="#99d8c9" stroke="#66756c" stroke-width="0.32"/>
<path d="M453.5,307.1L454.3,308.1L454.2,309.0L453.6,308.4Z" fill="url(#hatch)" stroke="#c4c4c4" stroke-width="0.5"/>
<path d="M462.5,322.0L463.1,322.5L462.9,323.4L462.5,323.0Z" fill="url(#hatch)" stroke="#c4c4c4" stroke-width="0.5"/>
<path d="M493.6,344.6L494.5,344.9L494.3,345.8L493.6,345.8Z" fill="url(#hatch)" stroke="#c4c4c4" stroke-width="0.5"/>
<path d="M307.8,251.7L308.3,252.5L308.0,252.8L307.5,252.3Z" fill="url(#hatch)" stroke="#c4c4c4" stroke-width="0.5"/>
<path d="M304.2,247.0L304.9,246.9L304.9,247.4L304.2,247.5Z" fill="url(#hatch)" stroke="#c4c4c4" stroke-width="0.5"/>
<path d="M306.0,252.7L306.4,252.4L306.4,253.1Z" fill="url(#hatch)" stroke="#c4c4c4" stroke-width="0.5"/>
<path d="M382.1,282.9L383.1,282.3L383.1,283.3L382.4,283.6Z" fill="#66c2a4" stroke="#66756c" stroke-width="0.32"/>
<path d="M693.9,328.2L694.5,330.3L696.1,329.3L696.7,330.4L697.6,331.4L697.2,332.6L697.3,334.9L697.4,336.2L697.9,336.5L698.0,338.7L697.5,340.1L697.9,341.9L700.1,343.3L701.4,344.5L702.7,345.7L702.3,346.3L703.2,347.9L703.4,350.8L704.5,350.2L705.1,351.4L705.8,350.9L705.5,353.7L706.7,355.4L707.4,356.4L708.6,358.5L708.6,360.6L708.1,362.1L707.4,363.7L707.7,366.0L706.7,368.3L705.8,369.5L704.3,371.9L703.7,373.4L702.4,375.3L700.3,377.7L698.1,378.9L696.3,381.0L694.9,382.3L693.1,384.5L691.6,385.9L690.0,387.8L688.7,389.6L688.3,390.5L686.6,391.4L684.1,391.5L681.5,392.5L679.9,393.6L678.0,394.7L676.9,393.5L675.8,393.1L676.9,391.7L675.4,392.2L672.5,394.1L671.0,393.4L670.0,393.0L668.9,392.8L667.2,392.0L666.6,390.4L667.3,388.4L667.9,386.0L666.9,386.0L664.9,385.7L666.2,384.4L666.6,382.5L664.7,384.3L662.5,384.8L664.3,383.3L665.4,381.8L666.8,380.5L667.5,378.6L664.7,380.8L662.9,381.7L661.1,383.8L659.9,382.7L660.6,381.3L660.0,379.4L659.3,378.4L659.9,377.8L657.8,376.2L656.2,376.2L654.6,374.9L650.5,375.1L647.0,376.8L644.4,376.9L642.4,376.8L639.5,378.1L637.3,378.7L636.4,380.1L635.1,381.2L633.2,381.2L631.7,381.5L630.0,381.0L628.3,381.3L626.7,381.4L624.9,382.8L624.3,382.7L622.9,383.4L621.5,384.3L619.9,384.2L618.5,384.2L616.8,382.5L615.8,382.0L616.4,380.5L617.6,380.1L618.2,379.5L618.5,378.6L619.4,376.8L619.7,375.2L619.4,372.5L619.5,371.0L620.1,369.5L619.7,367.8L619.8,367.0L619.1,366.0L619.4,363.9L618.6,361.8L618.6,360.7L619.3,361.9L619.1,359.4L620.1,360.2L620.5,361.2L620.8,359.9L620.1,357.8L620.1,356.9L619.7,356.2L620.3,354.7L620.9,354.0L621.4,352.7L621.5,351.2L622.7,349.3L622.6,351.3L623.9,349.4L625.9,348.6L627.2,347.4L629.1,346.5L630.2,346.3L630.7,346.6L632.7,345.6L634.1,345.3L634.6,344.7L635.2,344.5L636.5,344.6L639.0,343.8L640.5,342.6L641.3,341.2L642.9,339.9L643.2,338.8L643.5,337.4L645.5,335.2L646.1,337.4L647.1,336.9L646.5,335.7L647.5,334.4L648.4,335.0L649.0,333.0L650.4,331.7L651.1,330.6L652.4,330.2L652.5,329.4L653.5,329.8L653.6,329.1L654.7,328.7L655.8,328.4L657.4,329.6L658.4,331.1L659.9,331.2L661.3,331.4L661.0,329.9L662.4,327.8L663.6,327.2L663.3,326.5L664.5,325.0L666.0,324.0L667.2,324.4L669.2,323.9L669.3,322.5L667.7,321.7L669.0,321.3L670.4,321.9L671.5,323.0L673.4,323.7L674.1,323.4L675.4,324.2L676.8,323.5L677.7,323.7L678.3,323.2L679.2,324.5L678.4,325.9L677.4,327.0L676.6,327.0L676.7,328.1L675.8,329.4L674.8,330.7L674.8,331.5L676.5,332.9L678.1,333.8L679.1,334.7L680.5,336.2L681.1,336.2L682.2,336.9L682.4,337.7L684.4,338.6L686.1,337.7L686.8,336.3L687.5,335.1L688.1,333.7L689.1,331.6L689.0,330.3L689.3,329.5L689.3,328.0L689.9,326.0L690.4,325.5L690.1,324.7L690.9,323.3L691.5,321.8L691.6,321.0L692.6,320.1L693.1,321.4L693.1,323.0L693.6,323.3L693.6,324.4L694.2,325.8L694.2,327.3Z" fill="#005824" stroke="#66756c" stroke-width="0.32"/>
<path d="M491.2,304.0L491.6,304.1L491.5,304.6L491.2,304.4Z" fill="url(#hatch)" stroke="#c4c4c4" stroke-width="0.5"/>
<path d="M433.7,91.1L436.1,91.4L435.7,91.7L434.0,91.9L432.8,92.1L432.7,92.3L431.3,92.6L429.4,92.2L429.9,91.7L426.7,91.6L429.3,91.3L431.4,91.3L432.0,91.8L432.6,91.4Z" fill="#238b45" stroke="#66756c" stroke-width="0.32"/>
<path d="M393.4,197.1L394.2,197.5L394.1,197.8L393.7,197.7Z" fill="#238b45" stroke="#66756c" stroke-width="0.32"/></svg>
<svg id="chrome" width="850" height="600" viewBox="0 0 850 600" style="position:absolute;left:0;top:0">
<text font-family="'Liberation Serif', serif" font-weight="bold" fill="#363636" font-size="27.5"><tspan x="17" y="40.3" textLength="434.6" lengthAdjust="spacingAndGlyphs">Mean income or consumption per day,</tspan><tspan> </tspan><tspan x="460" y="40.3" font-size="19.6" textLength="37.6" lengthAdjust="spacingAndGlyphs">202</tspan><tspan x="498.6" y="43.8" font-size="25" textLength="13.2" lengthAdjust="spacingAndGlyphs">4</tspan></text>
<text x="17.0" y="66.3" font-size="14" font-family="'Liberation Sans', sans-serif" fill="#5b5b5b" textLength="538.8" lengthAdjust="spacingAndGlyphs">This data is adjusted for inflation and differences in living costs between countries.</text>
<rect x="769.1" y="15.9" width="64.8" height="35.9" fill="#002147"/>
<rect x="769.1" y="49.1" width="64.8" height="2.7" fill="#ce261e"/>
<text x="773.9" y="30.6" font-size="11.5" font-family="'Liberation Sans', sans-serif" fill="#ffffff" font-weight="bold" textLength="54.7" lengthAdjust="spacingAndGlyphs">Our World</text>
<text x="783.5" y="42.6" font-size="11.5" font-family="'Liberation Sans', sans-serif" fill="#ffffff" font-weight="bold" textLength="35.9" lengthAdjust="spacingAndGlyphs">in Data</text>
<text x="158.0" y="475.3" font-size="12.6" font-family="'Liberation Sans', sans-serif" fill="#4a4a4a" textLength="46.0" lengthAdjust="spacingAndGlyphs">No data</text>
<rect x="157.2" y="482.1" width="47.7" height="10.3" fill="url(#hatch2)" stroke="#b4b4b4" stroke-width="0.6"/>
<line x1="181" y1="479.6" x2="181" y2="482.1" stroke="#b4b4b4" stroke-width="0.6"/>
<rect x="224.60" y="482.1" width="58.54" height="10.3" fill="#f7fcfd" stroke="#a8a8a8" stroke-width="0.5"/>
<rect x="283.14" y="482.1" width="58.54" height="10.3" fill="#e5f5f9" stroke="#a8a8a8" stroke-width="0.5"/>
<rect x="341.68" y="482.1" width="58.54" height="10.3" fill="#ccece6" stroke="#a8a8a8" stroke-width="0.5"/>
<rect x="400.22" y="482.1" width="58.54" height="10.3" fill="#99d8c9" stroke="#a8a8a8" stroke-width="0.5"/>
<rect x="458.76" y="482.1" width="58.54" height="10.3" fill="#66c2a4" stroke="#a8a8a8" stroke-width="0.5"/>
<rect x="517.30" y="482.1" width="58.54" height="10.3" fill="#41ae76" stroke="#a8a8a8" stroke-width="0.5"/>
<rect x="575.84" y="482.1" width="58.54" height="10.3" fill="#238b45" stroke="#a8a8a8" stroke-width="0.5"/>
<path d="M634.38,482.1 H687.4 L692.9,487.25 L687.4,492.4 H634.38 Z" fill="#005824" stroke="#a8a8a8" stroke-width="0.3"/>
<line x1="224.60" y1="479.6" x2="224.60" y2="482.1" stroke="#a8a8a8" stroke-width="0.6"/>
<line x1="224.60" y1="482.1" x2="224.60" y2="492.4" stroke="#000" stroke-opacity="0.3" stroke-width="0.6"/>
<text x="217.9" y="475.5" font-size="12.6" font-family="'Liberation Sans', sans-serif" fill="#4a4a4a" textLength="14.4" lengthAdjust="spacingAndGlyphs">$0</text>
<line x1="283.14" y1="479.6" x2="283.14" y2="482.1" stroke="#a8a8a8" stroke-width="0.6"/>
<line x1="283.14" y1="482.1" x2="283.14" y2="492.4" stroke="#000" stroke-opacity="0.3" stroke-width="0.6"/>
<text x="276.4" y="475.5" font-size="12.6" font-family="'Liberation Sans', sans-serif" fill="#4a4a4a" textLength="14.4" lengthAdjust="spacingAndGlyphs">$0</text>
<line x1="341.68" y1="479.6" x2="341.68" y2="482.1" stroke="#a8a8a8" stroke-width="0.6"/>
<line x1="341.68" y1="482.1" x2="341.68" y2="492.4" stroke="#000" stroke-opacity="0.3" stroke-width="0.6"/>
<text x="335.0" y="475.5" font-size="12.6" font-family="'Liberation Sans', sans-serif" fill="#4a4a4a" textLength="14.4" lengthAdjust="spacingAndGlyphs">$1</text>
<line x1="400.22" y1="479.6" x2="400.22" y2="482.1" stroke="#a8a8a8" stroke-width="0.6"/>
<line x1="400.22" y1="482.1" x2="400.22" y2="492.4" stroke="#000" stroke-opacity="0.3" stroke-width="0.6"/>
<text x="393.5" y="475.5" font-size="12.6" font-family="'Liberation Sans', sans-serif" fill="#4a4a4a" textLength="14.4" lengthAdjust="spacingAndGlyphs">$2</text>
<line x1="458.76" y1="479.6" x2="458.76" y2="482.1" stroke="#a8a8a8" stroke-width="0.6"/>
<line x1="458.76" y1="482.1" x2="458.76" y2="492.4" stroke="#000" stroke-opacity="0.3" stroke-width="0.6"/>
<text x="452.1" y="475.5" font-size="12.6" font-family="'Liberation Sans', sans-serif" fill="#4a4a4a" textLength="14.4" lengthAdjust="spacingAndGlyphs">$5</text>
<line x1="517.30" y1="479.6" x2="517.30" y2="482.1" stroke="#a8a8a8" stroke-width="0.6"/>
<line x1="517.30" y1="482.1" x2="517.30" y2="492.4" stroke="#000" stroke-opacity="0.3" stroke-width="0.6"/>
<text x="506.4" y="475.5" font-size="12.6" font-family="'Liberation Sans', sans-serif" fill="#4a4a4a" textLength="22.7" lengthAdjust="spacingAndGlyphs">$10</text>
<line x1="575.84" y1="479.6" x2="575.84" y2="482.1" stroke="#a8a8a8" stroke-width="0.6"/>
<line x1="575.84" y1="482.1" x2="575.84" y2="492.4" stroke="#000" stroke-opacity="0.3" stroke-width="0.6"/>
<text x="565.0" y="475.5" font-size="12.6" font-family="'Liberation Sans', sans-serif" fill="#4a4a4a" textLength="22.7" lengthAdjust="spacingAndGlyphs">$20</text>
<line x1="634.38" y1="479.6" x2="634.38" y2="482.1" stroke="#a8a8a8" stroke-width="0.6"/>
<line x1="634.38" y1="482.1" x2="634.38" y2="492.4" stroke="#000" stroke-opacity="0.3" stroke-width="0.6"/>
<text x="623.5" y="475.5" font-size="12.6" font-family="'Liberation Sans', sans-serif" fill="#4a4a4a" textLength="22.7" lengthAdjust="spacingAndGlyphs">$50</text>
<text x="16.8" y="525.0" font-size="13" font-family="'Liberation Sans', sans-serif" fill="#5b5b5b" font-weight="bold" textLength="71.4" lengthAdjust="spacingAndGlyphs">Data source:</text>
<text x="92.6" y="525.0" font-size="13" font-family="'Liberation Sans', sans-serif" fill="#5b5b5b" textLength="580.9" lengthAdjust="spacingAndGlyphs">World Bank Poverty and Inequality Platform (2025); HYDE (2023); Gapminder (2022); UN WPP (2024)</text>
<text x="16.8" y="545.2" font-size="13" font-family="'Liberation Sans', sans-serif" fill="#5b5b5b" font-weight="bold" textLength="30.6" lengthAdjust="spacingAndGlyphs">Note:</text>
<text x="51.5" y="545.2" font-size="13" font-family="'Liberation Sans', sans-serif" fill="#5b5b5b" textLength="758.7" lengthAdjust="spacingAndGlyphs">This data is expressed in international-$ at 2021 prices. Depending on the country and year, it relates to income (measured after taxes</text>
<text x="16.8" y="560.9" font-size="13" font-family="'Liberation Sans', sans-serif" fill="#5b5b5b" textLength="245.7" lengthAdjust="spacingAndGlyphs">and benefits) or to consumption, per capita.</text>
<text x="16.8" y="580.8" font-size="13" font-family="'Liberation Sans', sans-serif" fill="#5b5b5b" textLength="160.7" lengthAdjust="spacingAndGlyphs">economic-inequality | CC BY</text>
<defs><pattern id="hatch2" patternUnits="userSpaceOnUse" width="4" height="4" patternTransform="rotate(-45)"><rect width="4" height="4" fill="#fff"/><rect y="1.4" width="4" height="1.2" fill="#dcdcdc"/></pattern></defs>
</svg>
</body></html>
